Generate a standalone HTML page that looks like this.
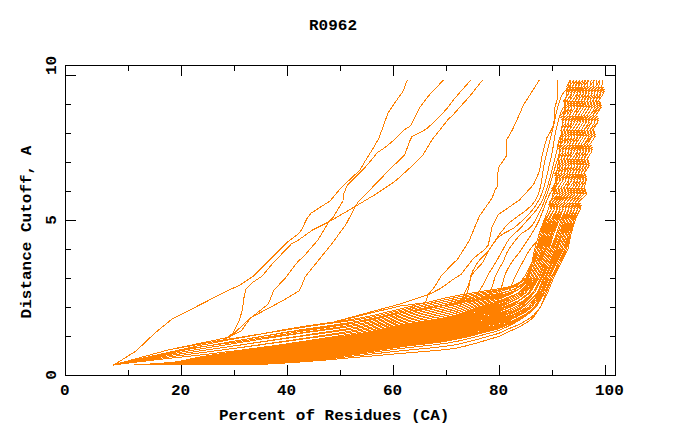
<!DOCTYPE html>
<html><head><meta charset="utf-8"><style>
html,body{margin:0;padding:0;background:#fff;width:680px;height:440px;overflow:hidden}
svg{display:block}
text{font-family:"Liberation Mono",monospace;font-weight:bold}
</style></head><body>
<svg width="680" height="440" viewBox="0 0 680 440">
<rect width="680" height="440" fill="#fff"/>
<g fill="none" stroke="#ff8000" stroke-width="1" shape-rendering="crispEdges">
<polyline points="143.0,365.0 248.1,364.6 252.1,364.4 256.0,364.3 259.9,364.1 263.8,363.9 267.5,363.7 271.2,363.5 274.9,363.3 278.5,363.1 282.1,362.8 285.6,362.5 289.0,362.3 292.4,362.0 295.7,361.7 299.0,361.5 302.2,361.2 305.4,361.0 308.5,360.7 311.6,360.4 314.7,360.1 317.7,359.8 320.7,359.5 323.6,359.2 326.5,359.0 329.4,358.7 332.2,358.4 335.0,358.1 337.7,357.8 340.5,357.5 343.1,357.2 345.8,356.9 348.4,356.6 351.0,356.3 353.6,356.1 356.1,355.8 358.7,355.5 361.2,355.3 363.6,355.0 366.1,354.7 368.5,354.5 370.9,354.2 373.3,353.9 375.7,353.7 378.0,353.4 380.4,353.1 382.7,352.9 385.0,352.6 387.3,352.3 389.6,352.1 391.8,351.8 394.1,351.6 396.3,351.3 398.5,351.1 400.7,350.8 402.9,350.6 405.1,350.4 407.3,350.2 409.4,349.9 411.6,349.7 413.7,349.5 415.9,349.3 418.0,349.1 420.1,348.9 422.3,348.7 424.4,348.5 426.5,348.3 428.6,348.1 430.8,347.9 432.9,347.7 435.0,347.4 437.1,347.2 439.2,347.0 441.3,346.7 443.4,346.5 445.5,346.2 447.6,345.9 449.7,345.6 451.8,345.3 453.9,345.0 456.0,344.6 458.1,344.2 460.2,343.8 462.2,343.3 464.3,342.8 466.4,342.3 468.4,341.7 470.5,341.2 472.5,340.7 474.6,340.2 476.6,339.6 478.7,339.0 480.7,338.5 482.8,337.9 484.8,337.3 486.9,336.7 488.9,336.1 491.0,335.5 493.1,334.9 495.2,334.4 497.2,333.8 499.3,333.1 501.3,332.2 503.2,331.3 505.1,330.4 507.1,329.5 509.1,328.6 511.1,327.8 513.1,327.0 515.1,326.2 517.1,325.3 519.1,324.4 521.0,323.4 522.9,322.4 524.8,321.3 526.7,320.2 528.5,319.1 530.3,317.9 532.0,316.5 533.7,315.1 535.1,313.5 540.5,307.0 547.7,292.5 553.5,278.0 560.8,263.5 568.0,249.0 570.9,234.5 575.2,220.0 580.6,209.0 579.4,208.1 581.0,207.2 578.9,206.4 580.5,205.5 578.4,204.6 580.0,203.8 577.9,202.9 578.6,202.0 586.4,194.5 585.2,193.6 586.8,192.8 584.8,191.9 586.3,191.0 584.2,190.1 585.8,189.2 583.8,188.4 584.4,187.5 586.4,180.0 585.2,179.1 586.8,178.2 584.8,177.4 586.3,176.5 584.2,175.6 585.8,174.8 583.8,173.9 584.4,173.0 589.3,165.5 588.1,164.6 589.7,163.8 587.6,162.9 589.2,162.0 587.1,161.1 588.7,160.2 586.6,159.4 587.3,158.5 592.2,151.0 591.0,150.1 592.6,149.2 590.5,148.4 592.1,147.5 590.0,146.6 591.6,145.8 589.5,144.9 590.2,144.0 595.1,136.5 594.0,135.6 595.5,134.8 593.5,133.9 595.0,133.0 593.0,132.1 594.5,131.2 592.5,130.4 593.1,129.5 598.0,122.0 596.9,121.1 598.4,120.2 596.4,119.4 597.9,118.5 595.9,117.6 597.4,116.8 595.4,115.9 596.0,115.0 600.9,107.5 599.8,106.6 601.3,105.8 599.2,104.9 600.8,104.0 598.8,103.1 600.3,102.2 598.2,101.4 598.9,100.5 603.8,93.0 602.6,92.1 604.2,91.2 602.1,90.4 603.7,89.5 601.6,88.6 603.2,87.8 601.1,86.9 601.8,86.0 602.8,80.0"/>
<polyline points="140.7,365.0 203.0,364.6 207.9,364.5 212.7,364.5 217.4,364.4 222.0,364.3 226.5,364.3 231.0,364.2 235.3,364.0 239.6,363.9 243.8,363.8 247.9,363.6 252.0,363.5 256.0,363.3 259.9,363.1 263.8,362.9 267.6,362.6 271.3,362.4 275.0,362.1 278.7,361.8 282.2,361.5 285.8,361.2 289.2,360.8 292.7,360.5 296.0,360.2 299.3,359.9 302.6,359.5 305.8,359.2 309.0,358.9 312.1,358.5 315.2,358.2 318.2,357.8 321.2,357.4 324.2,357.1 327.1,356.7 330.0,356.3 332.8,356.0 335.6,355.6 338.4,355.2 341.1,354.8 343.8,354.5 346.5,354.1 349.1,353.8 351.7,353.4 354.3,353.0 356.8,352.7 359.4,352.3 361.8,352.0 364.3,351.6 366.8,351.3 369.2,350.9 371.6,350.6 374.0,350.2 376.3,349.8 378.7,349.5 381.0,349.1 383.3,348.7 385.6,348.4 387.8,348.0 390.1,347.6 392.3,347.3 394.5,347.0 396.7,346.6 398.9,346.3 401.0,346.0 403.2,345.7 405.3,345.5 407.4,345.2 409.6,344.9 411.7,344.7 413.8,344.4 415.9,344.2 418.0,343.9 420.0,343.7 422.1,343.4 424.2,343.2 426.3,342.9 428.3,342.7 430.4,342.4 432.4,342.2 434.5,341.9 436.5,341.7 438.6,341.4 440.6,341.1 442.7,340.8 444.7,340.5 446.7,340.1 448.8,339.8 450.8,339.4 452.8,339.1 454.9,338.7 456.9,338.2 458.9,337.8 460.9,337.4 462.9,336.9 464.9,336.4 466.9,336.0 468.9,335.5 470.9,335.0 472.9,334.5 474.9,333.9 476.9,333.4 478.9,332.9 480.9,332.4 482.9,331.8 484.9,331.3 487.0,330.8 489.0,330.2 491.0,329.7 493.1,329.2 495.1,328.7 497.1,328.0 499.1,327.3 501.1,326.6 503.0,325.8 505.0,325.0 506.9,324.2 508.9,323.3 510.8,322.5 512.7,321.7 514.7,320.9 516.6,320.0 518.5,319.1 520.4,318.1 522.3,317.1 524.2,316.1 526.0,315.0 527.8,313.9 529.6,312.7 536.1,307.0 544.8,292.5 552.0,278.0 560.8,263.5 566.5,249.0 570.9,234.5 573.8,220.0 580.6,209.0 579.4,208.1 581.0,207.2 578.9,206.4 580.5,205.5 578.4,204.6 580.0,203.8 577.9,202.9 578.6,202.0 586.4,194.5 585.2,193.6 586.8,192.8 584.8,191.9 586.3,191.0 584.2,190.1 585.8,189.2 583.8,188.4 584.4,187.5 586.4,180.0 585.2,179.1 586.8,178.2 584.8,177.4 586.3,176.5 584.2,175.6 585.8,174.8 583.8,173.9 584.4,173.0 589.3,165.5 588.1,164.6 589.7,163.8 587.6,162.9 589.2,162.0 587.1,161.1 588.7,160.2 586.6,159.4 587.3,158.5 592.2,151.0 591.0,150.1 592.6,149.2 590.5,148.4 592.1,147.5 590.0,146.6 591.6,145.8 589.5,144.9 590.2,144.0 595.1,136.5 594.0,135.6 595.5,134.8 593.5,133.9 595.0,133.0 593.0,132.1 594.5,131.2 592.5,130.4 593.1,129.5 598.0,122.0 596.9,121.1 598.4,120.2 596.4,119.4 597.9,118.5 595.9,117.6 597.4,116.8 595.4,115.9 596.0,115.0 600.9,107.5 598.9,100.5 603.8,93.0 602.6,92.1 604.2,91.2 602.1,90.4 603.7,89.5 601.6,88.6 603.2,87.8 601.1,86.9 601.8,86.0 602.8,80.0"/>
<polyline points="141.0,365.0 239.2,364.5 243.4,364.4 247.5,364.3 251.5,364.1 255.5,363.9 259.4,363.7 263.3,363.5 267.1,363.3 270.9,363.0 274.6,362.8 278.2,362.5 281.8,362.2 285.4,361.9 288.8,361.6 292.3,361.2 295.6,360.9 298.9,360.6 302.2,360.3 305.4,359.9 308.6,359.6 311.7,359.3 314.8,358.9 317.9,358.5 320.9,358.2 323.9,357.8 326.8,357.4 329.6,357.1 332.5,356.7 335.3,356.3 338.1,356.0 340.8,355.6 343.5,355.2 346.2,354.9 348.8,354.5 351.5,354.2 354.1,353.8 356.6,353.5 359.1,353.1 361.6,352.8 364.1,352.4 366.5,352.1 369.0,351.7 371.4,351.4 373.8,351.0 376.1,350.6 378.5,350.3 380.8,349.9 383.1,349.5 385.4,349.2 387.7,348.8 389.9,348.5 392.1,348.1 394.4,347.8 396.6,347.5 398.7,347.2 400.9,346.9 403.1,346.6 405.2,346.3 407.4,346.0 409.5,345.8 411.6,345.5 413.7,345.3 415.8,345.0 417.9,344.8 420.0,344.5 422.1,344.3 424.2,344.1 426.3,343.8 428.3,343.6 430.4,343.3 432.5,343.1 434.5,342.8 436.6,342.5 438.6,342.3 440.7,342.0 442.7,341.7 444.8,341.4 446.8,341.0 448.9,340.7 450.9,340.3 452.9,339.9 455.0,339.5 457.0,339.1 459.0,338.7 461.1,338.3 463.1,337.8 465.1,337.3 467.1,336.9 469.1,336.4 471.1,335.9 473.1,335.4 475.2,334.9 477.2,334.3 479.2,333.8 481.2,333.3 483.2,332.8 485.2,332.2 487.3,331.7 489.3,331.2 491.4,330.7 493.4,330.1 495.5,329.6 497.5,329.0 499.5,328.2 501.4,327.5 503.4,326.7 505.3,325.8 507.3,325.0 509.2,324.1 511.1,323.2 513.1,322.4 515.0,321.5 516.9,320.6 518.8,319.6 520.7,318.6 522.5,317.6 524.4,316.5 526.2,315.4 528.0,314.2 529.7,313.0 536.1,307.0 544.8,292.5 552.0,278.0 559.3,263.5 566.5,249.0 569.5,234.5 573.8,220.0 577.7,209.0 576.6,208.1 578.1,207.2 576.1,206.4 577.6,205.5 575.6,204.6 577.1,203.8 575.1,202.9 575.7,202.0 583.5,194.5 582.4,193.6 583.9,192.8 581.9,191.9 583.4,191.0 581.4,190.1 582.9,189.2 580.9,188.4 581.5,187.5 586.4,180.0 585.2,179.1 586.8,178.2 584.8,177.4 586.3,176.5 584.2,175.6 585.8,174.8 583.8,173.9 584.4,173.0 586.4,165.5 585.2,164.6 586.8,163.8 584.8,162.9 586.3,162.0 584.2,161.1 585.8,160.2 583.8,159.4 584.4,158.5 589.3,151.0 588.1,150.1 589.7,149.2 587.6,148.4 589.2,147.5 587.1,146.6 588.7,145.8 586.6,144.9 587.3,144.0 592.2,136.5 591.0,135.6 592.6,134.8 590.5,133.9 592.1,133.0 590.0,132.1 591.6,131.2 589.5,130.4 590.2,129.5 598.0,122.0 596.9,121.1 598.4,120.2 596.4,119.4 597.9,118.5 595.9,117.6 597.4,116.8 595.4,115.9 596.0,115.0 600.9,107.5 599.8,106.6 601.3,105.8 599.2,104.9 600.8,104.0 598.8,103.1 600.3,102.2 598.2,101.4 598.9,100.5 600.9,93.0 599.8,92.1 601.3,91.2 599.2,90.4 600.8,89.5 598.8,88.6 600.3,87.8 598.2,86.9 598.9,86.0 599.9,80.0"/>
<polyline points="140.5,365.0 187.6,364.5 192.9,364.4 198.2,364.3 203.3,364.2 208.1,364.1 213.0,364.0 217.8,363.9 222.4,363.8 226.9,363.7 231.4,363.6 235.7,363.5 240.0,363.4 244.2,363.2 248.4,363.0 252.4,362.8 256.4,362.6 260.3,362.4 264.2,362.2 268.0,362.0 271.8,361.7 275.4,361.4 279.1,361.1 282.7,360.8 286.2,360.5 289.7,360.1 293.1,359.8 296.4,359.5 299.7,359.1 303.0,358.8 306.2,358.5 309.4,358.1 312.5,357.8 315.6,357.4 318.6,357.1 321.6,356.7 324.5,356.3 327.4,355.9 330.3,355.6 333.1,355.2 335.9,354.8 338.7,354.5 341.4,354.1 344.1,353.7 346.8,353.4 349.4,353.0 352.0,352.6 354.6,352.3 357.1,351.9 359.6,351.6 362.1,351.2 364.5,350.9 367.0,350.5 369.4,350.1 371.8,349.8 374.2,349.4 376.5,349.0 378.8,348.6 381.2,348.3 383.4,347.9 385.7,347.5 388.0,347.2 390.2,346.8 392.4,346.5 394.6,346.1 396.8,345.8 399.0,345.5 401.1,345.2 403.3,344.9 405.4,344.6 407.5,344.3 409.6,344.1 411.7,343.8 413.8,343.6 415.9,343.3 418.0,343.1 420.1,342.8 422.1,342.6 424.2,342.3 426.3,342.1 428.3,341.8 430.4,341.6 432.4,341.3 434.4,341.0 436.5,340.8 438.5,340.5 440.6,340.2 442.6,339.9 444.6,339.6 446.6,339.3 448.7,338.9 450.7,338.6 452.7,338.2 454.7,337.8 456.7,337.4 458.7,336.9 460.7,336.5 462.7,336.0 464.7,335.5 466.7,335.1 468.7,334.6 470.7,334.1 472.7,333.5 474.7,333.0 476.7,332.5 478.7,332.0 480.7,331.4 482.7,330.9 484.7,330.3 486.7,329.8 488.7,329.3 490.7,328.8 492.7,328.3 494.8,327.7 496.8,327.1 498.7,326.4 500.7,325.7 502.7,324.9 504.6,324.1 506.5,323.3 508.5,322.5 510.4,321.6 512.3,320.8 514.3,320.0 516.2,319.1 518.1,318.2 520.0,317.2 521.8,316.2 523.7,315.2 525.5,314.1 527.3,313.0 534.6,307.0 544.8,292.5 550.6,278.0 559.3,263.5 565.1,249.0 569.5,234.5 572.3,220.0 577.7,209.0 576.6,208.1 578.1,207.2 576.1,206.4 577.6,205.5 575.6,204.6 577.1,203.8 575.1,202.9 575.7,202.0 583.5,194.5 582.4,193.6 583.9,192.8 581.9,191.9 583.4,191.0 581.4,190.1 582.9,189.2 580.9,188.4 581.5,187.5 586.4,180.0 585.2,179.1 586.8,178.2 584.8,177.4 586.3,176.5 584.2,175.6 585.8,174.8 583.8,173.9 584.4,173.0 586.4,165.5 585.2,164.6 586.8,163.8 584.8,162.9 586.3,162.0 584.2,161.1 585.8,160.2 583.8,159.4 584.4,158.5 589.3,151.0 587.3,144.0 592.2,136.5 591.0,135.6 592.6,134.8 590.5,133.9 592.1,133.0 590.0,132.1 591.6,131.2 589.5,130.4 590.2,129.5 595.1,122.0 593.1,115.0 600.9,107.5 599.8,106.6 601.3,105.8 599.2,104.9 600.8,104.0 598.8,103.1 600.3,102.2 598.2,101.4 598.9,100.5 600.9,93.0 599.8,92.1 601.3,91.2 599.2,90.4 600.8,89.5 598.8,88.6 600.3,87.8 598.2,86.9 598.9,86.0 599.9,80.0"/>
<polyline points="143.0,365.0 256.4,364.5 260.2,364.4 264.1,364.2 267.8,364.0 271.5,363.9 275.1,363.6 278.7,363.4 282.2,363.2 285.7,363.0 289.1,362.7 292.5,362.5 295.8,362.3 299.0,362.1 302.2,361.8 305.4,361.6 308.5,361.4 311.5,361.2 314.6,360.9 317.6,360.7 320.5,360.4 323.5,360.2 326.3,360.0 329.2,359.7 332.0,359.5 334.7,359.2 337.5,359.0 340.2,358.7 342.9,358.5 345.5,358.3 348.2,358.0 350.7,357.8 353.3,357.6 355.9,357.4 358.4,357.1 360.9,356.9 363.3,356.7 365.8,356.5 368.2,356.3 370.6,356.1 373.0,355.9 375.4,355.7 377.8,355.5 380.1,355.3 382.4,355.1 384.7,354.9 387.0,354.7 389.3,354.4 391.6,354.2 393.9,354.0 396.1,353.8 398.3,353.6 400.6,353.5 402.8,353.3 405.0,353.1 407.2,352.9 409.4,352.7 411.6,352.5 413.7,352.4 415.9,352.2 418.1,352.0 420.2,351.8 422.4,351.6 424.5,351.5 426.7,351.3 428.9,351.1 431.0,350.9 433.1,350.7 435.3,350.5 437.4,350.3 439.6,350.1 441.7,349.9 443.9,349.7 446.0,349.5 448.1,349.2 450.3,349.0 452.4,348.7 454.6,348.3 456.7,348.0 458.8,347.6 460.9,347.1 463.0,346.7 465.1,346.1 467.2,345.6 469.3,345.0 471.4,344.4 473.4,343.9 475.5,343.3 477.6,342.8 479.7,342.2 481.8,341.5 483.8,340.9 485.9,340.3 488.0,339.6 490.0,339.0 492.1,338.4 494.2,337.8 496.3,337.2 498.4,336.6 500.5,335.8 502.4,334.9 504.4,333.8 506.3,332.8 508.2,331.8 510.2,331.0 512.3,330.1 514.3,329.3 516.3,328.4 518.3,327.4 520.2,326.4 522.1,325.3 524.0,324.1 525.8,323.0 527.7,321.8 529.5,320.5 531.2,319.2 532.8,317.7 534.4,316.0 535.8,314.2 537.0,312.3 540.5,307.0 546.2,292.5 552.0,278.0 557.8,263.5 565.1,249.0 568.0,234.5 572.3,220.0 577.7,209.0 576.6,208.1 578.1,207.2 576.1,206.4 577.6,205.5 575.6,204.6 577.1,203.8 575.1,202.9 575.7,202.0 583.5,194.5 582.4,193.6 583.9,192.8 581.9,191.9 583.4,191.0 581.4,190.1 582.9,189.2 580.9,188.4 581.5,187.5 583.5,180.0 582.4,179.1 583.9,178.2 581.9,177.4 583.4,176.5 581.4,175.6 582.9,174.8 580.9,173.9 581.5,173.0 586.4,165.5 585.2,164.6 586.8,163.8 584.8,162.9 586.3,162.0 584.2,161.1 585.8,160.2 583.8,159.4 584.4,158.5 589.3,151.0 588.1,150.1 589.7,149.2 587.6,148.4 589.2,147.5 587.1,146.6 588.7,145.8 586.6,144.9 587.3,144.0 592.2,136.5 591.0,135.6 592.6,134.8 590.5,133.9 592.1,133.0 590.0,132.1 591.6,131.2 589.5,130.4 590.2,129.5 595.1,122.0 594.0,121.1 595.5,120.2 593.5,119.4 595.0,118.5 593.0,117.6 594.5,116.8 592.5,115.9 593.1,115.0 598.0,107.5 596.9,106.6 598.4,105.8 596.4,104.9 597.9,104.0 595.9,103.1 597.4,102.2 595.4,101.4 596.0,100.5 600.9,93.0 599.8,92.1 601.3,91.2 599.2,90.4 600.8,89.5 598.8,88.6 600.3,87.8 598.2,86.9 598.9,86.0 599.9,80.0"/>
<polyline points="139.9,365.0 176.3,364.5 182.1,364.3 187.8,364.1 193.3,363.8 198.6,363.7 203.8,363.5 208.7,363.3 213.7,363.2 218.5,363.0 223.1,362.9 227.7,362.7 232.2,362.6 236.5,362.4 240.9,362.2 245.1,362.0 249.2,361.8 253.3,361.6 257.3,361.4 261.2,361.1 265.1,360.9 268.9,360.6 272.6,360.3 276.3,360.0 280.0,359.7 283.5,359.4 287.0,359.1 290.5,358.7 293.9,358.4 297.2,358.0 300.5,357.7 303.8,357.3 307.0,357.0 310.1,356.7 313.2,356.3 316.3,355.9 319.3,355.6 322.3,355.2 325.2,354.8 328.1,354.4 330.9,354.1 333.8,353.7 336.5,353.3 339.3,352.9 342.0,352.6 344.7,352.2 347.3,351.8 349.9,351.5 352.5,351.1 355.1,350.7 357.6,350.4 360.1,350.0 362.5,349.7 365.0,349.3 367.4,348.9 369.8,348.6 372.2,348.2 374.5,347.8 376.9,347.4 379.2,347.0 381.5,346.6 383.8,346.3 386.0,345.9 388.3,345.5 390.5,345.1 392.7,344.8 394.9,344.4 397.0,344.1 399.2,343.8 401.3,343.5 403.5,343.2 405.6,342.9 407.7,342.6 409.8,342.4 411.9,342.1 413.9,341.9 416.0,341.6 418.1,341.3 420.1,341.1 422.2,340.8 424.2,340.6 426.2,340.3 428.3,340.1 430.3,339.8 432.3,339.6 434.4,339.3 436.4,339.0 438.4,338.7 440.4,338.5 442.4,338.2 444.5,337.8 446.5,337.5 448.5,337.2 450.5,336.8 452.5,336.4 454.5,336.0 456.5,335.6 458.4,335.2 460.4,334.7 462.4,334.2 464.4,333.7 466.3,333.3 468.3,332.7 470.3,332.2 472.2,331.7 474.2,331.2 476.2,330.6 478.1,330.1 480.1,329.6 482.1,329.0 484.1,328.5 486.0,327.9 488.0,327.4 490.0,326.9 492.1,326.4 494.1,325.9 496.1,325.3 498.0,324.6 500.0,323.9 501.9,323.1 503.9,322.4 505.8,321.6 507.7,320.8 509.6,320.0 511.6,319.2 513.5,318.3 515.4,317.5 517.3,316.6 519.1,315.6 521.0,314.6 522.8,313.6 524.6,312.6 526.4,311.5 531.8,307.0 543.3,292.5 549.1,278.0 556.4,263.5 563.6,249.0 568.0,234.5 570.9,220.0 577.7,209.0 576.6,208.1 578.1,207.2 576.1,206.4 577.6,205.5 575.6,204.6 577.1,203.8 575.1,202.9 575.7,202.0 580.6,194.5 579.4,193.6 581.0,192.8 578.9,191.9 580.5,191.0 578.4,190.1 580.0,189.2 577.9,188.4 578.6,187.5 583.5,180.0 582.4,179.1 583.9,178.2 581.9,177.4 583.4,176.5 581.4,175.6 582.9,174.8 580.9,173.9 581.5,173.0 586.4,165.5 585.2,164.6 586.8,163.8 584.8,162.9 586.3,162.0 584.2,161.1 585.8,160.2 583.8,159.4 584.4,158.5 586.4,151.0 585.2,150.1 586.8,149.2 584.8,148.4 586.3,147.5 584.2,146.6 585.8,145.8 583.8,144.9 584.4,144.0 592.2,136.5 591.0,135.6 592.6,134.8 590.5,133.9 592.1,133.0 590.0,132.1 591.6,131.2 589.5,130.4 590.2,129.5 595.1,122.0 594.0,121.1 595.5,120.2 593.5,119.4 595.0,118.5 593.0,117.6 594.5,116.8 592.5,115.9 593.1,115.0 598.0,107.5 596.9,106.6 598.4,105.8 596.4,104.9 597.9,104.0 595.9,103.1 597.4,102.2 595.4,101.4 596.0,100.5 598.0,93.0 596.9,92.1 598.4,91.2 596.4,90.4 597.9,89.5 595.9,88.6 597.4,87.8 595.4,86.9 596.0,86.0 599.9,80.0"/>
<polyline points="139.4,365.0 164.4,364.6 170.4,364.4 176.3,364.3 182.1,364.0 188.1,363.6 193.6,363.3 199.0,363.0 204.3,362.8 209.3,362.5 214.3,362.3 219.1,362.1 223.8,361.9 228.5,361.7 233.0,361.5 237.4,361.3 241.7,361.0 245.9,360.8 250.1,360.6 254.2,360.3 258.2,360.1 262.1,359.8 266.0,359.5 269.8,359.3 273.5,359.0 277.2,358.6 280.8,358.3 284.4,358.0 287.9,357.6 291.3,357.3 294.7,356.9 298.1,356.6 301.3,356.2 304.6,355.9 307.7,355.5 310.9,355.2 314.0,354.8 317.0,354.4 320.0,354.1 323.0,353.7 325.9,353.3 328.7,352.9 331.6,352.6 334.4,352.2 337.1,351.8 339.9,351.4 342.6,351.1 345.2,350.7 347.9,350.3 350.5,349.9 353.0,349.6 355.6,349.2 358.1,348.8 360.6,348.5 363.0,348.1 365.4,347.7 367.9,347.4 370.2,347.0 372.6,346.6 374.9,346.2 377.3,345.8 379.6,345.4 381.9,345.0 384.1,344.6 386.4,344.2 388.6,343.8 390.8,343.5 393.0,343.1 395.1,342.8 397.3,342.4 399.4,342.1 401.5,341.8 403.6,341.5 405.7,341.2 407.8,340.9 409.9,340.7 412.0,340.4 414.0,340.1 416.1,339.9 418.1,339.6 420.2,339.4 422.2,339.1 424.2,338.9 426.2,338.6 428.3,338.4 430.3,338.1 432.3,337.8 434.3,337.6 436.3,337.3 438.3,337.0 440.3,336.7 442.3,336.4 444.3,336.1 446.3,335.7 448.3,335.4 450.2,335.0 452.2,334.7 454.2,334.2 456.2,333.8 458.1,333.4 460.1,332.9 462.1,332.4 464.0,332.0 466.0,331.5 467.9,330.9 469.9,330.4 471.8,329.9 473.7,329.3 475.7,328.8 477.6,328.2 479.6,327.7 481.5,327.1 483.5,326.6 485.4,326.1 487.4,325.5 489.4,325.0 491.4,324.5 493.4,324.0 495.4,323.4 497.3,322.7 499.2,322.1 501.2,321.4 503.1,320.6 505.0,319.9 507.0,319.1 508.9,318.4 510.8,317.6 512.7,316.8 514.7,316.0 516.5,315.1 518.4,314.2 520.3,313.3 522.1,312.3 523.9,311.3 525.7,310.3 530.3,307.0 541.9,292.5 549.1,278.0 556.4,263.5 562.2,249.0 566.5,234.5 570.9,220.0 574.8,209.0 573.6,208.1 575.2,207.2 573.1,206.4 574.7,205.5 572.6,204.6 574.2,203.8 572.1,202.9 572.8,202.0 580.6,194.5 578.6,187.5 583.5,180.0 582.4,179.1 583.9,178.2 581.9,177.4 583.4,176.5 581.4,175.6 582.9,174.8 580.9,173.9 581.5,173.0 583.5,165.5 582.4,164.6 583.9,163.8 581.9,162.9 583.4,162.0 581.4,161.1 582.9,160.2 580.9,159.4 581.5,158.5 586.4,151.0 585.2,150.1 586.8,149.2 584.8,148.4 586.3,147.5 584.2,146.6 585.8,145.8 583.8,144.9 584.4,144.0 589.3,136.5 588.1,135.6 589.7,134.8 587.6,133.9 589.2,133.0 587.1,132.1 588.7,131.2 586.6,130.4 587.3,129.5 592.2,122.0 591.0,121.1 592.6,120.2 590.5,119.4 592.1,118.5 590.0,117.6 591.6,116.8 589.5,115.9 590.2,115.0 598.0,107.5 596.9,106.6 598.4,105.8 596.4,104.9 597.9,104.0 595.9,103.1 597.4,102.2 595.4,101.4 596.0,100.5 598.0,93.0 596.9,92.1 598.4,91.2 596.4,90.4 597.9,89.5 595.9,88.6 597.4,87.8 595.4,86.9 596.0,86.0 597.0,80.0"/>
<polyline points="139.7,365.0 170.5,364.5 176.3,364.4 182.1,364.2 187.9,363.8 193.4,363.5 198.8,363.3 204.0,363.1 209.0,362.9 214.0,362.8 218.8,362.6 223.5,362.4 228.1,362.2 232.6,362.0 237.0,361.8 241.3,361.6 245.5,361.4 249.7,361.2 253.7,361.0 257.7,360.7 261.7,360.5 265.5,360.2 269.3,359.9 273.1,359.6 276.8,359.3 280.4,359.0 283.9,358.7 287.5,358.3 290.9,358.0 294.3,357.7 297.6,357.3 300.9,357.0 304.2,356.6 307.4,356.3 310.5,355.9 313.6,355.5 316.6,355.2 319.6,354.8 322.6,354.4 325.5,354.1 328.4,353.7 331.3,353.3 334.1,352.9 336.8,352.6 339.6,352.2 342.3,351.8 344.9,351.4 347.6,351.1 350.2,350.7 352.8,350.3 355.3,350.0 357.8,349.6 360.3,349.3 362.8,348.9 365.2,348.5 367.6,348.1 370.0,347.8 372.4,347.4 374.7,347.0 377.1,346.6 379.4,346.2 381.7,345.8 383.9,345.4 386.2,345.0 388.4,344.7 390.6,344.3 392.8,344.0 395.0,343.6 397.2,343.3 399.3,343.0 401.4,342.6 403.5,342.3 405.7,342.1 407.7,341.8 409.8,341.5 411.9,341.3 414.0,341.0 416.0,340.7 418.1,340.5 420.1,340.2 422.2,340.0 424.2,339.7 426.2,339.5 428.3,339.2 430.3,339.0 432.3,338.7 434.3,338.4 436.3,338.2 438.4,337.9 440.4,337.6 442.4,337.3 444.4,337.0 446.4,336.6 448.4,336.3 450.4,335.9 452.3,335.5 454.3,335.1 456.3,334.7 458.3,334.3 460.3,333.8 462.2,333.3 464.2,332.9 466.2,332.4 468.1,331.8 470.1,331.3 472.0,330.8 474.0,330.3 475.9,329.7 477.9,329.2 479.8,328.6 481.8,328.1 483.8,327.5 485.7,327.0 487.7,326.5 489.7,326.0 491.7,325.4 493.7,324.9 495.7,324.3 497.7,323.6 499.6,322.9 501.5,322.2 503.5,321.5 505.4,320.7 507.3,319.9 509.2,319.1 511.1,318.3 513.0,317.5 514.9,316.6 516.8,315.7 518.7,314.7 520.5,313.7 522.3,312.7 524.1,311.6 525.9,310.5 530.3,307.0 541.9,292.5 547.7,278.0 555.0,263.5 562.2,249.0 566.5,234.5 569.5,220.0 574.8,209.0 572.8,202.0 580.6,194.5 579.4,193.6 581.0,192.8 578.9,191.9 580.5,191.0 578.4,190.1 580.0,189.2 577.9,188.4 578.6,187.5 583.5,180.0 582.4,179.1 583.9,178.2 581.9,177.4 583.4,176.5 581.4,175.6 582.9,174.8 580.9,173.9 581.5,173.0 583.5,165.5 582.4,164.6 583.9,163.8 581.9,162.9 583.4,162.0 581.4,161.1 582.9,160.2 580.9,159.4 581.5,158.5 586.4,151.0 585.2,150.1 586.8,149.2 584.8,148.4 586.3,147.5 584.2,146.6 585.8,145.8 583.8,144.9 584.4,144.0 589.3,136.5 588.1,135.6 589.7,134.8 587.6,133.9 589.2,133.0 587.1,132.1 588.7,131.2 586.6,130.4 587.3,129.5 592.2,122.0 591.0,121.1 592.6,120.2 590.5,119.4 592.1,118.5 590.0,117.6 591.6,116.8 589.5,115.9 590.2,115.0 595.1,107.5 594.0,106.6 595.5,105.8 593.5,104.9 595.0,104.0 593.0,103.1 594.5,102.2 592.5,101.4 593.1,100.5 598.0,93.0 596.9,92.1 598.4,91.2 596.4,90.4 597.9,89.5 595.9,88.6 597.4,87.8 595.4,86.9 596.0,86.0 597.0,80.0"/>
<polyline points="139.1,365.0 164.3,364.5 170.4,364.4 176.3,364.2 182.2,363.9 188.2,363.4 193.8,363.0 199.2,362.7 204.5,362.4 209.6,362.1 214.6,361.9 219.5,361.7 224.2,361.4 228.8,361.2 233.4,361.0 237.8,360.7 242.1,360.5 246.4,360.2 250.5,360.0 254.6,359.7 258.6,359.4 262.6,359.2 266.4,358.9 270.2,358.6 274.0,358.3 277.6,358.0 281.2,357.6 284.8,357.3 288.3,356.9 291.7,356.6 295.1,356.2 298.5,355.9 301.7,355.5 304.9,355.2 308.1,354.8 311.3,354.4 314.3,354.1 317.4,353.7 320.3,353.3 323.3,352.9 326.2,352.6 329.1,352.2 331.9,351.8 334.7,351.4 337.5,351.1 340.2,350.7 342.9,350.3 345.5,349.9 348.2,349.6 350.7,349.2 353.3,348.8 355.8,348.4 358.3,348.1 360.8,347.7 363.2,347.3 365.7,347.0 368.1,346.6 370.4,346.2 372.8,345.8 375.1,345.4 377.5,345.0 379.7,344.6 382.0,344.2 384.3,343.8 386.5,343.4 388.7,343.0 390.9,342.6 393.1,342.3 395.3,341.9 397.4,341.6 399.5,341.3 401.6,341.0 403.7,340.7 405.8,340.4 407.9,340.1 410.0,339.8 412.0,339.5 414.1,339.3 416.1,339.0 418.2,338.8 420.2,338.5 422.2,338.3 424.2,338.0 426.2,337.7 428.2,337.5 430.3,337.2 432.3,337.0 434.3,336.7 436.3,336.4 438.2,336.1 440.2,335.8 442.2,335.5 444.2,335.2 446.2,334.9 448.2,334.5 450.1,334.2 452.1,333.8 454.1,333.4 456.0,332.9 458.0,332.5 459.9,332.0 461.9,331.6 463.8,331.1 465.8,330.6 467.7,330.0 469.6,329.5 471.6,329.0 473.5,328.4 475.4,327.9 477.4,327.3 479.3,326.8 481.2,326.2 483.2,325.6 485.1,325.1 487.1,324.6 489.1,324.1 491.0,323.6 493.0,323.0 495.0,322.5 496.9,321.8 498.9,321.2 500.8,320.5 502.7,319.8 504.7,319.0 506.6,318.3 508.5,317.5 510.4,316.7 512.3,315.9 514.2,315.1 516.1,314.2 517.9,313.3 519.8,312.3 521.6,311.4 523.4,310.4 525.2,309.3 528.8,307.0 540.5,292.5 547.7,278.0 555.0,263.5 560.8,249.0 565.1,234.5 569.5,220.0 574.8,209.0 572.8,202.0 580.6,194.5 579.4,193.6 581.0,192.8 578.9,191.9 580.5,191.0 578.4,190.1 580.0,189.2 577.9,188.4 578.6,187.5 580.6,180.0 579.4,179.1 581.0,178.2 578.9,177.4 580.5,176.5 578.4,175.6 580.0,174.8 577.9,173.9 578.6,173.0 583.5,165.5 582.4,164.6 583.9,163.8 581.9,162.9 583.4,162.0 581.4,161.1 582.9,160.2 580.9,159.4 581.5,158.5 586.4,151.0 585.2,150.1 586.8,149.2 584.8,148.4 586.3,147.5 584.2,146.6 585.8,145.8 583.8,144.9 584.4,144.0 589.3,136.5 588.1,135.6 589.7,134.8 587.6,133.9 589.2,133.0 587.1,132.1 588.7,131.2 586.6,130.4 587.3,129.5 592.2,122.0 591.0,121.1 592.6,120.2 590.5,119.4 592.1,118.5 590.0,117.6 591.6,116.8 589.5,115.9 590.2,115.0 595.1,107.5 594.0,106.6 595.5,105.8 593.5,104.9 595.0,104.0 593.0,103.1 594.5,102.2 592.5,101.4 593.1,100.5 598.0,93.0 596.9,92.1 598.4,91.2 596.4,90.4 597.9,89.5 595.9,88.6 597.4,87.8 595.4,86.9 596.0,86.0 597.0,80.0"/>
<polyline points="143.0,365.0 243.6,364.5 247.7,364.4 251.8,364.2 255.7,364.1 259.6,363.9 263.5,363.7 267.3,363.5 271.0,363.2 274.7,363.0 278.4,362.7 281.9,362.4 285.5,362.2 288.9,361.9 292.3,361.6 295.7,361.3 299.0,361.0 302.2,360.7 305.4,360.4 308.6,360.1 311.7,359.7 314.8,359.4 317.8,359.1 320.8,358.7 323.8,358.4 326.6,358.1 329.5,357.7 332.4,357.4 335.2,357.1 337.9,356.7 340.7,356.4 343.4,356.1 346.1,355.7 348.7,355.4 351.3,355.1 353.9,354.8 356.4,354.4 358.9,354.1 361.4,353.8 363.9,353.5 366.4,353.2 368.8,352.9 371.2,352.6 373.6,352.2 376.0,351.9 378.3,351.6 380.6,351.2 382.9,350.9 385.2,350.6 387.5,350.3 389.8,350.0 392.0,349.7 394.2,349.4 396.4,349.1 398.6,348.8 400.8,348.5 403.0,348.3 405.2,348.0 407.3,347.8 409.5,347.5 411.6,347.3 413.7,347.1 415.8,346.8 418.0,346.6 420.1,346.4 422.2,346.1 424.3,345.9 426.4,345.7 428.5,345.5 430.5,345.2 432.6,345.0 434.7,344.7 436.8,344.5 438.9,344.2 440.9,343.9 443.0,343.7 445.1,343.4 447.2,343.1 449.2,342.8 451.3,342.4 453.4,342.0 455.4,341.7 457.5,341.2 459.5,340.8 461.5,340.4 463.6,339.9 465.6,339.4 467.6,338.9 469.7,338.4 471.7,337.9 473.7,337.4 475.8,336.8 477.8,336.3 479.8,335.7 481.9,335.2 483.9,334.6 485.9,334.1 488.0,333.5 490.0,333.0 492.1,332.4 494.1,331.9 496.2,331.3 498.2,330.7 500.2,329.9 502.2,329.0 504.1,328.1 506.0,327.2 507.9,326.3 509.8,325.4 511.7,324.4 513.7,323.4 515.5,322.4 517.4,321.4 519.2,320.3 521.0,319.1 522.8,317.9 524.5,316.7 526.3,315.4 527.9,314.0 529.6,312.6 534.6,307.0 543.3,292.5 547.7,278.0 553.5,263.5 560.8,249.0 565.1,234.5 568.0,220.0 574.8,209.0 573.6,208.1 575.2,207.2 573.1,206.4 574.7,205.5 572.6,204.6 574.2,203.8 572.1,202.9 572.8,202.0 577.7,194.5 576.6,193.6 578.1,192.8 576.1,191.9 577.6,191.0 575.6,190.1 577.1,189.2 575.1,188.4 575.7,187.5 580.6,180.0 579.4,179.1 581.0,178.2 578.9,177.4 580.5,176.5 578.4,175.6 580.0,174.8 577.9,173.9 578.6,173.0 583.5,165.5 582.4,164.6 583.9,163.8 581.9,162.9 583.4,162.0 581.4,161.1 582.9,160.2 580.9,159.4 581.5,158.5 583.5,151.0 582.4,150.1 583.9,149.2 581.9,148.4 583.4,147.5 581.4,146.6 582.9,145.8 580.9,144.9 581.5,144.0 586.4,136.5 585.2,135.6 586.8,134.8 584.8,133.9 586.3,133.0 584.2,132.1 585.8,131.2 583.8,130.4 584.4,129.5 592.2,122.0 591.0,121.1 592.6,120.2 590.5,119.4 592.1,118.5 590.0,117.6 591.6,116.8 589.5,115.9 590.2,115.0 595.1,107.5 594.0,106.6 595.5,105.8 593.5,104.9 595.0,104.0 593.0,103.1 594.5,102.2 592.5,101.4 593.1,100.5 595.1,93.0 593.1,86.0 594.1,80.0"/>
<polyline points="138.8,365.0 158.0,364.6 164.2,364.4 170.3,364.3 176.2,364.0 182.2,363.7 188.3,363.1 194.0,362.7 199.5,362.3 204.8,362.0 209.9,361.8 214.9,361.5 219.8,361.2 224.5,360.9 229.2,360.7 233.8,360.4 238.2,360.1 242.6,359.9 246.8,359.6 251.0,359.3 255.1,359.1 259.1,358.8 263.0,358.5 266.9,358.2 270.7,357.9 274.4,357.6 278.1,357.3 281.7,356.9 285.2,356.6 288.7,356.2 292.2,355.9 295.6,355.5 298.9,355.1 302.1,354.8 305.3,354.4 308.5,354.1 311.6,353.7 314.7,353.3 317.7,353.0 320.7,352.6 323.7,352.2 326.6,351.8 329.4,351.4 332.2,351.1 335.0,350.7 337.8,350.3 340.5,349.9 343.2,349.5 345.8,349.2 348.4,348.8 351.0,348.4 353.5,348.1 356.1,347.7 358.6,347.3 361.0,346.9 363.5,346.6 365.9,346.2 368.3,345.8 370.7,345.4 373.0,345.0 375.3,344.6 377.7,344.2 379.9,343.8 382.2,343.4 384.4,343.0 386.7,342.6 388.9,342.2 391.1,341.8 393.2,341.4 395.4,341.1 397.5,340.7 399.6,340.4 401.7,340.1 403.8,339.8 405.9,339.5 408.0,339.2 410.0,339.0 412.1,338.7 414.1,338.4 416.2,338.2 418.2,337.9 420.2,337.6 422.2,337.4 424.2,337.1 426.2,336.9 428.2,336.6 430.2,336.4 432.2,336.1 434.2,335.8 436.2,335.5 438.2,335.2 440.2,334.9 442.1,334.6 444.1,334.3 446.1,334.0 448.1,333.6 450.0,333.3 452.0,332.9 453.9,332.5 455.9,332.1 457.8,331.6 459.8,331.1 461.7,330.7 463.7,330.2 465.6,329.7 467.5,329.1 469.4,328.6 471.3,328.1 473.3,327.5 475.2,326.9 477.1,326.4 479.0,325.8 480.9,325.3 482.9,324.7 484.8,324.2 486.8,323.6 488.7,323.1 490.7,322.6 492.7,322.1 494.6,321.5 496.6,320.9 498.5,320.2 500.4,319.6 502.4,318.9 504.3,318.1 506.2,317.4 508.1,316.6 510.0,315.8 511.9,315.0 513.7,314.2 515.6,313.3 517.4,312.4 519.3,311.4 521.1,310.4 522.9,309.4 524.6,308.3 526.0,307.0 540.5,292.5 546.2,278.0 552.0,263.5 559.3,249.0 563.6,234.5 568.0,220.0 571.9,209.0 570.8,208.1 572.3,207.2 570.2,206.4 571.8,205.5 569.8,204.6 571.3,203.8 569.2,202.9 569.9,202.0 577.7,194.5 576.6,193.6 578.1,192.8 576.1,191.9 577.6,191.0 575.6,190.1 577.1,189.2 575.1,188.4 575.7,187.5 580.6,180.0 579.4,179.1 581.0,178.2 578.9,177.4 580.5,176.5 578.4,175.6 580.0,174.8 577.9,173.9 578.6,173.0 580.6,165.5 579.4,164.6 581.0,163.8 578.9,162.9 580.5,162.0 578.4,161.1 580.0,160.2 577.9,159.4 578.6,158.5 583.5,151.0 581.5,144.0 586.4,136.5 585.2,135.6 586.8,134.8 584.8,133.9 586.3,133.0 584.2,132.1 585.8,131.2 583.8,130.4 584.4,129.5 589.3,122.0 588.1,121.1 589.7,120.2 587.6,119.4 589.2,118.5 587.1,117.6 588.7,116.8 586.6,115.9 587.3,115.0 592.2,107.5 591.0,106.6 592.6,105.8 590.5,104.9 592.1,104.0 590.0,103.1 591.6,102.2 589.5,101.4 590.2,100.5 595.1,93.0 594.0,92.1 595.5,91.2 593.5,90.4 595.0,89.5 593.0,88.6 594.5,87.8 592.5,86.9 593.1,86.0 594.1,80.0"/>
<polyline points="138.0,365.0 157.6,364.4 163.9,364.2 170.1,364.0 176.1,363.7 182.3,363.2 188.6,362.4 194.5,361.8 200.1,361.4 205.6,361.0 210.8,360.6 215.9,360.2 220.8,359.8 225.6,359.5 230.4,359.1 235.0,358.8 239.4,358.5 243.8,358.2 248.1,357.8 252.3,357.5 256.4,357.2 260.4,356.9 264.3,356.6 268.2,356.2 272.0,355.9 275.7,355.6 279.4,355.2 283.0,354.8 286.5,354.5 290.0,354.1 293.4,353.7 296.8,353.3 300.1,353.0 303.3,352.6 306.5,352.2 309.7,351.9 312.8,351.5 315.8,351.1 318.8,350.7 321.8,350.3 324.7,350.0 327.6,349.6 330.4,349.2 333.2,348.8 336.0,348.4 338.7,348.0 341.4,347.7 344.0,347.3 346.7,346.9 349.3,346.5 351.8,346.1 354.3,345.8 356.8,345.4 359.3,345.0 361.8,344.6 364.2,344.2 366.6,343.8 368.9,343.4 371.3,343.0 373.6,342.6 375.9,342.2 378.2,341.7 380.5,341.3 382.7,340.9 384.9,340.5 387.2,340.1 389.3,339.7 391.5,339.3 393.6,338.9 395.8,338.6 397.9,338.2 400.0,337.9 402.0,337.6 404.1,337.3 406.2,337.0 408.2,336.7 410.2,336.4 412.3,336.1 414.3,335.8 416.3,335.6 418.3,335.3 420.3,335.1 422.3,334.8 424.3,334.5 426.2,334.3 428.2,334.0 430.2,333.7 432.1,333.5 434.1,333.2 436.1,332.9 438.0,332.6 440.0,332.3 441.9,332.0 443.9,331.7 445.8,331.4 447.8,331.0 449.7,330.6 451.6,330.2 453.6,329.8 455.5,329.4 457.4,329.0 459.3,328.5 461.2,328.0 463.1,327.5 465.0,327.0 466.9,326.4 468.8,325.9 470.7,325.3 472.6,324.7 474.4,324.2 476.3,323.6 478.2,323.0 480.1,322.5 482.0,321.9 483.9,321.3 485.8,320.8 487.7,320.3 489.7,319.8 491.6,319.3 493.6,318.8 495.5,318.1 497.4,317.5 499.3,316.9 501.3,316.3 503.2,315.6 505.1,314.9 507.0,314.2 508.9,313.5 510.8,312.8 512.7,312.0 514.5,311.2 516.4,310.3 518.2,309.4 520.0,308.5 521.8,307.6 523.6,306.6 525.4,305.5 539.0,292.5 544.8,278.0 552.0,263.5 559.3,249.0 563.6,234.5 566.5,220.0 571.9,209.0 570.8,208.1 572.3,207.2 570.2,206.4 571.8,205.5 569.8,204.6 571.3,203.8 569.2,202.9 569.9,202.0 577.7,194.5 576.6,193.6 578.1,192.8 576.1,191.9 577.6,191.0 575.6,190.1 577.1,189.2 575.1,188.4 575.7,187.5 580.6,180.0 579.4,179.1 581.0,178.2 578.9,177.4 580.5,176.5 578.4,175.6 580.0,174.8 577.9,173.9 578.6,173.0 580.6,165.5 578.6,158.5 583.5,151.0 582.4,150.1 583.9,149.2 581.9,148.4 583.4,147.5 581.4,146.6 582.9,145.8 580.9,144.9 581.5,144.0 586.4,136.5 585.2,135.6 586.8,134.8 584.8,133.9 586.3,133.0 584.2,132.1 585.8,131.2 583.8,130.4 584.4,129.5 589.3,122.0 588.1,121.1 589.7,120.2 587.6,119.4 589.2,118.5 587.1,117.6 588.7,116.8 586.6,115.9 587.3,115.0 592.2,107.5 591.0,106.6 592.6,105.8 590.5,104.9 592.1,104.0 590.0,103.1 591.6,102.2 589.5,101.4 590.2,100.5 595.1,93.0 594.0,92.1 595.5,91.2 593.5,90.4 595.0,89.5 593.0,88.6 594.5,87.8 592.5,86.9 593.1,86.0 594.1,80.0"/>
<polyline points="137.8,365.0 150.9,364.6 157.5,364.4 163.8,364.1 170.0,363.9 176.1,363.6 182.3,363.0 188.7,362.2 194.7,361.5 200.3,361.0 205.8,360.6 211.0,360.2 216.2,359.8 221.2,359.4 226.0,359.0 230.7,358.6 235.4,358.3 239.8,357.9 244.3,357.6 248.5,357.2 252.7,356.9 256.8,356.6 260.8,356.2 264.8,355.9 268.6,355.6 272.4,355.2 276.1,354.9 279.8,354.5 283.4,354.2 286.9,353.8 290.4,353.4 293.8,353.0 297.2,352.6 300.5,352.2 303.7,351.9 306.9,351.5 310.1,351.1 313.1,350.7 316.2,350.4 319.2,350.0 322.1,349.6 325.1,349.2 327.9,348.8 330.7,348.4 333.5,348.0 336.3,347.7 339.0,347.3 341.7,346.9 344.3,346.5 346.9,346.1 349.5,345.8 352.1,345.4 354.6,345.0 357.1,344.6 359.5,344.2 362.0,343.8 364.4,343.4 366.8,343.0 369.2,342.6 371.5,342.2 373.8,341.8 376.1,341.4 378.4,340.9 380.7,340.5 382.9,340.1 385.1,339.7 387.3,339.3 389.5,338.9 391.6,338.5 393.8,338.1 395.9,337.7 398.0,337.4 400.1,337.0 402.1,336.7 404.2,336.4 406.2,336.1 408.3,335.8 410.3,335.5 412.3,335.3 414.3,335.0 416.3,334.7 418.3,334.5 420.3,334.2 422.3,333.9 424.3,333.7 426.2,333.4 428.2,333.1 430.2,332.9 432.1,332.6 434.1,332.3 436.0,332.0 438.0,331.7 439.9,331.4 441.9,331.1 443.8,330.8 445.7,330.5 447.7,330.1 449.6,329.8 451.5,329.4 453.4,329.0 455.3,328.5 457.2,328.1 459.1,327.6 461.0,327.1 462.9,326.6 464.8,326.1 466.7,325.5 468.6,325.0 470.5,324.4 472.3,323.8 474.2,323.2 476.1,322.7 477.9,322.1 479.8,321.5 481.7,321.0 483.6,320.4 485.5,319.9 487.4,319.4 489.4,318.9 491.3,318.4 493.2,317.8 495.1,317.2 497.1,316.6 499.0,316.0 500.9,315.4 502.8,314.8 504.7,314.1 506.6,313.4 508.5,312.7 510.4,312.0 512.3,311.2 514.1,310.4 516.0,309.5 517.8,308.6 519.6,307.7 521.4,306.8 523.2,305.8 525.0,304.8 537.5,292.5 544.8,278.0 550.6,263.5 557.8,249.0 562.2,234.5 566.5,220.0 571.9,209.0 570.8,208.1 572.3,207.2 570.2,206.4 571.8,205.5 569.8,204.6 571.3,203.8 569.2,202.9 569.9,202.0 577.7,194.5 575.7,187.5 577.7,180.0 576.6,179.1 578.1,178.2 576.1,177.4 577.6,176.5 575.6,175.6 577.1,174.8 575.1,173.9 575.7,173.0 580.6,165.5 579.4,164.6 581.0,163.8 578.9,162.9 580.5,162.0 578.4,161.1 580.0,160.2 577.9,159.4 578.6,158.5 583.5,151.0 582.4,150.1 583.9,149.2 581.9,148.4 583.4,147.5 581.4,146.6 582.9,145.8 580.9,144.9 581.5,144.0 586.4,136.5 585.2,135.6 586.8,134.8 584.8,133.9 586.3,133.0 584.2,132.1 585.8,131.2 583.8,130.4 584.4,129.5 589.3,122.0 588.1,121.1 589.7,120.2 587.6,119.4 589.2,118.5 587.1,117.6 588.7,116.8 586.6,115.9 587.3,115.0 592.2,107.5 590.2,100.5 592.2,93.0 591.0,92.1 592.6,91.2 590.5,90.4 592.1,89.5 590.0,88.6 591.6,87.8 589.5,86.9 590.2,86.0 594.1,80.0"/>
<polyline points="140.2,365.0 182.0,364.5 187.7,364.3 193.1,364.1 198.4,364.0 203.5,363.9 208.4,363.7 213.3,363.6 218.1,363.5 222.7,363.4 227.3,363.2 231.8,363.1 236.1,362.9 240.5,362.8 244.6,362.6 248.8,362.4 252.9,362.2 256.8,362.0 260.8,361.8 264.6,361.5 268.4,361.3 272.2,361.0 275.9,360.7 279.5,360.4 283.1,360.1 286.6,359.8 290.1,359.4 293.5,359.1 296.8,358.8 300.1,358.4 303.4,358.1 306.6,357.7 309.7,357.4 312.8,357.0 315.9,356.7 318.9,356.3 321.9,355.9 324.9,355.6 327.7,355.2 330.6,354.8 333.4,354.4 336.2,354.1 339.0,353.7 341.7,353.3 344.4,353.0 347.1,352.6 349.6,352.2 352.2,351.9 354.8,351.5 357.3,351.2 359.8,350.8 362.3,350.4 364.8,350.1 367.2,349.7 369.6,349.4 372.0,349.0 374.4,348.6 376.7,348.2 379.0,347.8 381.3,347.5 383.6,347.1 385.9,346.7 388.1,346.3 390.3,346.0 392.5,345.6 394.7,345.3 396.9,345.0 399.1,344.6 401.2,344.3 403.4,344.0 405.5,343.8 407.6,343.5 409.7,343.2 411.8,343.0 413.9,342.7 416.0,342.5 418.0,342.2 420.1,342.0 422.1,341.7 424.2,341.5 426.3,341.2 428.3,341.0 430.3,340.7 432.4,340.4 434.4,340.2 436.4,339.9 438.5,339.6 440.5,339.3 442.5,339.0 444.5,338.7 446.6,338.4 448.6,338.0 450.6,337.7 452.6,337.3 454.6,336.9 456.6,336.5 458.6,336.0 460.6,335.6 462.6,335.1 464.5,334.6 466.5,334.2 468.5,333.7 470.5,333.1 472.5,332.6 474.4,332.1 476.4,331.6 478.4,331.0 480.4,330.5 482.4,329.9 484.4,329.4 486.4,328.9 488.4,328.4 490.4,327.8 492.4,327.3 494.4,326.8 496.4,326.2 498.4,325.5 500.3,324.7 502.2,323.9 504.2,323.1 506.0,322.2 507.9,321.3 509.8,320.3 511.6,319.4 513.5,318.4 515.3,317.4 517.1,316.3 518.8,315.1 520.6,314.0 522.3,312.8 528.8,307.0 539.0,292.5 544.8,278.0 550.6,263.5 556.4,249.0 562.2,234.5 565.1,220.0 571.9,209.0 570.8,208.1 572.3,207.2 570.2,206.4 571.8,205.5 569.8,204.6 571.3,203.8 569.2,202.9 569.9,202.0 574.8,194.5 573.6,193.6 575.2,192.8 573.1,191.9 574.7,191.0 572.6,190.1 574.2,189.2 572.1,188.4 572.8,187.5 577.7,180.0 576.6,179.1 578.1,178.2 576.1,177.4 577.6,176.5 575.6,175.6 577.1,174.8 575.1,173.9 575.7,173.0 580.6,165.5 578.6,158.5 580.6,151.0 579.4,150.1 581.0,149.2 578.9,148.4 580.5,147.5 578.4,146.6 580.0,145.8 577.9,144.9 578.6,144.0 583.5,136.5 582.4,135.6 583.9,134.8 581.9,133.9 583.4,133.0 581.4,132.1 582.9,131.2 580.9,130.4 581.5,129.5 586.4,122.0 585.2,121.1 586.8,120.2 584.8,119.4 586.3,118.5 584.2,117.6 585.8,116.8 583.8,115.9 584.4,115.0 589.3,107.5 588.1,106.6 589.7,105.8 587.6,104.9 589.2,104.0 587.1,103.1 588.7,102.2 586.6,101.4 587.3,100.5 592.2,93.0 591.0,92.1 592.6,91.2 590.5,90.4 592.1,89.5 590.0,88.6 591.6,87.8 589.5,86.9 590.2,86.0 591.2,80.0"/>
<polyline points="138.6,365.0 157.9,364.5 164.1,364.4 170.2,364.2 176.2,363.9 182.2,363.5 188.4,362.9 194.1,362.4 199.7,362.0 205.0,361.7 210.2,361.4 215.2,361.0 220.2,360.7 224.9,360.5 229.6,360.2 234.2,359.9 238.6,359.6 243.0,359.3 247.2,359.0 251.4,358.7 255.5,358.4 259.5,358.2 263.4,357.9 267.3,357.6 271.1,357.2 274.8,356.9 278.5,356.6 282.1,356.2 285.7,355.9 289.2,355.5 292.6,355.2 296.0,354.8 299.3,354.4 302.5,354.1 305.7,353.7 308.9,353.3 312.0,353.0 315.1,352.6 318.1,352.2 321.1,351.8 324.0,351.4 326.9,351.1 329.7,350.7 332.6,350.3 335.3,349.9 338.1,349.5 340.8,349.2 343.5,348.8 346.1,348.4 348.7,348.0 351.3,347.7 353.8,347.3 356.3,346.9 358.8,346.5 361.3,346.2 363.7,345.8 366.1,345.4 368.5,345.0 370.9,344.6 373.2,344.2 375.5,343.8 377.8,343.4 380.1,343.0 382.4,342.5 384.6,342.1 386.8,341.7 389.0,341.3 391.2,341.0 393.4,340.6 395.5,340.2 397.6,339.9 399.7,339.6 401.8,339.3 403.9,339.0 406.0,338.7 408.0,338.4 410.1,338.1 412.1,337.8 414.2,337.6 416.2,337.3 418.2,337.0 420.2,336.8 422.2,336.5 424.2,336.3 426.2,336.0 428.2,335.7 430.2,335.5 432.2,335.2 434.2,334.9 436.2,334.7 438.1,334.4 440.1,334.1 442.1,333.8 444.0,333.4 446.0,333.1 448.0,332.8 449.9,332.4 451.9,332.0 453.8,331.6 455.8,331.2 457.7,330.7 459.6,330.3 461.6,329.8 463.5,329.3 465.4,328.8 467.3,328.2 469.2,327.7 471.1,327.1 473.0,326.6 474.9,326.0 476.8,325.5 478.8,324.9 480.7,324.3 482.6,323.8 484.5,323.2 486.5,322.7 488.4,322.2 490.4,321.7 492.3,321.2 494.3,320.6 496.2,320.0 498.1,319.3 500.1,318.7 502.0,317.9 503.9,317.2 505.7,316.4 507.6,315.6 509.5,314.8 511.3,313.9 513.2,313.1 515.0,312.1 516.8,311.1 518.6,310.1 520.3,309.1 522.1,308.0 537.5,292.5 543.3,278.0 549.1,263.5 556.4,249.0 560.8,234.5 565.1,220.0 569.0,209.0 567.9,208.1 569.4,207.2 567.4,206.4 568.9,205.5 566.9,204.6 568.4,203.8 566.4,202.9 567.0,202.0 574.8,194.5 573.6,193.6 575.2,192.8 573.1,191.9 574.7,191.0 572.6,190.1 574.2,189.2 572.1,188.4 572.8,187.5 577.7,180.0 576.6,179.1 578.1,178.2 576.1,177.4 577.6,176.5 575.6,175.6 577.1,174.8 575.1,173.9 575.7,173.0 577.7,165.5 576.6,164.6 578.1,163.8 576.1,162.9 577.6,162.0 575.6,161.1 577.1,160.2 575.1,159.4 575.7,158.5 580.6,151.0 578.6,144.0 583.5,136.5 582.4,135.6 583.9,134.8 581.9,133.9 583.4,133.0 581.4,132.1 582.9,131.2 580.9,130.4 581.5,129.5 586.4,122.0 585.2,121.1 586.8,120.2 584.8,119.4 586.3,118.5 584.2,117.6 585.8,116.8 583.8,115.9 584.4,115.0 589.3,107.5 587.3,100.5 592.2,93.0 591.0,92.1 592.6,91.2 590.5,90.4 592.1,89.5 590.0,88.6 591.6,87.8 589.5,86.9 590.2,86.0 591.2,80.0"/>
<polyline points="137.0,365.0 150.4,364.5 157.1,364.2 163.5,363.9 169.8,363.6 176.0,363.2 182.4,362.5 189.0,361.5 195.2,360.7 201.0,360.1 206.6,359.5 211.9,359.0 217.1,358.5 222.2,358.0 227.1,357.5 231.9,357.1 236.5,356.7 241.1,356.2 245.5,355.8 249.8,355.4 254.0,355.1 258.2,354.7 262.2,354.3 266.1,353.9 270.0,353.6 273.7,353.2 277.5,352.8 281.1,352.5 284.7,352.1 288.2,351.7 291.7,351.3 295.1,350.9 298.4,350.5 301.7,350.1 304.9,349.7 308.1,349.3 311.2,348.9 314.3,348.5 317.3,348.1 320.3,347.7 323.2,347.3 326.1,347.0 328.9,346.6 331.7,346.2 334.5,345.8 337.2,345.4 339.9,345.0 342.6,344.6 345.2,344.2 347.8,343.9 350.4,343.5 352.9,343.1 355.4,342.7 357.9,342.3 360.3,341.9 362.7,341.5 365.1,341.1 367.5,340.7 369.8,340.3 372.1,339.8 374.4,339.4 376.7,339.0 379.0,338.5 381.2,338.1 383.4,337.6 385.6,337.2 387.8,336.8 389.9,336.4 392.1,336.0 394.2,335.6 396.3,335.2 398.3,334.8 400.4,334.5 402.4,334.2 404.5,333.9 406.5,333.6 408.5,333.3 410.5,333.0 412.5,332.7 414.5,332.4 416.4,332.1 418.4,331.9 420.4,331.6 422.3,331.3 424.3,331.1 426.2,330.8 428.2,330.5 430.1,330.3 432.0,330.0 434.0,329.7 435.9,329.4 437.8,329.1 439.7,328.8 441.6,328.5 443.5,328.2 445.4,327.8 447.4,327.5 449.3,327.1 451.1,326.7 453.0,326.3 454.9,325.9 456.8,325.4 458.7,324.9 460.5,324.4 462.4,323.9 464.2,323.4 466.1,322.8 467.9,322.2 469.8,321.7 471.6,321.1 473.5,320.5 475.3,319.9 477.1,319.3 479.0,318.7 480.8,318.1 482.7,317.6 484.5,317.1 486.4,316.5 488.3,316.1 490.2,315.6 492.2,315.1 494.0,314.5 496.0,313.9 497.9,313.4 499.8,312.8 501.7,312.2 503.6,311.6 505.4,310.9 507.3,310.2 509.2,309.5 511.1,308.8 512.9,308.0 514.7,307.2 516.6,306.3 518.4,305.5 520.2,304.6 522.0,303.6 523.7,302.6 534.6,292.5 541.9,278.0 549.1,263.5 555.0,249.0 560.8,234.5 563.6,220.0 569.0,209.0 567.9,208.1 569.4,207.2 567.4,206.4 568.9,205.5 566.9,204.6 568.4,203.8 566.4,202.9 567.0,202.0 574.8,194.5 573.6,193.6 575.2,192.8 573.1,191.9 574.7,191.0 572.6,190.1 574.2,189.2 572.1,188.4 572.8,187.5 577.7,180.0 576.6,179.1 578.1,178.2 576.1,177.4 577.6,176.5 575.6,175.6 577.1,174.8 575.1,173.9 575.7,173.0 577.7,165.5 576.6,164.6 578.1,163.8 576.1,162.9 577.6,162.0 575.6,161.1 577.1,160.2 575.1,159.4 575.7,158.5 580.6,151.0 579.4,150.1 581.0,149.2 578.9,148.4 580.5,147.5 578.4,146.6 580.0,145.8 577.9,144.9 578.6,144.0 583.5,136.5 581.5,129.5 586.4,122.0 585.2,121.1 586.8,120.2 584.8,119.4 586.3,118.5 584.2,117.6 585.8,116.8 583.8,115.9 584.4,115.0 589.3,107.5 588.1,106.6 589.7,105.8 587.6,104.9 589.2,104.0 587.1,103.1 588.7,102.2 586.6,101.4 587.3,100.5 592.2,93.0 591.0,92.1 592.6,91.2 590.5,90.4 592.1,89.5 590.0,88.6 591.6,87.8 589.5,86.9 590.2,86.0 591.2,80.0"/>
<polyline points="137.5,365.0 150.7,364.5 157.3,364.3 163.7,364.1 170.0,363.8 176.1,363.4 182.4,362.9 188.8,362.0 194.9,361.2 200.6,360.7 206.1,360.2 211.3,359.8 216.5,359.3 221.5,358.9 226.4,358.5 231.1,358.1 235.7,357.7 240.2,357.4 244.7,357.0 249.0,356.6 253.2,356.3 257.3,355.9 261.3,355.6 265.2,355.3 269.1,354.9 272.9,354.6 276.6,354.2 280.2,353.8 283.8,353.5 287.4,353.1 290.8,352.7 294.3,352.3 297.6,351.9 300.9,351.5 304.1,351.1 307.3,350.8 310.4,350.4 313.5,350.0 316.6,349.6 319.6,349.2 322.5,348.8 325.4,348.5 328.3,348.1 331.1,347.7 333.9,347.3 336.6,346.9 339.3,346.5 342.0,346.1 344.6,345.8 347.2,345.4 349.8,345.0 352.3,344.6 354.8,344.2 357.3,343.8 359.8,343.5 362.2,343.1 364.6,342.7 367.0,342.3 369.4,341.8 371.7,341.4 374.0,341.0 376.3,340.6 378.6,340.1 380.8,339.7 383.1,339.3 385.3,338.8 387.5,338.4 389.6,338.0 391.8,337.6 393.9,337.3 396.0,336.9 398.1,336.5 400.2,336.2 402.2,335.9 404.3,335.6 406.3,335.3 408.4,335.0 410.4,334.7 412.4,334.4 414.4,334.1 416.4,333.9 418.4,333.6 420.3,333.3 422.3,333.1 424.3,332.8 426.2,332.5 428.2,332.3 430.1,332.0 432.1,331.7 434.0,331.4 436.0,331.2 437.9,330.9 439.8,330.6 441.8,330.3 443.7,329.9 445.6,329.6 447.6,329.2 449.5,328.9 451.4,328.5 453.3,328.1 455.2,327.6 457.1,327.2 459.0,326.7 460.9,326.2 462.8,325.7 464.6,325.2 466.5,324.6 468.4,324.1 470.2,323.5 472.1,322.9 473.9,322.3 475.8,321.7 477.7,321.2 479.5,320.6 481.4,320.0 483.3,319.5 485.2,318.9 487.1,318.4 489.0,317.9 490.9,317.4 492.9,316.9 494.8,316.3 496.7,315.7 498.6,315.1 500.5,314.5 502.4,313.8 504.3,313.1 506.1,312.4 508.0,311.6 509.9,310.9 511.7,310.1 513.5,309.2 515.3,308.3 517.1,307.4 518.9,306.4 520.7,305.4 522.4,304.4 534.6,292.5 541.9,278.0 547.7,263.5 553.5,249.0 559.3,234.5 563.6,220.0 569.0,209.0 567.9,208.1 569.4,207.2 567.4,206.4 568.9,205.5 566.9,204.6 568.4,203.8 566.4,202.9 567.0,202.0 574.8,194.5 573.6,193.6 575.2,192.8 573.1,191.9 574.7,191.0 572.6,190.1 574.2,189.2 572.1,188.4 572.8,187.5 574.8,180.0 573.6,179.1 575.2,178.2 573.1,177.4 574.7,176.5 572.6,175.6 574.2,174.8 572.1,173.9 572.8,173.0 577.7,165.5 576.6,164.6 578.1,163.8 576.1,162.9 577.6,162.0 575.6,161.1 577.1,160.2 575.1,159.4 575.7,158.5 580.6,151.0 579.4,150.1 581.0,149.2 578.9,148.4 580.5,147.5 578.4,146.6 580.0,145.8 577.9,144.9 578.6,144.0 583.5,136.5 582.4,135.6 583.9,134.8 581.9,133.9 583.4,133.0 581.4,132.1 582.9,131.2 580.9,130.4 581.5,129.5 586.4,122.0 585.2,121.1 586.8,120.2 584.8,119.4 586.3,118.5 584.2,117.6 585.8,116.8 583.8,115.9 584.4,115.0 589.3,107.5 588.1,106.6 589.7,105.8 587.6,104.9 589.2,104.0 587.1,103.1 588.7,102.2 586.6,101.4 587.3,100.5 589.3,93.0 588.1,92.1 589.7,91.2 587.6,90.4 589.2,89.5 587.1,88.6 588.7,87.8 586.6,86.9 587.3,86.0 588.3,80.0"/>
<polyline points="136.4,365.0 150.1,364.4 156.8,364.1 163.3,363.8 169.7,363.4 176.0,363.0 182.5,362.2 189.3,361.1 195.6,360.1 201.4,359.4 207.1,358.8 212.5,358.2 217.8,357.6 222.9,357.1 227.8,356.6 232.7,356.1 237.3,355.6 241.9,355.1 246.4,354.7 250.7,354.2 254.9,353.8 259.0,353.4 263.1,353.0 267.0,352.6 270.9,352.3 274.6,351.9 278.3,351.5 282.0,351.1 285.6,350.7 289.1,350.3 292.5,349.9 295.9,349.5 299.2,349.0 302.5,348.6 305.7,348.2 308.9,347.8 312.0,347.4 315.0,347.0 318.0,346.6 321.0,346.2 323.9,345.9 326.8,345.5 329.6,345.1 332.4,344.7 335.2,344.3 337.9,343.9 340.5,343.5 343.2,343.1 345.8,342.7 348.4,342.3 350.9,342.0 353.4,341.6 355.9,341.2 358.4,340.8 360.8,340.4 363.2,340.0 365.6,339.6 367.9,339.1 370.3,338.7 372.6,338.3 374.9,337.8 377.1,337.4 379.4,336.9 381.6,336.4 383.8,336.0 385.9,335.5 388.1,335.1 390.2,334.7 392.4,334.3 394.4,333.9 396.5,333.5 398.6,333.2 400.6,332.8 402.6,332.5 404.7,332.2 406.7,331.9 408.7,331.6 410.6,331.3 412.6,331.0 414.6,330.7 416.5,330.4 418.5,330.1 420.4,329.9 422.4,329.6 424.3,329.3 426.2,329.1 428.1,328.8 430.1,328.5 432.0,328.2 433.9,327.9 435.8,327.7 437.7,327.4 439.6,327.1 441.5,326.7 443.4,326.4 445.3,326.1 447.1,325.7 449.0,325.3 450.9,325.0 452.8,324.5 454.6,324.1 456.5,323.6 458.4,323.1 460.2,322.6 462.0,322.1 463.9,321.6 465.7,321.0 467.5,320.4 469.3,319.8 471.1,319.2 473.0,318.6 474.8,318.0 476.6,317.4 478.4,316.8 480.2,316.3 482.1,315.7 483.9,315.2 485.8,314.7 487.7,314.2 489.5,313.7 491.4,313.2 493.3,312.7 495.2,312.1 497.1,311.6 499.0,311.1 500.9,310.5 502.8,309.9 504.7,309.2 506.6,308.6 508.4,307.9 510.3,307.2 512.1,306.4 513.9,305.6 515.7,304.8 517.5,303.9 519.3,303.1 521.1,302.2 522.9,301.2 533.2,292.5 541.9,278.0 547.7,263.5 553.5,249.0 557.8,234.5 562.2,220.0 569.0,209.0 567.9,208.1 569.4,207.2 567.4,206.4 568.9,205.5 566.9,204.6 568.4,203.8 566.4,202.9 567.0,202.0 571.9,194.5 570.8,193.6 572.3,192.8 570.2,191.9 571.8,191.0 569.8,190.1 571.3,189.2 569.2,188.4 569.9,187.5 574.8,180.0 573.6,179.1 575.2,178.2 573.1,177.4 574.7,176.5 572.6,175.6 574.2,174.8 572.1,173.9 572.8,173.0 577.7,165.5 575.7,158.5 577.7,151.0 576.6,150.1 578.1,149.2 576.1,148.4 577.6,147.5 575.6,146.6 577.1,145.8 575.1,144.9 575.7,144.0 580.6,136.5 579.4,135.6 581.0,134.8 578.9,133.9 580.5,133.0 578.4,132.1 580.0,131.2 577.9,130.4 578.6,129.5 583.5,122.0 582.4,121.1 583.9,120.2 581.9,119.4 583.4,118.5 581.4,117.6 582.9,116.8 580.9,115.9 581.5,115.0 586.4,107.5 585.2,106.6 586.8,105.8 584.8,104.9 586.3,104.0 584.2,103.1 585.8,102.2 583.8,101.4 584.4,100.5 589.3,93.0 588.1,92.1 589.7,91.2 587.6,90.4 589.2,89.5 587.1,88.6 588.7,87.8 586.6,86.9 587.3,86.0 588.3,80.0"/>
<polyline points="138.3,365.0 157.7,364.5 164.0,364.3 170.2,364.1 176.2,363.8 182.3,363.4 188.5,362.7 194.3,362.1 199.9,361.7 205.3,361.3 210.5,361.0 215.5,360.6 220.5,360.3 225.3,360.0 230.0,359.7 234.6,359.3 239.0,359.0 243.4,358.7 247.7,358.4 251.8,358.1 255.9,357.8 260.0,357.5 263.9,357.2 267.8,356.9 271.5,356.6 275.3,356.2 278.9,355.9 282.5,355.5 286.1,355.2 289.6,354.8 293.0,354.4 296.4,354.1 299.7,353.7 302.9,353.3 306.1,353.0 309.3,352.6 312.4,352.2 315.4,351.8 318.5,351.5 321.4,351.1 324.4,350.7 327.2,350.3 330.1,349.9 332.9,349.6 335.7,349.2 338.4,348.8 341.1,348.4 343.7,348.0 346.4,347.7 349.0,347.3 351.5,346.9 354.1,346.5 356.6,346.1 359.0,345.8 361.5,345.4 363.9,345.0 366.3,344.6 368.7,344.2 371.1,343.8 373.4,343.4 375.7,343.0 378.0,342.6 380.3,342.1 382.6,341.7 384.8,341.3 387.0,340.9 389.2,340.5 391.3,340.1 393.5,339.8 395.6,339.4 397.7,339.1 399.8,338.7 401.9,338.4 404.0,338.1 406.1,337.8 408.1,337.5 410.2,337.2 412.2,337.0 414.2,336.7 416.2,336.4 418.3,336.2 420.3,335.9 422.3,335.7 424.2,335.4 426.2,335.1 428.2,334.9 430.2,334.6 432.2,334.3 434.1,334.1 436.1,333.8 438.1,333.5 440.0,333.2 442.0,332.9 444.0,332.6 445.9,332.2 447.9,331.9 449.8,331.5 451.7,331.1 453.7,330.7 455.6,330.3 457.5,329.8 459.5,329.4 461.4,328.9 463.3,328.4 465.2,327.9 467.1,327.3 469.0,326.8 470.9,326.2 472.8,325.7 474.7,325.1 476.6,324.5 478.5,324.0 480.4,323.4 482.3,322.8 484.2,322.3 486.1,321.8 488.1,321.2 490.0,320.7 492.0,320.2 493.9,319.7 495.8,319.1 497.8,318.4 499.7,317.7 501.6,317.0 503.4,316.2 505.3,315.4 507.1,314.6 509.0,313.7 510.8,312.9 512.6,311.9 514.4,310.9 516.1,309.9 517.9,308.9 519.6,307.8 521.3,306.7 534.6,292.5 541.9,278.0 546.2,263.5 552.0,249.0 557.8,234.5 562.2,220.0 566.1,209.0 564.9,208.1 566.5,207.2 564.4,206.4 566.0,205.5 563.9,204.6 565.5,203.8 563.4,202.9 564.1,202.0 571.9,194.5 570.8,193.6 572.3,192.8 570.2,191.9 571.8,191.0 569.8,190.1 571.3,189.2 569.2,188.4 569.9,187.5 574.8,180.0 573.6,179.1 575.2,178.2 573.1,177.4 574.7,176.5 572.6,175.6 574.2,174.8 572.1,173.9 572.8,173.0 574.8,165.5 572.8,158.5 577.7,151.0 576.6,150.1 578.1,149.2 576.1,148.4 577.6,147.5 575.6,146.6 577.1,145.8 575.1,144.9 575.7,144.0 580.6,136.5 579.4,135.6 581.0,134.8 578.9,133.9 580.5,133.0 578.4,132.1 580.0,131.2 577.9,130.4 578.6,129.5 583.5,122.0 582.4,121.1 583.9,120.2 581.9,119.4 583.4,118.5 581.4,117.6 582.9,116.8 580.9,115.9 581.5,115.0 586.4,107.5 585.2,106.6 586.8,105.8 584.8,104.9 586.3,104.0 584.2,103.1 585.8,102.2 583.8,101.4 584.4,100.5 589.3,93.0 588.1,92.1 589.7,91.2 587.6,90.4 589.2,89.5 587.1,88.6 588.7,87.8 586.6,86.9 587.3,86.0 588.3,80.0"/>
<polyline points="137.2,365.0 150.6,364.5 157.2,364.3 163.6,364.0 169.9,363.7 176.1,363.3 182.4,362.7 188.9,361.8 195.0,361.0 200.8,360.4 206.3,359.9 211.6,359.4 216.8,358.9 221.9,358.5 226.7,358.0 231.5,357.6 236.1,357.2 240.7,356.8 245.1,356.4 249.4,356.0 253.6,355.7 257.7,355.3 261.7,355.0 265.7,354.6 269.5,354.2 273.3,353.9 277.0,353.5 280.7,353.1 284.3,352.8 287.8,352.4 291.3,352.0 294.7,351.6 298.0,351.2 301.3,350.8 304.5,350.4 307.7,350.0 310.8,349.6 313.9,349.3 316.9,348.9 319.9,348.5 322.8,348.1 325.8,347.7 328.6,347.3 331.4,346.9 334.2,346.5 336.9,346.2 339.6,345.8 342.3,345.4 344.9,345.0 347.5,344.6 350.1,344.2 352.6,343.9 355.1,343.5 357.6,343.1 360.0,342.7 362.5,342.3 364.9,341.9 367.2,341.5 369.6,341.1 371.9,340.6 374.2,340.2 376.5,339.8 378.8,339.3 381.0,338.9 383.3,338.4 385.4,338.0 387.6,337.6 389.8,337.2 391.9,336.8 394.0,336.4 396.1,336.0 398.2,335.7 400.3,335.4 402.3,335.0 404.4,334.7 406.4,334.4 408.4,334.1 410.4,333.8 412.4,333.5 414.4,333.3 416.4,333.0 418.4,332.7 420.4,332.5 422.3,332.2 424.3,331.9 426.2,331.7 428.2,331.4 430.1,331.1 432.1,330.9 434.0,330.6 435.9,330.3 437.9,330.0 439.8,329.7 441.7,329.4 443.6,329.1 445.5,328.7 447.5,328.4 449.4,328.0 451.3,327.6 453.2,327.2 455.1,326.7 456.9,326.3 458.8,325.8 460.7,325.3 462.6,324.8 464.4,324.3 466.3,323.7 468.2,323.1 470.0,322.6 471.9,322.0 473.7,321.4 475.5,320.8 477.4,320.2 479.2,319.6 481.1,319.1 483.0,318.5 484.9,318.0 486.8,317.5 488.7,317.0 490.6,316.5 492.5,316.0 494.4,315.4 496.3,314.8 498.2,314.2 500.1,313.6 502.0,312.9 503.8,312.2 505.7,311.4 507.5,310.7 509.4,309.9 511.2,309.0 513.0,308.1 514.7,307.2 516.5,306.2 518.3,305.3 520.0,304.3 521.7,303.2 533.2,292.5 540.5,278.0 546.2,263.5 552.0,249.0 556.4,234.5 560.8,220.0 566.1,209.0 564.1,202.0 571.9,194.5 570.8,193.6 572.3,192.8 570.2,191.9 571.8,191.0 569.8,190.1 571.3,189.2 569.2,188.4 569.9,187.5 574.8,180.0 573.6,179.1 575.2,178.2 573.1,177.4 574.7,176.5 572.6,175.6 574.2,174.8 572.1,173.9 572.8,173.0 574.8,165.5 572.8,158.5 577.7,151.0 576.6,150.1 578.1,149.2 576.1,148.4 577.6,147.5 575.6,146.6 577.1,145.8 575.1,144.9 575.7,144.0 580.6,136.5 579.4,135.6 581.0,134.8 578.9,133.9 580.5,133.0 578.4,132.1 580.0,131.2 577.9,130.4 578.6,129.5 583.5,122.0 582.4,121.1 583.9,120.2 581.9,119.4 583.4,118.5 581.4,117.6 582.9,116.8 580.9,115.9 581.5,115.0 586.4,107.5 585.2,106.6 586.8,105.8 584.8,104.9 586.3,104.0 584.2,103.1 585.8,102.2 583.8,101.4 584.4,100.5 586.4,93.0 585.2,92.1 586.8,91.2 584.8,90.4 586.3,89.5 584.2,88.6 585.8,87.8 583.8,86.9 584.4,86.0 588.3,80.0"/>
<polyline points="135.6,365.0 149.6,364.3 156.4,363.9 163.0,363.6 169.5,363.2 175.9,362.6 182.6,361.7 189.6,360.4 196.1,359.2 202.1,358.4 207.8,357.7 213.4,357.0 218.7,356.3 223.9,355.7 228.9,355.1 233.8,354.5 238.5,354.0 243.1,353.5 247.6,352.9 252.0,352.5 256.2,352.0 260.4,351.5 264.4,351.1 268.3,350.7 272.2,350.3 276.0,349.8 279.7,349.4 283.3,349.0 286.8,348.6 290.4,348.2 293.8,347.7 297.2,347.3 300.5,346.9 303.7,346.5 306.9,346.1 310.1,345.6 313.2,345.2 316.2,344.8 319.2,344.4 322.1,344.0 325.0,343.6 327.8,343.2 330.6,342.8 333.4,342.4 336.1,342.0 338.8,341.6 341.5,341.2 344.1,340.9 346.7,340.5 349.2,340.1 351.8,339.7 354.2,339.3 356.7,338.9 359.1,338.5 361.5,338.1 363.9,337.7 366.3,337.2 368.6,336.8 370.9,336.3 373.2,335.9 375.5,335.4 377.7,334.9 379.9,334.5 382.1,334.0 384.3,333.5 386.4,333.1 388.6,332.6 390.7,332.2 392.8,331.8 394.8,331.4 396.9,331.0 398.9,330.6 400.9,330.3 403.0,329.9 404.9,329.6 406.9,329.3 408.9,329.0 410.8,328.7 412.8,328.4 414.7,328.1 416.7,327.8 418.6,327.6 420.5,327.3 422.4,327.0 424.3,326.7 426.2,326.5 428.1,326.2 430.0,325.9 431.9,325.6 433.8,325.3 435.6,325.0 437.5,324.7 439.4,324.4 441.3,324.1 443.1,323.8 445.0,323.4 446.8,323.1 448.7,322.7 450.5,322.3 452.4,321.9 454.2,321.4 456.1,321.0 457.9,320.5 459.7,320.0 461.5,319.4 463.3,318.9 465.1,318.3 466.9,317.7 468.7,317.1 470.4,316.5 472.2,315.9 474.0,315.2 475.8,314.6 477.5,314.0 479.3,313.4 481.1,312.9 483.0,312.3 484.8,311.8 486.6,311.4 488.5,310.9 490.4,310.4 492.2,309.9 494.1,309.4 496.0,308.9 497.9,308.4 499.8,307.9 501.7,307.4 503.5,306.8 505.4,306.1 507.2,305.5 509.1,304.8 510.9,304.0 512.7,303.2 514.5,302.5 516.3,301.7 518.1,300.8 519.9,299.9 521.6,299.0 523.3,298.0 530.3,292.5 539.0,278.0 544.8,263.5 550.6,249.0 556.4,234.5 560.8,220.0 566.1,209.0 564.9,208.1 566.5,207.2 564.4,206.4 566.0,205.5 563.9,204.6 565.5,203.8 563.4,202.9 564.1,202.0 569.0,194.5 567.9,193.6 569.4,192.8 567.4,191.9 568.9,191.0 566.9,190.1 568.4,189.2 566.4,188.4 567.0,187.5 571.9,180.0 570.8,179.1 572.3,178.2 570.2,177.4 571.8,176.5 569.8,175.6 571.3,174.8 569.2,173.9 569.9,173.0 574.8,165.5 573.6,164.6 575.2,163.8 573.1,162.9 574.7,162.0 572.6,161.1 574.2,160.2 572.1,159.4 572.8,158.5 577.7,151.0 576.6,150.1 578.1,149.2 576.1,148.4 577.6,147.5 575.6,146.6 577.1,145.8 575.1,144.9 575.7,144.0 577.7,136.5 576.6,135.6 578.1,134.8 576.1,133.9 577.6,133.0 575.6,132.1 577.1,131.2 575.1,130.4 575.7,129.5 580.6,122.0 578.6,115.0 583.5,107.5 582.4,106.6 583.9,105.8 581.9,104.9 583.4,104.0 581.4,103.1 582.9,102.2 580.9,101.4 581.5,100.5 586.4,93.0 585.2,92.1 586.8,91.2 584.8,90.4 586.3,89.5 584.2,88.6 585.8,87.8 583.8,86.9 584.4,86.0 585.4,80.0"/>
<polyline points="135.9,365.0 149.8,364.3 156.5,364.0 163.1,363.6 169.6,363.2 175.9,362.7 182.5,361.9 189.5,360.6 195.9,359.5 201.9,358.7 207.6,358.0 213.1,357.4 218.4,356.8 223.6,356.2 228.5,355.6 233.4,355.1 238.1,354.5 242.7,354.0 247.2,353.5 251.5,353.1 255.8,352.6 259.9,352.2 263.9,351.7 267.9,351.3 271.7,350.9 275.5,350.5 279.2,350.1 282.9,349.7 286.4,349.3 289.9,348.9 293.4,348.5 296.8,348.0 300.1,347.6 303.3,347.2 306.5,346.8 309.7,346.4 312.8,346.0 315.8,345.6 318.8,345.2 321.7,344.8 324.6,344.4 327.5,344.0 330.3,343.6 333.1,343.2 335.8,342.8 338.5,342.4 341.2,342.0 343.8,341.6 346.4,341.2 348.9,340.8 351.5,340.4 353.9,340.0 356.4,339.6 358.9,339.2 361.3,338.8 363.7,338.4 366.0,338.0 368.4,337.6 370.7,337.1 373.0,336.7 375.3,336.2 377.5,335.7 379.7,335.3 381.9,334.8 384.1,334.4 386.3,333.9 388.4,333.5 390.5,333.0 392.6,332.6 394.7,332.2 396.8,331.8 398.8,331.5 400.8,331.1 402.8,330.8 404.9,330.5 406.8,330.2 408.8,329.9 410.8,329.6 412.7,329.3 414.7,329.0 416.6,328.7 418.6,328.4 420.5,328.2 422.4,327.9 424.3,327.6 426.2,327.3 428.1,327.0 430.0,326.8 431.9,326.5 433.8,326.2 435.7,325.9 437.6,325.6 439.5,325.3 441.3,325.0 443.2,324.7 445.1,324.3 446.9,324.0 448.8,323.6 450.7,323.2 452.5,322.8 454.4,322.3 456.2,321.9 458.0,321.4 459.9,320.9 461.7,320.3 463.5,319.8 465.3,319.2 467.1,318.6 468.9,318.0 470.7,317.4 472.5,316.8 474.2,316.2 476.0,315.6 477.8,315.0 479.6,314.4 481.4,313.8 483.3,313.3 485.1,312.8 487.0,312.3 488.9,311.8 490.7,311.3 492.6,310.8 494.5,310.3 496.4,309.8 498.2,309.2 500.1,308.7 502.0,308.0 503.8,307.4 505.6,306.7 507.5,305.9 509.3,305.2 511.0,304.3 512.8,303.5 514.6,302.6 516.3,301.7 518.1,300.8 519.8,299.8 521.5,298.8 528.8,292.5 539.0,278.0 543.3,263.5 549.1,249.0 553.5,234.5 559.3,220.0 563.2,209.0 562.1,208.1 563.6,207.2 561.6,206.4 563.1,205.5 561.1,204.6 562.6,203.8 560.6,202.9 561.2,202.0 569.0,194.5 567.9,193.6 569.4,192.8 567.4,191.9 568.9,191.0 566.9,190.1 568.4,189.2 566.4,188.4 567.0,187.5 571.9,180.0 570.8,179.1 572.3,178.2 570.2,177.4 571.8,176.5 569.8,175.6 571.3,174.8 569.2,173.9 569.9,173.0 571.9,165.5 569.9,158.5 574.8,151.0 573.6,150.1 575.2,149.2 573.1,148.4 574.7,147.5 572.6,146.6 574.2,145.8 572.1,144.9 572.8,144.0 577.7,136.5 576.6,135.6 578.1,134.8 576.1,133.9 577.6,133.0 575.6,132.1 577.1,131.2 575.1,130.4 575.7,129.5 580.6,122.0 579.4,121.1 581.0,120.2 578.9,119.4 580.5,118.5 578.4,117.6 580.0,116.8 577.9,115.9 578.6,115.0 583.5,107.5 582.4,106.6 583.9,105.8 581.9,104.9 583.4,104.0 581.4,103.1 582.9,102.2 580.9,101.4 581.5,100.5 583.5,93.0 582.4,92.1 583.9,91.2 581.9,90.4 583.4,89.5 581.4,88.6 582.9,87.8 580.9,86.9 581.5,86.0 585.4,80.0"/>
<polyline points="136.2,365.0 149.9,364.4 156.7,364.1 163.2,363.7 169.6,363.3 176.0,362.9 182.5,362.1 189.4,360.8 195.7,359.8 201.7,359.1 207.3,358.4 212.8,357.8 218.1,357.2 223.2,356.6 228.2,356.1 233.0,355.6 237.7,355.1 242.3,354.6 246.8,354.1 251.1,353.7 255.3,353.2 259.5,352.8 263.5,352.4 267.4,352.0 271.3,351.6 275.1,351.2 278.8,350.8 282.4,350.4 286.0,350.0 289.5,349.6 292.9,349.2 296.3,348.7 299.6,348.3 302.9,347.9 306.1,347.5 309.3,347.1 312.4,346.7 315.4,346.3 318.4,345.9 321.4,345.5 324.3,345.1 327.1,344.7 330.0,344.3 332.7,343.9 335.5,343.5 338.2,343.1 340.8,342.8 343.5,342.4 346.1,342.0 348.6,341.6 351.2,341.2 353.7,340.8 356.2,340.4 358.6,340.0 361.0,339.6 363.4,339.2 365.8,338.8 368.1,338.3 370.5,337.9 372.8,337.5 375.1,337.0 377.3,336.5 379.5,336.1 381.8,335.6 384.0,335.2 386.1,334.7 388.3,334.3 390.4,333.9 392.5,333.5 394.6,333.1 396.6,332.7 398.7,332.3 400.7,332.0 402.7,331.6 404.8,331.3 406.8,331.0 408.7,330.7 410.7,330.4 412.7,330.1 414.6,329.8 416.6,329.6 418.5,329.3 420.4,329.0 422.4,328.7 424.3,328.5 426.2,328.2 428.1,327.9 430.0,327.6 431.9,327.4 433.8,327.1 435.7,326.8 437.6,326.5 439.5,326.2 441.4,325.9 443.3,325.5 445.2,325.2 447.0,324.8 448.9,324.5 450.8,324.1 452.6,323.7 454.5,323.2 456.4,322.8 458.2,322.3 460.0,321.8 461.9,321.2 463.7,320.7 465.5,320.1 467.3,319.5 469.1,318.9 470.9,318.3 472.7,317.7 474.5,317.1 476.3,316.5 478.1,315.9 479.9,315.3 481.8,314.8 483.6,314.2 485.4,313.7 487.3,313.2 489.2,312.8 491.1,312.3 493.0,311.7 494.8,311.2 496.7,310.7 498.6,310.1 500.5,309.5 502.3,308.8 504.1,308.1 506.0,307.3 507.8,306.6 509.5,305.7 511.3,304.9 513.1,304.0 514.8,303.1 516.5,302.1 518.2,301.1 519.9,300.1 528.8,292.5 537.5,278.0 541.9,263.5 547.7,249.0 553.5,234.5 557.8,220.0 563.2,209.0 562.1,208.1 563.6,207.2 561.6,206.4 563.1,205.5 561.1,204.6 562.6,203.8 560.6,202.9 561.2,202.0 569.0,194.5 567.9,193.6 569.4,192.8 567.4,191.9 568.9,191.0 566.9,190.1 568.4,189.2 566.4,188.4 567.0,187.5 569.0,180.0 567.0,173.0 571.9,165.5 570.8,164.6 572.3,163.8 570.2,162.9 571.8,162.0 569.8,161.1 571.3,160.2 569.2,159.4 569.9,158.5 574.8,151.0 573.6,150.1 575.2,149.2 573.1,148.4 574.7,147.5 572.6,146.6 574.2,145.8 572.1,144.9 572.8,144.0 574.8,136.5 573.6,135.6 575.2,134.8 573.1,133.9 574.7,133.0 572.6,132.1 574.2,131.2 572.1,130.4 572.8,129.5 577.7,122.0 576.6,121.1 578.1,120.2 576.1,119.4 577.6,118.5 575.6,117.6 577.1,116.8 575.1,115.9 575.7,115.0 580.6,107.5 579.4,106.6 581.0,105.8 578.9,104.9 580.5,104.0 578.4,103.1 580.0,102.2 577.9,101.4 578.6,100.5 583.5,93.0 582.4,92.1 583.9,91.2 581.9,90.4 583.4,89.5 581.4,88.6 582.9,87.8 580.9,86.9 581.5,86.0 582.5,80.0"/>
<polyline points="135.1,365.0 142.3,364.6 149.3,364.2 156.1,363.8 162.8,363.4 169.4,363.0 175.9,362.4 182.6,361.4 189.8,359.9 196.4,358.7 202.5,357.8 208.4,356.9 213.9,356.2 219.3,355.5 224.6,354.8 229.6,354.2 234.6,353.5 239.3,352.9 243.9,352.4 248.5,351.8 252.8,351.3 257.1,350.8 261.2,350.3 265.3,349.8 269.2,349.4 273.1,348.9 276.8,348.5 280.5,348.1 284.2,347.6 287.7,347.2 291.2,346.8 294.6,346.3 298.0,345.9 301.3,345.5 304.5,345.0 307.7,344.6 310.8,344.2 313.9,343.8 316.9,343.3 319.9,342.9 322.8,342.5 325.7,342.1 328.5,341.7 331.3,341.3 334.1,340.9 336.8,340.5 339.4,340.1 342.1,339.7 344.7,339.3 347.2,338.9 349.8,338.5 352.3,338.2 354.8,337.8 357.2,337.4 359.6,336.9 362.0,336.5 364.4,336.1 366.7,335.7 369.0,335.2 371.3,334.8 373.6,334.3 375.9,333.8 378.1,333.3 380.3,332.9 382.5,332.4 384.7,331.9 386.8,331.4 388.9,331.0 391.0,330.5 393.1,330.1 395.1,329.7 397.1,329.3 399.2,328.9 401.2,328.6 403.2,328.3 405.1,327.9 407.1,327.6 409.0,327.3 411.0,327.0 412.9,326.7 414.8,326.4 416.7,326.1 418.7,325.8 420.5,325.6 422.4,325.3 424.3,325.0 426.2,324.7 428.1,324.4 430.0,324.2 431.8,323.9 433.7,323.6 435.5,323.3 437.4,323.0 439.3,322.7 441.1,322.3 443.0,322.0 444.8,321.7 446.6,321.3 448.5,320.9 450.3,320.6 452.1,320.1 453.9,319.7 455.8,319.2 457.6,318.7 459.4,318.2 461.1,317.6 462.9,317.1 464.7,316.5 466.5,315.9 468.2,315.3 470.0,314.6 471.7,314.0 473.5,313.4 475.2,312.8 477.0,312.1 478.7,311.6 480.5,311.0 482.3,310.5 484.1,310.0 486.0,309.5 487.8,309.0 489.7,308.6 491.5,308.1 493.4,307.6 495.3,307.1 497.1,306.6 499.0,306.1 500.9,305.6 502.7,304.9 504.5,304.3 506.3,303.6 508.1,302.9 509.9,302.1 511.7,301.3 513.4,300.5 515.2,299.7 516.9,298.8 518.7,297.9 520.4,296.9 522.0,295.9 526.0,292.5 537.5,278.0 541.9,263.5 547.7,249.0 552.0,234.5 557.8,220.0 563.2,209.0 562.1,208.1 563.6,207.2 561.6,206.4 563.1,205.5 561.1,204.6 562.6,203.8 560.6,202.9 561.2,202.0 566.1,194.5 564.9,193.6 566.5,192.8 564.4,191.9 566.0,191.0 563.9,190.1 565.5,189.2 563.4,188.4 564.1,187.5 569.0,180.0 567.0,173.0 571.9,165.5 570.8,164.6 572.3,163.8 570.2,162.9 571.8,162.0 569.8,161.1 571.3,160.2 569.2,159.4 569.9,158.5 571.9,151.0 570.8,150.1 572.3,149.2 570.2,148.4 571.8,147.5 569.8,146.6 571.3,145.8 569.2,144.9 569.9,144.0 574.8,136.5 573.6,135.6 575.2,134.8 573.1,133.9 574.7,133.0 572.6,132.1 574.2,131.2 572.1,130.4 572.8,129.5 577.7,122.0 576.6,121.1 578.1,120.2 576.1,119.4 577.6,118.5 575.6,117.6 577.1,116.8 575.1,115.9 575.7,115.0 580.6,107.5 579.4,106.6 581.0,105.8 578.9,104.9 580.5,104.0 578.4,103.1 580.0,102.2 577.9,101.4 578.6,100.5 583.5,93.0 582.4,92.1 583.9,91.2 581.9,90.4 583.4,89.5 581.4,88.6 582.9,87.8 580.9,86.9 581.5,86.0 582.5,80.0"/>
<polyline points="134.5,365.0 141.9,364.6 149.0,364.2 155.9,363.7 162.6,363.3 169.2,362.8 175.8,362.1 182.7,361.1 190.0,359.4 196.8,358.1 203.0,357.1 208.9,356.2 214.5,355.4 220.0,354.6 225.2,353.9 230.4,353.2 235.3,352.5 240.1,351.9 244.8,351.2 249.3,350.6 253.7,350.1 258.0,349.5 262.1,349.0 266.2,348.5 270.1,348.1 274.0,347.6 277.7,347.2 281.4,346.7 285.0,346.3 288.6,345.8 292.1,345.4 295.5,344.9 298.8,344.5 302.1,344.0 305.4,343.6 308.5,343.1 311.6,342.7 314.7,342.3 317.7,341.9 320.7,341.4 323.6,341.0 326.4,340.6 329.2,340.2 332.0,339.8 334.7,339.4 337.4,339.0 340.1,338.6 342.7,338.2 345.3,337.8 347.8,337.4 350.3,337.0 352.9,336.6 355.3,336.2 357.7,335.8 360.1,335.4 362.5,335.0 364.9,334.6 367.2,334.1 369.5,333.7 371.8,333.2 374.0,332.7 376.3,332.2 378.5,331.7 380.7,331.2 382.8,330.7 385.0,330.3 387.1,329.8 389.2,329.3 391.3,328.9 393.4,328.4 395.4,328.0 397.4,327.6 399.4,327.3 401.4,326.9 403.4,326.6 405.3,326.2 407.3,325.9 409.2,325.6 411.1,325.3 413.0,325.0 414.9,324.7 416.8,324.4 418.7,324.1 420.6,323.8 422.5,323.6 424.3,323.3 426.2,323.0 428.1,322.7 429.9,322.4 431.8,322.1 433.6,321.8 435.5,321.5 437.3,321.2 439.1,320.9 441.0,320.6 442.8,320.3 444.6,319.9 446.4,319.6 448.3,319.2 450.1,318.8 451.9,318.4 453.7,317.9 455.5,317.4 457.2,316.9 459.0,316.4 460.8,315.8 462.5,315.3 464.3,314.7 466.0,314.1 467.8,313.4 469.5,312.8 471.2,312.2 472.9,311.5 474.7,310.9 476.4,310.3 478.2,309.7 479.9,309.1 481.7,308.6 483.5,308.1 485.3,307.6 487.1,307.1 489.0,306.7 490.8,306.3 492.7,305.8 494.5,305.4 496.4,304.9 498.3,304.4 500.1,303.9 502.0,303.3 503.8,302.7 505.6,302.1 507.4,301.4 509.2,300.7 510.9,299.9 512.7,299.1 514.5,298.3 516.2,297.5 518.0,296.7 519.7,295.8 521.4,294.8 523.0,293.7 524.5,292.5 536.1,278.0 540.5,263.5 546.2,249.0 552.0,234.5 556.4,220.0 563.2,209.0 562.1,208.1 563.6,207.2 561.6,206.4 563.1,205.5 561.1,204.6 562.6,203.8 560.6,202.9 561.2,202.0 566.1,194.5 564.9,193.6 566.5,192.8 564.4,191.9 566.0,191.0 563.9,190.1 565.5,189.2 563.4,188.4 564.1,187.5 569.0,180.0 567.9,179.1 569.4,178.2 567.4,177.4 568.9,176.5 566.9,175.6 568.4,174.8 566.4,173.9 567.0,173.0 571.9,165.5 570.8,164.6 572.3,163.8 570.2,162.9 571.8,162.0 569.8,161.1 571.3,160.2 569.2,159.4 569.9,158.5 571.9,151.0 570.8,150.1 572.3,149.2 570.2,148.4 571.8,147.5 569.8,146.6 571.3,145.8 569.2,144.9 569.9,144.0 574.8,136.5 573.6,135.6 575.2,134.8 573.1,133.9 574.7,133.0 572.6,132.1 574.2,131.2 572.1,130.4 572.8,129.5 577.7,122.0 576.6,121.1 578.1,120.2 576.1,119.4 577.6,118.5 575.6,117.6 577.1,116.8 575.1,115.9 575.7,115.0 580.6,107.5 579.4,106.6 581.0,105.8 578.9,104.9 580.5,104.0 578.4,103.1 580.0,102.2 577.9,101.4 578.6,100.5 580.6,93.0 579.4,92.1 581.0,91.2 578.9,90.4 580.5,89.5 578.4,88.6 580.0,87.8 577.9,86.9 578.6,86.0 582.5,80.0"/>
<polyline points="135.3,365.0 149.5,364.3 156.3,363.9 162.9,363.5 169.4,363.1 175.9,362.5 182.6,361.6 189.7,360.1 196.3,358.9 202.3,358.1 208.1,357.3 213.6,356.6 219.0,355.9 224.2,355.3 229.3,354.6 234.2,354.0 238.9,353.5 243.5,352.9 248.1,352.4 252.4,351.9 256.7,351.4 260.8,350.9 264.8,350.5 268.8,350.0 272.6,349.6 276.4,349.2 280.1,348.8 283.7,348.3 287.3,347.9 290.8,347.5 294.2,347.0 297.6,346.6 300.9,346.2 304.1,345.7 307.3,345.3 310.4,344.9 313.5,344.5 316.5,344.1 319.5,343.7 322.5,343.3 325.3,342.9 328.2,342.5 331.0,342.1 333.7,341.7 336.5,341.3 339.1,340.9 341.8,340.5 344.4,340.1 347.0,339.7 349.5,339.3 352.0,338.9 354.5,338.5 356.9,338.1 359.4,337.7 361.8,337.3 364.1,336.9 366.5,336.4 368.8,336.0 371.1,335.5 373.4,335.1 375.7,334.6 377.9,334.1 380.1,333.7 382.3,333.2 384.5,332.7 386.6,332.3 388.7,331.8 390.8,331.4 392.9,331.0 395.0,330.5 397.0,330.2 399.1,329.8 401.1,329.4 403.1,329.1 405.0,328.8 407.0,328.5 409.0,328.1 410.9,327.8 412.9,327.6 414.8,327.3 416.7,327.0 418.6,326.7 420.5,326.4 422.4,326.1 424.3,325.9 426.2,325.6 428.1,325.3 430.0,325.0 431.9,324.7 433.7,324.5 435.6,324.2 437.5,323.9 439.3,323.6 441.2,323.2 443.0,322.9 444.9,322.6 446.7,322.2 448.6,321.8 450.4,321.4 452.3,321.0 454.1,320.6 455.9,320.1 457.7,319.6 459.5,319.1 461.3,318.5 463.1,318.0 464.9,317.4 466.7,316.8 468.4,316.2 470.2,315.6 472.0,314.9 473.7,314.3 475.5,313.7 477.3,313.1 479.0,312.5 480.8,311.9 482.6,311.4 484.5,310.9 486.3,310.4 488.2,310.0 490.0,309.5 491.9,309.0 493.8,308.5 495.6,308.0 497.5,307.5 499.3,306.9 501.2,306.3 503.0,305.6 504.8,304.9 506.6,304.1 508.4,303.3 510.1,302.5 511.8,301.6 513.6,300.8 515.3,299.9 517.0,298.9 518.7,298.0 520.4,296.9 526.0,292.5 536.1,278.0 540.5,263.5 546.2,249.0 550.6,234.5 556.4,220.0 560.3,209.0 559.1,208.1 560.7,207.2 558.6,206.4 560.2,205.5 558.1,204.6 559.7,203.8 557.6,202.9 558.3,202.0 566.1,194.5 564.9,193.6 566.5,192.8 564.4,191.9 566.0,191.0 563.9,190.1 565.5,189.2 563.4,188.4 564.1,187.5 569.0,180.0 567.9,179.1 569.4,178.2 567.4,177.4 568.9,176.5 566.9,175.6 568.4,174.8 566.4,173.9 567.0,173.0 569.0,165.5 567.9,164.6 569.4,163.8 567.4,162.9 568.9,162.0 566.9,161.1 568.4,160.2 566.4,159.4 567.0,158.5 571.9,151.0 570.8,150.1 572.3,149.2 570.2,148.4 571.8,147.5 569.8,146.6 571.3,145.8 569.2,144.9 569.9,144.0 574.8,136.5 573.6,135.6 575.2,134.8 573.1,133.9 574.7,133.0 572.6,132.1 574.2,131.2 572.1,130.4 572.8,129.5 577.7,122.0 576.6,121.1 578.1,120.2 576.1,119.4 577.6,118.5 575.6,117.6 577.1,116.8 575.1,115.9 575.7,115.0 577.7,107.5 576.6,106.6 578.1,105.8 576.1,104.9 577.6,104.0 575.6,103.1 577.1,102.2 575.1,101.4 575.7,100.5 580.6,93.0 579.4,92.1 581.0,91.2 578.9,90.4 580.5,89.5 578.4,88.6 580.0,87.8 577.9,86.9 578.6,86.0 582.5,80.0"/>
<polyline points="136.7,365.0 150.3,364.4 156.9,364.2 163.4,363.9 169.8,363.5 176.0,363.1 182.5,362.4 189.2,361.3 195.4,360.4 201.2,359.7 206.8,359.1 212.2,358.6 217.4,358.1 222.5,357.5 227.5,357.1 232.3,356.6 236.9,356.1 241.5,355.7 245.9,355.3 250.3,354.8 254.5,354.4 258.6,354.0 262.6,353.7 266.5,353.3 270.4,352.9 274.2,352.5 277.9,352.2 281.5,351.8 285.1,351.4 288.6,351.0 292.1,350.6 295.5,350.2 298.8,349.8 302.1,349.4 305.3,349.0 308.5,348.6 311.6,348.2 314.7,347.8 317.7,347.4 320.6,347.0 323.6,346.6 326.4,346.2 329.3,345.8 332.1,345.4 334.8,345.0 337.6,344.6 340.2,344.3 342.9,343.9 345.5,343.5 348.1,343.1 350.6,342.7 353.1,342.3 355.6,341.9 358.1,341.5 360.5,341.1 362.9,340.7 365.3,340.3 367.7,339.9 370.0,339.5 372.3,339.0 374.6,338.6 376.9,338.2 379.2,337.7 381.4,337.3 383.6,336.8 385.8,336.4 387.9,335.9 390.1,335.5 392.2,335.1 394.3,334.7 396.4,334.4 398.5,334.0 400.5,333.7 402.5,333.3 404.6,333.0 406.6,332.7 408.6,332.4 410.6,332.1 412.6,331.8 414.5,331.6 416.5,331.3 418.5,331.0 420.4,330.7 422.3,330.5 424.3,330.2 426.2,329.9 428.1,329.7 430.1,329.4 432.0,329.1 433.9,328.8 435.8,328.5 437.7,328.2 439.7,327.9 441.6,327.6 443.5,327.3 445.4,327.0 447.2,326.6 449.1,326.2 451.0,325.8 452.9,325.4 454.8,325.0 456.7,324.5 458.5,324.0 460.4,323.5 462.2,323.0 464.1,322.5 465.9,321.9 467.7,321.3 469.6,320.7 471.4,320.2 473.2,319.6 475.0,318.9 476.8,318.4 478.7,317.8 480.5,317.2 482.4,316.6 484.2,316.1 486.1,315.6 488.0,315.1 489.9,314.6 491.8,314.1 493.7,313.6 495.6,313.0 497.4,312.4 499.3,311.7 501.1,311.0 502.9,310.2 504.7,309.4 506.5,308.5 508.3,307.6 510.0,306.7 511.7,305.7 513.4,304.7 515.1,303.6 516.7,302.5 518.4,301.4 528.8,292.5 536.1,278.0 540.5,263.5 544.8,249.0 550.6,234.5 555.0,220.0 560.3,209.0 559.1,208.1 560.7,207.2 558.6,206.4 560.2,205.5 558.1,204.6 559.7,203.8 557.6,202.9 558.3,202.0 566.1,194.5 564.9,193.6 566.5,192.8 564.4,191.9 566.0,191.0 563.9,190.1 565.5,189.2 563.4,188.4 564.1,187.5 569.0,180.0 567.9,179.1 569.4,178.2 567.4,177.4 568.9,176.5 566.9,175.6 568.4,174.8 566.4,173.9 567.0,173.0 569.0,165.5 567.9,164.6 569.4,163.8 567.4,162.9 568.9,162.0 566.9,161.1 568.4,160.2 566.4,159.4 567.0,158.5 571.9,151.0 570.8,150.1 572.3,149.2 570.2,148.4 571.8,147.5 569.8,146.6 571.3,145.8 569.2,144.9 569.9,144.0 571.9,136.5 570.8,135.6 572.3,134.8 570.2,133.9 571.8,133.0 569.8,132.1 571.3,131.2 569.2,130.4 569.9,129.5 574.8,122.0 573.6,121.1 575.2,120.2 573.1,119.4 574.7,118.5 572.6,117.6 574.2,116.8 572.1,115.9 572.8,115.0 577.7,107.5 576.6,106.6 578.1,105.8 576.1,104.9 577.6,104.0 575.6,103.1 577.1,102.2 575.1,101.4 575.7,100.5 580.6,93.0 579.4,92.1 581.0,91.2 578.9,90.4 580.5,89.5 578.4,88.6 580.0,87.8 577.9,86.9 578.6,86.0 579.6,80.0"/>
<polyline points="134.8,365.0 142.1,364.6 149.1,364.2 156.0,363.8 162.7,363.4 169.3,362.9 175.8,362.3 182.7,361.2 189.9,359.7 196.6,358.4 202.8,357.4 208.6,356.6 214.2,355.8 219.7,355.1 224.9,354.3 230.0,353.7 234.9,353.0 239.7,352.4 244.4,351.8 248.9,351.2 253.3,350.7 257.5,350.2 261.7,349.7 265.7,349.2 269.7,348.7 273.5,348.3 277.3,347.8 281.0,347.4 284.6,347.0 288.1,346.5 291.6,346.1 295.0,345.6 298.4,345.2 301.7,344.7 304.9,344.3 308.1,343.9 311.2,343.4 314.3,343.0 317.3,342.6 320.3,342.2 323.2,341.8 326.0,341.4 328.9,341.0 331.7,340.6 334.4,340.2 337.1,339.8 339.8,339.4 342.4,339.0 345.0,338.6 347.5,338.2 350.1,337.8 352.6,337.4 355.0,337.0 357.5,336.6 359.9,336.2 362.3,335.8 364.6,335.3 367.0,334.9 369.3,334.4 371.6,334.0 373.8,333.5 376.1,333.0 378.3,332.5 380.5,332.0 382.7,331.6 384.8,331.1 386.9,330.6 389.1,330.1 391.1,329.7 393.2,329.3 395.3,328.9 397.3,328.5 399.3,328.1 401.3,327.7 403.3,327.4 405.2,327.1 407.2,326.8 409.1,326.4 411.0,326.1 413.0,325.8 414.9,325.6 416.8,325.3 418.7,325.0 420.6,324.7 422.5,324.4 424.3,324.1 426.2,323.9 428.1,323.6 429.9,323.3 431.8,323.0 433.7,322.7 435.5,322.4 437.3,322.1 439.2,321.8 441.0,321.5 442.9,321.1 444.7,320.8 446.5,320.4 448.4,320.1 450.2,319.7 452.0,319.2 453.8,318.8 455.6,318.3 457.4,317.8 459.2,317.3 461.0,316.7 462.7,316.2 464.5,315.6 466.2,315.0 468.0,314.4 469.7,313.7 471.5,313.1 473.2,312.4 474.9,311.8 476.7,311.2 478.4,310.6 480.2,310.1 482.0,309.5 483.8,309.0 485.6,308.5 487.5,308.1 489.3,307.6 491.2,307.2 493.0,306.7 494.9,306.2 496.7,305.7 498.6,305.2 500.4,304.6 502.2,303.9 504.0,303.2 505.8,302.5 507.6,301.8 509.3,300.9 511.0,300.1 512.8,299.2 514.5,298.4 516.2,297.4 517.9,296.5 519.5,295.5 523.0,292.5 534.6,278.0 539.0,263.5 544.8,249.0 549.1,234.5 555.0,220.0 560.3,209.0 559.1,208.1 560.7,207.2 558.6,206.4 560.2,205.5 558.1,204.6 559.7,203.8 557.6,202.9 558.3,202.0 563.2,194.5 562.1,193.6 563.6,192.8 561.6,191.9 563.1,191.0 561.1,190.1 562.6,189.2 560.6,188.4 561.2,187.5 566.1,180.0 564.9,179.1 566.5,178.2 564.4,177.4 566.0,176.5 563.9,175.6 565.5,174.8 563.4,173.9 564.1,173.0 569.0,165.5 567.9,164.6 569.4,163.8 567.4,162.9 568.9,162.0 566.9,161.1 568.4,160.2 566.4,159.4 567.0,158.5 569.0,151.0 567.9,150.1 569.4,149.2 567.4,148.4 568.9,147.5 566.9,146.6 568.4,145.8 566.4,144.9 567.0,144.0 571.9,136.5 570.8,135.6 572.3,134.8 570.2,133.9 571.8,133.0 569.8,132.1 571.3,131.2 569.2,130.4 569.9,129.5 574.8,122.0 573.6,121.1 575.2,120.2 573.1,119.4 574.7,118.5 572.6,117.6 574.2,116.8 572.1,115.9 572.8,115.0 577.7,107.5 576.6,106.6 578.1,105.8 576.1,104.9 577.6,104.0 575.6,103.1 577.1,102.2 575.1,101.4 575.7,100.5 580.6,93.0 579.4,92.1 581.0,91.2 578.9,90.4 580.5,89.5 578.4,88.6 580.0,87.8 577.9,86.9 578.6,86.0 579.6,80.0"/>
<polyline points="134.3,365.0 141.7,364.5 148.8,364.1 155.7,363.7 162.5,363.2 169.2,362.7 175.8,362.0 182.7,360.9 190.1,359.2 197.0,357.8 203.2,356.8 209.1,355.9 214.8,355.0 220.3,354.2 225.6,353.4 230.7,352.7 235.7,352.0 240.5,351.3 245.2,350.7 249.7,350.1 254.1,349.5 258.4,348.9 262.6,348.4 266.6,347.9 270.5,347.4 274.4,346.9 278.2,346.5 281.9,346.0 285.5,345.6 289.0,345.1 292.5,344.7 295.9,344.2 299.3,343.8 302.5,343.3 305.8,342.9 308.9,342.4 312.0,342.0 315.1,341.5 318.1,341.1 321.0,340.7 323.9,340.3 326.8,339.9 329.6,339.5 332.3,339.1 335.1,338.7 337.8,338.3 340.4,337.9 343.0,337.5 345.6,337.1 348.1,336.7 350.6,336.3 353.1,335.9 355.6,335.5 358.0,335.1 360.4,334.6 362.7,334.2 365.1,333.8 367.4,333.3 369.7,332.9 372.0,332.4 374.2,331.9 376.5,331.4 378.7,330.9 380.9,330.4 383.0,329.9 385.2,329.4 387.3,329.0 389.4,328.5 391.4,328.1 393.5,327.6 395.5,327.2 397.5,326.8 399.5,326.4 401.5,326.1 403.5,325.7 405.4,325.4 407.3,325.1 409.3,324.7 411.2,324.4 413.1,324.1 415.0,323.8 416.9,323.5 418.8,323.3 420.6,323.0 422.5,322.7 424.3,322.4 426.2,322.1 428.0,321.8 429.9,321.5 431.7,321.3 433.6,321.0 435.4,320.7 437.2,320.4 439.1,320.0 440.9,319.7 442.7,319.4 444.5,319.1 446.3,318.7 448.1,318.3 449.9,317.9 451.7,317.5 453.5,317.0 455.3,316.6 457.1,316.0 458.8,315.5 460.6,315.0 462.3,314.4 464.1,313.8 465.8,313.2 467.5,312.5 469.3,311.9 471.0,311.2 472.7,310.6 474.4,309.9 476.1,309.3 477.9,308.7 479.6,308.2 481.4,307.6 483.1,307.1 485.0,306.7 486.8,306.2 488.6,305.8 490.4,305.3 492.3,304.9 494.1,304.5 496.0,304.0 497.9,303.5 499.7,302.9 501.5,302.3 503.3,301.7 505.1,301.0 506.8,300.3 508.6,299.5 510.3,298.7 512.0,297.9 513.8,297.0 515.5,296.2 517.2,295.3 518.9,294.3 520.5,293.3 534.6,278.0 539.0,263.5 543.3,249.0 549.1,234.5 553.5,220.0 560.3,209.0 559.1,208.1 560.7,207.2 558.6,206.4 560.2,205.5 558.1,204.6 559.7,203.8 557.6,202.9 558.3,202.0 563.2,194.5 561.2,187.5 566.1,180.0 564.9,179.1 566.5,178.2 564.4,177.4 566.0,176.5 563.9,175.6 565.5,174.8 563.4,173.9 564.1,173.0 569.0,165.5 567.9,164.6 569.4,163.8 567.4,162.9 568.9,162.0 566.9,161.1 568.4,160.2 566.4,159.4 567.0,158.5 569.0,151.0 567.9,150.1 569.4,149.2 567.4,148.4 568.9,147.5 566.9,146.6 568.4,145.8 566.4,144.9 567.0,144.0 571.9,136.5 570.8,135.6 572.3,134.8 570.2,133.9 571.8,133.0 569.8,132.1 571.3,131.2 569.2,130.4 569.9,129.5 574.8,122.0 573.6,121.1 575.2,120.2 573.1,119.4 574.7,118.5 572.6,117.6 574.2,116.8 572.1,115.9 572.8,115.0 577.7,107.5 576.6,106.6 578.1,105.8 576.1,104.9 577.6,104.0 575.6,103.1 577.1,102.2 575.1,101.4 575.7,100.5 577.7,93.0 576.6,92.1 578.1,91.2 576.1,90.4 577.6,89.5 575.6,88.6 577.1,87.8 575.1,86.9 575.7,86.0 579.6,80.0"/>
<polyline points="113.0,365.0 122.3,363.9 131.1,362.8 139.5,361.7 147.6,360.8 155.3,359.9 162.6,359.1 169.6,358.3 176.4,357.6 183.0,356.9 189.3,356.2 195.5,355.5 201.4,354.8 207.2,354.2 212.8,353.5 218.2,352.9 223.5,352.2 228.6,351.6 233.6,351.0 238.5,350.4 243.2,349.8 247.8,349.2 252.3,348.6 256.7,348.0 261.0,347.5 265.2,346.9 269.3,346.3 273.2,345.8 277.1,345.3 280.9,344.7 284.6,344.2 288.3,343.6 291.9,343.1 295.4,342.6 298.8,342.1 302.2,341.6 305.5,341.1 308.7,340.6 311.8,340.1 315.0,339.6 318.0,339.1 321.0,338.7 324.0,338.2 326.8,337.8 329.7,337.3 332.5,336.9 335.2,336.4 338.0,336.0 340.6,335.6 343.3,335.1 345.9,334.7 348.4,334.3 351.0,333.8 353.5,333.4 355.9,333.0 358.4,332.5 360.8,332.1 363.1,331.6 365.5,331.2 367.8,330.7 370.1,330.2 372.4,329.7 374.7,329.2 376.9,328.7 379.1,328.2 381.3,327.7 383.5,327.2 385.6,326.7 387.7,326.2 389.8,325.7 391.9,325.2 393.9,324.8 395.9,324.4 397.9,324.0 399.9,323.5 401.9,323.2 403.8,322.8 405.8,322.5 407.7,322.1 409.6,321.8 411.5,321.5 413.4,321.2 415.3,320.9 417.2,320.6 419.1,320.2 420.9,319.9 422.8,319.7 424.6,319.4 426.5,319.1 428.3,318.7 430.1,318.4 431.9,318.1 433.8,317.8 435.6,317.5 437.4,317.2 439.2,316.9 441.0,316.5 442.8,316.2 444.6,315.9 446.4,315.5 448.2,315.1 450.0,314.7 451.8,314.3 453.6,313.8 455.3,313.4 457.1,312.8 458.9,312.3 460.6,311.8 462.3,311.2 464.1,310.6 465.8,310.0 467.5,309.4 469.2,308.8 470.9,308.2 472.6,307.5 474.4,306.9 476.1,306.3 477.8,305.8 479.6,305.2 481.3,304.8 483.1,304.3 484.9,303.8 486.8,303.4 488.6,303.0 490.5,302.6 492.3,302.1 494.2,301.7 496.1,301.3 498.0,300.8 499.9,300.3 501.8,299.7 503.7,299.1 505.5,298.4 507.4,297.7 509.2,297.0 511.1,296.2 512.9,295.4 514.7,294.6 516.5,293.7 518.3,292.7 520.0,291.7 521.7,290.6 533.2,278.0 537.5,263.5 543.3,249.0 547.7,234.5 553.5,220.0 557.4,209.0 556.2,208.1 557.8,207.2 555.8,206.4 557.3,205.5 555.2,204.6 556.8,203.8 554.8,202.9 555.4,202.0 563.2,194.5 562.1,193.6 563.6,192.8 561.6,191.9 563.1,191.0 561.1,190.1 562.6,189.2 560.6,188.4 561.2,187.5 566.1,180.0 564.1,173.0 566.1,165.5 564.1,158.5 569.0,151.0 567.9,150.1 569.4,149.2 567.4,148.4 568.9,147.5 566.9,146.6 568.4,145.8 566.4,144.9 567.0,144.0 571.9,136.5 570.8,135.6 572.3,134.8 570.2,133.9 571.8,133.0 569.8,132.1 571.3,131.2 569.2,130.4 569.9,129.5 571.9,122.0 570.8,121.1 572.3,120.2 570.2,119.4 571.8,118.5 569.8,117.6 571.3,116.8 569.2,115.9 569.9,115.0 574.8,107.5 573.6,106.6 575.2,105.8 573.1,104.9 574.7,104.0 572.6,103.1 574.2,102.2 572.1,101.4 572.8,100.5 577.7,93.0 576.6,92.1 578.1,91.2 576.1,90.4 577.6,89.5 575.6,88.6 577.1,87.8 575.1,86.9 575.7,86.0 579.6,80.0"/>
<polyline points="134.0,365.0 141.5,364.5 148.6,364.1 155.6,363.6 162.4,363.1 169.1,362.6 175.8,361.9 182.8,360.7 190.3,359.0 197.2,357.5 203.4,356.4 209.4,355.5 215.1,354.6 220.6,353.8 225.9,353.0 231.1,352.2 236.1,351.5 240.9,350.8 245.6,350.1 250.2,349.5 254.6,348.9 258.8,348.3 263.0,347.8 267.1,347.3 271.0,346.8 274.9,346.3 278.6,345.8 282.3,345.4 285.9,344.9 289.4,344.4 292.9,344.0 296.3,343.5 299.7,343.0 302.9,342.6 306.2,342.1 309.3,341.7 312.4,341.2 315.5,340.8 318.4,340.4 321.4,340.0 324.3,339.5 327.1,339.1 329.9,338.7 332.7,338.3 335.4,337.9 338.1,337.5 340.7,337.1 343.3,336.7 345.9,336.3 348.4,335.9 350.9,335.5 353.4,335.1 355.8,334.7 358.2,334.3 360.6,333.9 363.0,333.4 365.3,333.0 367.6,332.6 369.9,332.1 372.2,331.6 374.5,331.1 376.7,330.6 378.9,330.1 381.1,329.6 383.2,329.1 385.4,328.6 387.4,328.1 389.5,327.7 391.6,327.2 393.6,326.8 395.7,326.4 397.7,326.0 399.7,325.6 401.6,325.2 403.6,324.9 405.5,324.5 407.4,324.2 409.3,323.9 411.3,323.6 413.1,323.3 415.0,323.0 416.9,322.7 418.8,322.4 420.6,322.1 422.5,321.8 424.4,321.5 426.2,321.3 428.0,321.0 429.9,320.7 431.7,320.4 433.5,320.1 435.4,319.8 437.2,319.5 439.0,319.2 440.8,318.8 442.6,318.5 444.4,318.2 446.2,317.8 448.0,317.4 449.8,317.0 451.6,316.6 453.4,316.1 455.2,315.7 456.9,315.1 458.7,314.6 460.4,314.1 462.2,313.5 463.9,312.9 465.6,312.2 467.3,311.6 469.0,311.0 470.7,310.3 472.4,309.7 474.1,309.0 475.8,308.4 477.6,307.8 479.3,307.2 481.1,306.7 482.8,306.2 484.6,305.7 486.4,305.3 488.2,304.8 490.1,304.4 491.9,304.0 493.8,303.6 495.6,303.1 497.5,302.6 499.3,302.0 501.1,301.4 502.9,300.8 504.6,300.1 506.4,299.4 508.1,298.6 509.8,297.8 511.5,296.9 513.2,296.1 514.9,295.2 516.6,294.3 518.3,293.4 519.9,292.4 533.2,278.0 537.5,263.5 541.9,249.0 547.7,234.5 552.0,220.0 557.4,209.0 556.2,208.1 557.8,207.2 555.8,206.4 557.3,205.5 555.2,204.6 556.8,203.8 554.8,202.9 555.4,202.0 563.2,194.5 562.1,193.6 563.6,192.8 561.6,191.9 563.1,191.0 561.1,190.1 562.6,189.2 560.6,188.4 561.2,187.5 566.1,180.0 564.9,179.1 566.5,178.2 564.4,177.4 566.0,176.5 563.9,175.6 565.5,174.8 563.4,173.9 564.1,173.0 566.1,165.5 564.9,164.6 566.5,163.8 564.4,162.9 566.0,162.0 563.9,161.1 565.5,160.2 563.4,159.4 564.1,158.5 569.0,151.0 567.9,150.1 569.4,149.2 567.4,148.4 568.9,147.5 566.9,146.6 568.4,145.8 566.4,144.9 567.0,144.0 569.0,136.5 567.9,135.6 569.4,134.8 567.4,133.9 568.9,133.0 566.9,132.1 568.4,131.2 566.4,130.4 567.0,129.5 571.9,122.0 570.8,121.1 572.3,120.2 570.2,119.4 571.8,118.5 569.8,117.6 571.3,116.8 569.2,115.9 569.9,115.0 574.8,107.5 572.8,100.5 577.7,93.0 576.6,92.1 578.1,91.2 576.1,90.4 577.6,89.5 575.6,88.6 577.1,87.8 575.1,86.9 575.7,86.0 576.7,80.0"/>
<polyline points="113.0,365.0 122.3,363.9 131.1,362.8 139.5,361.7 147.6,360.8 155.3,359.9 162.6,359.1 169.6,358.3 176.4,357.6 183.0,356.9 189.3,356.2 195.5,355.5 201.4,354.8 207.2,354.2 212.8,353.5 218.2,352.9 223.5,352.2 228.6,351.6 233.6,351.0 238.5,350.4 243.2,349.8 247.8,349.3 252.2,348.7 256.6,348.2 260.8,347.6 265.0,347.1 269.0,346.6 273.0,346.1 276.8,345.6 280.6,345.1 284.3,344.6 287.9,344.2 291.4,343.7 294.9,343.2 298.3,342.7 301.7,342.3 304.9,341.8 308.2,341.3 311.3,340.9 314.4,340.5 317.4,340.0 320.4,339.6 323.4,339.2 326.2,338.8 329.1,338.3 331.9,337.9 334.6,337.5 337.4,337.1 340.0,336.7 342.7,336.3 345.3,335.9 347.8,335.5 350.4,335.1 352.9,334.7 355.3,334.3 357.8,333.9 360.2,333.5 362.6,333.0 364.9,332.6 367.3,332.1 369.6,331.7 371.9,331.2 374.2,330.7 376.4,330.2 378.6,329.7 380.8,329.2 383.0,328.7 385.2,328.2 387.3,327.7 389.4,327.2 391.5,326.7 393.5,326.3 395.6,325.9 397.6,325.5 399.6,325.1 401.6,324.7 403.5,324.4 405.5,324.0 407.4,323.7 409.4,323.4 411.3,323.1 413.2,322.8 415.1,322.5 417.0,322.2 418.9,321.9 420.8,321.6 422.6,321.3 424.5,321.0 426.4,320.7 428.2,320.4 430.1,320.1 431.9,319.9 433.7,319.6 435.6,319.2 437.4,318.9 439.3,318.6 441.1,318.3 442.9,318.0 444.7,317.6 446.5,317.2 448.4,316.8 450.2,316.5 452.0,316.0 453.7,315.5 455.5,315.1 457.3,314.5 459.1,314.0 460.8,313.4 462.6,312.8 464.3,312.2 466.0,311.6 467.8,310.9 469.5,310.3 471.2,309.6 472.9,309.0 474.6,308.3 476.4,307.7 478.1,307.1 479.9,306.5 481.6,306.0 483.4,305.5 485.2,305.1 487.1,304.6 488.9,304.2 490.8,303.7 492.7,303.3 494.5,302.8 496.4,302.3 498.3,301.8 500.2,301.2 502.0,300.5 503.9,299.8 505.7,299.1 507.5,298.3 509.3,297.4 511.1,296.6 512.9,295.7 514.7,294.8 516.4,293.8 518.2,292.8 519.9,291.7 533.2,278.0 537.5,263.5 541.9,249.0 546.2,234.5 552.0,220.0 557.4,209.0 556.2,208.1 557.8,207.2 555.8,206.4 557.3,205.5 555.2,204.6 556.8,203.8 554.8,202.9 555.4,202.0 560.3,194.5 559.1,193.6 560.7,192.8 558.6,191.9 560.2,191.0 558.1,190.1 559.7,189.2 557.6,188.4 558.3,187.5 563.2,180.0 562.1,179.1 563.6,178.2 561.6,177.4 563.1,176.5 561.1,175.6 562.6,174.8 560.6,173.9 561.2,173.0 566.1,165.5 564.9,164.6 566.5,163.8 564.4,162.9 566.0,162.0 563.9,161.1 565.5,160.2 563.4,159.4 564.1,158.5 569.0,151.0 567.9,150.1 569.4,149.2 567.4,148.4 568.9,147.5 566.9,146.6 568.4,145.8 566.4,144.9 567.0,144.0 569.0,136.5 567.9,135.6 569.4,134.8 567.4,133.9 568.9,133.0 566.9,132.1 568.4,131.2 566.4,130.4 567.0,129.5 571.9,122.0 570.8,121.1 572.3,120.2 570.2,119.4 571.8,118.5 569.8,117.6 571.3,116.8 569.2,115.9 569.9,115.0 574.8,107.5 573.6,106.6 575.2,105.8 573.1,104.9 574.7,104.0 572.6,103.1 574.2,102.2 572.1,101.4 572.8,100.5 577.7,93.0 576.6,92.1 578.1,91.2 576.1,90.4 577.6,89.5 575.6,88.6 577.1,87.8 575.1,86.9 575.7,86.0 576.7,80.0"/>
<polyline points="113.0,365.0 123.1,363.3 132.7,361.6 141.9,360.1 150.6,358.7 158.9,357.3 166.7,356.0 174.3,354.8 181.5,353.7 188.4,352.6 194.9,351.7 201.2,350.7 207.3,349.8 213.2,349.0 218.8,348.2 224.3,347.4 229.6,346.6 234.8,345.8 239.8,345.1 244.6,344.4 249.3,343.6 253.9,342.9 258.4,342.3 262.7,341.6 266.9,341.0 271.0,340.3 275.0,339.7 278.9,339.1 282.7,338.6 286.4,338.0 290.0,337.4 293.6,336.9 297.0,336.4 300.4,335.9 303.7,335.4 307.0,334.9 310.1,334.4 313.2,333.9 316.3,333.5 319.3,333.0 322.2,332.6 325.1,332.2 327.9,331.7 330.7,331.3 333.5,330.9 336.1,330.5 338.8,330.1 341.4,329.7 344.0,329.3 346.5,328.9 349.1,328.4 351.5,328.0 354.0,327.6 356.4,327.2 358.7,326.8 361.1,326.3 363.4,325.9 365.7,325.4 368.0,325.0 370.3,324.5 372.5,324.0 374.7,323.5 376.9,323.1 379.0,322.5 381.2,322.0 383.3,321.5 385.4,321.0 387.4,320.5 389.5,320.1 391.5,319.6 393.5,319.1 395.4,318.7 397.4,318.2 399.3,317.8 401.3,317.4 403.2,317.0 405.1,316.6 406.9,316.2 408.8,315.9 410.6,315.5 412.5,315.1 414.3,314.8 416.1,314.4 417.9,314.1 419.7,313.7 421.5,313.4 423.3,313.0 425.1,312.7 426.8,312.3 428.6,312.0 430.4,311.7 432.1,311.3 433.9,311.0 435.6,310.6 437.3,310.3 439.1,309.9 440.8,309.6 442.5,309.2 444.3,308.9 446.0,308.5 447.7,308.1 449.4,307.8 451.1,307.3 452.9,307.0 454.6,306.5 456.3,306.1 458.0,305.7 459.7,305.2 461.4,304.8 463.1,304.3 464.8,303.8 466.4,303.3 468.1,302.8 469.8,302.3 471.5,301.9 473.2,301.4 475.0,300.9 476.7,300.5 478.4,300.0 480.2,299.6 481.9,299.2 483.7,298.8 485.5,298.5 487.3,298.1 489.2,297.7 491.0,297.4 492.9,297.0 494.8,296.6 496.6,296.3 498.5,295.8 500.4,295.4 502.3,294.9 504.2,294.4 506.1,293.9 508.0,293.3 509.9,292.7 511.7,292.1 513.6,291.4 515.4,290.6 517.2,289.8 518.9,288.9 520.6,287.9 522.2,286.8 531.8,278.0 536.1,263.5 540.5,249.0 546.2,234.5 550.6,220.0 557.4,209.0 556.2,208.1 557.8,207.2 555.8,206.4 557.3,205.5 555.2,204.6 556.8,203.8 554.8,202.9 555.4,202.0 560.3,194.5 559.1,193.6 560.7,192.8 558.6,191.9 560.2,191.0 558.1,190.1 559.7,189.2 557.6,188.4 558.3,187.5 563.2,180.0 561.2,173.0 566.1,165.5 564.9,164.6 566.5,163.8 564.4,162.9 566.0,162.0 563.9,161.1 565.5,160.2 563.4,159.4 564.1,158.5 566.1,151.0 564.9,150.1 566.5,149.2 564.4,148.4 566.0,147.5 563.9,146.6 565.5,145.8 563.4,144.9 564.1,144.0 569.0,136.5 567.9,135.6 569.4,134.8 567.4,133.9 568.9,133.0 566.9,132.1 568.4,131.2 566.4,130.4 567.0,129.5 571.9,122.0 570.8,121.1 572.3,120.2 570.2,119.4 571.8,118.5 569.8,117.6 571.3,116.8 569.2,115.9 569.9,115.0 571.9,107.5 570.8,106.6 572.3,105.8 570.2,104.9 571.8,104.0 569.8,103.1 571.3,102.2 569.2,101.4 569.9,100.5 574.8,93.0 573.6,92.1 575.2,91.2 573.1,90.4 574.7,89.5 572.6,88.6 574.2,87.8 572.1,86.9 572.8,86.0 576.7,80.0"/>
<polyline points="113.0,365.0 123.1,363.3 132.7,361.6 141.9,360.1 150.6,358.7 158.9,357.3 166.7,356.0 174.3,354.8 181.5,353.7 188.4,352.6 194.9,351.7 201.2,350.7 207.3,349.8 213.2,349.0 218.8,348.2 224.3,347.4 229.6,346.6 234.8,345.8 239.7,345.1 244.6,344.4 249.3,343.7 253.8,343.0 258.2,342.4 262.6,341.8 266.7,341.2 270.8,340.6 274.8,340.0 278.6,339.5 282.4,338.9 286.1,338.4 289.7,337.9 293.2,337.4 296.6,336.9 300.0,336.5 303.2,336.0 306.5,335.6 309.6,335.1 312.7,334.7 315.7,334.3 318.7,333.9 321.6,333.5 324.5,333.1 327.3,332.7 330.1,332.3 332.9,331.9 335.5,331.6 338.2,331.2 340.8,330.8 343.4,330.4 345.9,330.0 348.4,329.7 350.9,329.3 353.3,328.9 355.8,328.5 358.2,328.1 360.5,327.7 362.9,327.3 365.2,326.8 367.5,326.4 369.7,325.9 372.0,325.5 374.2,325.0 376.4,324.5 378.5,324.0 380.7,323.5 382.8,323.0 384.9,322.5 387.0,322.0 389.0,321.6 391.1,321.1 393.1,320.6 395.1,320.2 397.0,319.8 399.0,319.4 400.9,319.0 402.8,318.6 404.7,318.2 406.6,317.8 408.5,317.4 410.4,317.1 412.2,316.7 414.1,316.4 415.9,316.0 417.7,315.7 419.6,315.4 421.4,315.0 423.2,314.7 425.0,314.4 426.7,314.0 428.5,313.7 430.3,313.4 432.1,313.0 433.8,312.7 435.6,312.3 437.4,312.0 439.1,311.7 440.9,311.3 442.6,311.0 444.4,310.6 446.1,310.2 447.8,309.9 449.6,309.5 451.3,309.1 453.0,308.7 454.8,308.2 456.5,307.8 458.2,307.3 459.9,306.9 461.6,306.4 463.3,305.9 465.0,305.4 466.7,304.8 468.4,304.3 470.1,303.8 471.8,303.3 473.5,302.8 475.2,302.3 477.0,301.8 478.7,301.3 480.5,300.9 482.2,300.5 484.0,300.1 485.8,299.7 487.6,299.3 489.5,298.9 491.3,298.5 493.2,298.1 495.1,297.7 496.9,297.3 498.8,296.8 500.7,296.3 502.6,295.8 504.4,295.2 506.3,294.6 508.1,293.9 510.0,293.3 511.8,292.5 513.6,291.8 515.4,291.0 517.2,290.1 518.9,289.1 520.6,288.1 531.8,278.0 536.1,263.5 540.5,249.0 544.8,234.5 550.6,220.0 557.4,209.0 556.2,208.1 557.8,207.2 555.8,206.4 557.3,205.5 555.2,204.6 556.8,203.8 554.8,202.9 555.4,202.0 560.3,194.5 559.1,193.6 560.7,192.8 558.6,191.9 560.2,191.0 558.1,190.1 559.7,189.2 557.6,188.4 558.3,187.5 563.2,180.0 562.1,179.1 563.6,178.2 561.6,177.4 563.1,176.5 561.1,175.6 562.6,174.8 560.6,173.9 561.2,173.0 563.2,165.5 562.1,164.6 563.6,163.8 561.6,162.9 563.1,162.0 561.1,161.1 562.6,160.2 560.6,159.4 561.2,158.5 566.1,151.0 564.9,150.1 566.5,149.2 564.4,148.4 566.0,147.5 563.9,146.6 565.5,145.8 563.4,144.9 564.1,144.0 569.0,136.5 567.0,129.5 569.0,122.0 567.9,121.1 569.4,120.2 567.4,119.4 568.9,118.5 566.9,117.6 568.4,116.8 566.4,115.9 567.0,115.0 571.9,107.5 569.9,100.5 574.8,93.0 573.6,92.1 575.2,91.2 573.1,90.4 574.7,89.5 572.6,88.6 574.2,87.8 572.1,86.9 572.8,86.0 576.7,80.0"/>
<polyline points="113.0,365.0 123.6,363.0 133.6,361.1 143.1,359.3 152.1,357.6 160.6,356.0 168.8,354.5 176.6,353.1 184.0,351.7 191.1,350.5 197.7,349.4 204.1,348.3 210.2,347.3 216.2,346.4 221.9,345.5 227.4,344.6 232.7,343.7 237.8,342.9 242.8,342.1 247.7,341.3 252.4,340.6 256.9,339.8 261.4,339.1 265.7,338.4 269.9,337.7 273.9,337.0 277.9,336.4 281.8,335.8 285.5,335.2 289.2,334.6 292.7,334.1 296.2,333.5 299.6,333.0 302.9,332.5 306.2,332.0 309.4,331.5 312.5,331.1 315.5,330.6 318.5,330.2 321.4,329.8 324.3,329.3 327.1,328.9 329.9,328.5 332.6,328.1 335.3,327.7 338.0,327.3 340.6,326.9 343.2,326.5 345.7,326.1 348.2,325.7 350.6,325.3 353.0,324.9 355.4,324.5 357.8,324.1 360.2,323.7 362.5,323.2 364.8,322.8 367.0,322.3 369.3,321.9 371.5,321.4 373.7,320.9 375.8,320.5 378.0,320.0 380.1,319.5 382.2,319.0 384.3,318.5 386.3,318.0 388.3,317.5 390.3,317.0 392.3,316.5 394.3,316.1 396.2,315.6 398.1,315.2 400.0,314.8 401.9,314.4 403.8,313.9 405.7,313.5 407.5,313.1 409.3,312.7 411.2,312.4 412.9,312.0 414.7,311.6 416.5,311.2 418.3,310.8 420.1,310.5 421.8,310.1 423.6,309.7 425.3,309.4 427.0,309.0 428.8,308.6 430.5,308.3 432.2,307.9 433.9,307.5 435.6,307.2 437.3,306.8 439.0,306.5 440.7,306.1 442.4,305.7 444.1,305.4 445.8,305.0 447.5,304.6 449.1,304.3 450.8,303.9 452.5,303.5 454.2,303.1 455.9,302.7 457.5,302.3 459.2,301.9 460.9,301.5 462.6,301.1 464.2,300.7 465.9,300.3 467.6,299.9 469.3,299.4 471.0,299.0 472.7,298.6 474.4,298.2 476.1,297.8 477.8,297.4 479.6,297.1 481.3,296.7 483.1,296.4 484.9,296.0 486.7,295.7 488.5,295.3 490.3,295.0 492.2,294.7 494.1,294.3 495.9,294.0 497.8,293.6 499.7,293.2 501.6,292.8 503.5,292.4 505.4,291.9 507.3,291.4 509.2,290.9 511.1,290.3 512.9,289.7 514.8,289.0 516.5,288.2 518.3,287.3 519.9,286.4 521.6,285.4 530.3,278.0 534.6,263.5 539.0,249.0 544.8,234.5 549.1,220.0 554.5,209.0 553.4,208.1 554.9,207.2 552.9,206.4 554.4,205.5 552.4,204.6 553.9,203.8 551.9,202.9 552.5,202.0 560.3,194.5 559.1,193.6 560.7,192.8 558.6,191.9 560.2,191.0 558.1,190.1 559.7,189.2 557.6,188.4 558.3,187.5 563.2,180.0 562.1,179.1 563.6,178.2 561.6,177.4 563.1,176.5 561.1,175.6 562.6,174.8 560.6,173.9 561.2,173.0 563.2,165.5 561.2,158.5 566.1,151.0 564.9,150.1 566.5,149.2 564.4,148.4 566.0,147.5 563.9,146.6 565.5,145.8 563.4,144.9 564.1,144.0 566.1,136.5 564.9,135.6 566.5,134.8 564.4,133.9 566.0,133.0 563.9,132.1 565.5,131.2 563.4,130.4 564.1,129.5 569.0,122.0 567.9,121.1 569.4,120.2 567.4,119.4 568.9,118.5 566.9,117.6 568.4,116.8 566.4,115.9 567.0,115.0 571.9,107.5 570.8,106.6 572.3,105.8 570.2,104.9 571.8,104.0 569.8,103.1 571.3,102.2 569.2,101.4 569.9,100.5 574.8,93.0 573.6,92.1 575.2,91.2 573.1,90.4 574.7,89.5 572.6,88.6 574.2,87.8 572.1,86.9 572.8,86.0 573.8,80.0"/>
<polyline points="113.0,365.0 122.7,363.6 131.9,362.2 140.7,360.9 149.1,359.7 157.1,358.6 164.7,357.6 172.0,356.6 179.0,355.6 185.7,354.8 192.1,353.9 198.3,353.1 204.4,352.3 210.2,351.6 215.8,350.8 221.3,350.1 226.6,349.4 231.7,348.7 236.7,348.0 241.6,347.4 246.3,346.7 250.9,346.1 255.3,345.4 259.7,344.8 264.0,344.2 268.1,343.6 272.1,343.0 276.1,342.5 279.9,341.9 283.7,341.3 287.3,340.8 290.9,340.3 294.5,339.7 297.9,339.2 301.3,338.7 304.6,338.2 307.8,337.7 311.0,337.3 314.1,336.8 317.1,336.3 320.1,335.9 323.1,335.4 325.9,335.0 328.8,334.5 331.6,334.1 334.3,333.7 337.0,333.3 339.7,332.8 342.3,332.4 344.9,332.0 347.5,331.6 350.0,331.2 352.5,330.7 354.9,330.3 357.3,329.9 359.7,329.4 362.1,329.0 364.4,328.5 366.8,328.1 369.0,327.6 371.3,327.1 373.6,326.6 375.8,326.1 378.0,325.6 380.1,325.1 382.3,324.6 384.4,324.1 386.5,323.6 388.6,323.1 390.6,322.6 392.7,322.2 394.7,321.7 396.7,321.3 398.6,320.9 400.6,320.5 402.5,320.1 404.4,319.7 406.4,319.4 408.2,319.0 410.1,318.7 412.0,318.3 413.9,318.0 415.7,317.6 417.6,317.3 419.4,317.0 421.2,316.7 423.0,316.3 424.8,316.0 426.6,315.7 428.4,315.4 430.2,315.1 432.0,314.7 433.8,314.4 435.6,314.1 437.4,313.7 439.2,313.4 440.9,313.1 442.7,312.7 444.5,312.4 446.2,312.0 448.0,311.6 449.7,311.2 451.5,310.8 453.2,310.4 455.0,309.9 456.7,309.5 458.4,309.0 460.1,308.5 461.9,308.0 463.6,307.5 465.3,306.9 467.0,306.4 468.7,305.8 470.4,305.3 472.1,304.7 473.8,304.2 475.5,303.6 477.3,303.1 479.0,302.6 480.8,302.2 482.5,301.8 484.3,301.3 486.1,300.9 488.0,300.5 489.8,300.1 491.6,299.7 493.5,299.2 495.4,298.8 497.2,298.3 499.1,297.7 500.9,297.1 502.8,296.5 504.6,295.9 506.4,295.2 508.2,294.4 510.0,293.6 511.8,292.8 513.6,292.0 515.3,291.1 517.0,290.1 518.7,289.1 520.3,288.0 530.3,278.0 534.6,263.5 539.0,249.0 543.3,234.5 549.1,220.0 554.5,209.0 552.5,202.0 557.4,194.5 556.2,193.6 557.8,192.8 555.8,191.9 557.3,191.0 555.2,190.1 556.8,189.2 554.8,188.4 555.4,187.5 560.3,180.0 559.1,179.1 560.7,178.2 558.6,177.4 560.2,176.5 558.1,175.6 559.7,174.8 557.6,173.9 558.3,173.0 563.2,165.5 562.1,164.6 563.6,163.8 561.6,162.9 563.1,162.0 561.1,161.1 562.6,160.2 560.6,159.4 561.2,158.5 566.1,151.0 564.9,150.1 566.5,149.2 564.4,148.4 566.0,147.5 563.9,146.6 565.5,145.8 563.4,144.9 564.1,144.0 566.1,136.5 564.9,135.6 566.5,134.8 564.4,133.9 566.0,133.0 563.9,132.1 565.5,131.2 563.4,130.4 564.1,129.5 569.0,122.0 567.9,121.1 569.4,120.2 567.4,119.4 568.9,118.5 566.9,117.6 568.4,116.8 566.4,115.9 567.0,115.0 571.9,107.5 570.8,106.6 572.3,105.8 570.2,104.9 571.8,104.0 569.8,103.1 571.3,102.2 569.2,101.4 569.9,100.5 571.9,93.0 570.8,92.1 572.3,91.2 570.2,90.4 571.8,89.5 569.8,88.6 571.3,87.8 569.2,86.9 569.9,86.0 573.8,80.0"/>
<polyline points="113.0,365.0 122.7,363.6 131.9,362.2 140.7,360.9 149.1,359.7 157.1,358.6 164.7,357.6 172.0,356.6 179.0,355.6 185.7,354.8 192.1,353.9 198.3,353.1 204.4,352.3 210.2,351.6 215.8,350.8 221.3,350.1 226.6,349.4 231.7,348.7 236.7,348.1 241.5,347.4 246.2,346.8 250.8,346.2 255.2,345.6 259.6,345.0 263.8,344.4 267.9,343.8 271.9,343.3 275.8,342.8 279.6,342.3 283.3,341.8 287.0,341.3 290.5,340.8 294.0,340.3 297.4,339.8 300.8,339.4 304.1,338.9 307.3,338.5 310.4,338.0 313.5,337.6 316.6,337.2 319.5,336.8 322.5,336.4 325.4,335.9 328.2,335.5 331.0,335.1 333.7,334.7 336.4,334.4 339.1,334.0 341.7,333.6 344.3,333.2 346.9,332.8 349.4,332.4 351.9,332.0 354.3,331.6 356.7,331.2 359.1,330.8 361.5,330.4 363.9,329.9 366.2,329.5 368.5,329.0 370.8,328.6 373.0,328.1 375.3,327.6 377.5,327.1 379.7,326.6 381.8,326.1 384.0,325.6 386.1,325.1 388.2,324.6 390.2,324.1 392.3,323.7 394.3,323.3 396.3,322.8 398.3,322.4 400.3,322.0 402.2,321.6 404.1,321.3 406.1,320.9 408.0,320.6 409.9,320.2 411.8,319.9 413.6,319.6 415.5,319.3 417.4,318.9 419.2,318.6 421.1,318.3 422.9,318.0 424.7,317.7 426.6,317.4 428.4,317.1 430.2,316.7 432.0,316.4 433.8,316.1 435.6,315.8 437.4,315.5 439.2,315.1 441.0,314.8 442.8,314.5 444.5,314.1 446.3,313.7 448.1,313.4 449.9,313.0 451.6,312.5 453.4,312.1 455.1,311.7 456.9,311.2 458.6,310.7 460.4,310.1 462.1,309.6 463.8,309.0 465.5,308.5 467.2,307.9 469.0,307.3 470.7,306.7 472.4,306.1 474.1,305.6 475.8,305.0 477.5,304.5 479.3,303.9 481.1,303.5 482.8,303.0 484.6,302.6 486.4,302.2 488.3,301.7 490.1,301.3 492.0,300.8 493.8,300.4 495.7,299.9 497.5,299.3 499.4,298.7 501.2,298.1 503.0,297.4 504.8,296.6 506.6,295.9 508.4,295.1 510.1,294.2 511.9,293.3 513.7,292.4 515.4,291.4 517.1,290.4 518.7,289.3 530.3,278.0 534.6,263.5 537.5,249.0 543.3,234.5 547.7,220.0 554.5,209.0 553.4,208.1 554.9,207.2 552.9,206.4 554.4,205.5 552.4,204.6 553.9,203.8 551.9,202.9 552.5,202.0 557.4,194.5 556.2,193.6 557.8,192.8 555.8,191.9 557.3,191.0 555.2,190.1 556.8,189.2 554.8,188.4 555.4,187.5 560.3,180.0 559.1,179.1 560.7,178.2 558.6,177.4 560.2,176.5 558.1,175.6 559.7,174.8 557.6,173.9 558.3,173.0 563.2,165.5 562.1,164.6 563.6,163.8 561.6,162.9 563.1,162.0 561.1,161.1 562.6,160.2 560.6,159.4 561.2,158.5 563.2,151.0 562.1,150.1 563.6,149.2 561.6,148.4 563.1,147.5 561.1,146.6 562.6,145.8 560.6,144.9 561.2,144.0 566.1,136.5 564.9,135.6 566.5,134.8 564.4,133.9 566.0,133.0 563.9,132.1 565.5,131.2 563.4,130.4 564.1,129.5 569.0,122.0 567.9,121.1 569.4,120.2 567.4,119.4 568.9,118.5 566.9,117.6 568.4,116.8 566.4,115.9 567.0,115.0 569.0,107.5 567.9,106.6 569.4,105.8 567.4,104.9 568.9,104.0 566.9,103.1 568.4,102.2 566.4,101.4 567.0,100.5 571.9,93.0 570.8,92.1 572.3,91.2 570.2,90.4 571.8,89.5 569.8,88.6 571.3,87.8 569.2,86.9 569.9,86.0 573.8,80.0"/>
<polyline points="113.0,365.0 123.6,363.0 133.6,361.1 143.1,359.3 152.1,357.6 160.6,356.0 168.8,354.5 176.6,353.1 184.0,351.7 191.1,350.5 197.7,349.4 204.1,348.3 210.2,347.3 216.2,346.4 221.9,345.5 227.4,344.6 232.7,343.7 237.8,342.9 242.8,342.1 247.6,341.4 252.3,340.6 256.9,339.9 261.3,339.2 265.5,338.5 269.7,337.9 273.7,337.3 277.7,336.7 281.5,336.1 285.2,335.6 288.8,335.0 292.4,334.5 295.8,334.0 299.2,333.6 302.5,333.1 305.7,332.7 308.9,332.2 311.9,331.8 315.0,331.4 318.0,331.0 320.9,330.6 323.7,330.2 326.6,329.8 329.3,329.5 332.0,329.1 334.7,328.7 337.4,328.4 340.0,328.0 342.5,327.6 345.1,327.3 347.5,326.9 350.0,326.5 352.4,326.1 354.8,325.8 357.2,325.4 359.6,325.0 361.9,324.6 364.2,324.1 366.5,323.7 368.7,323.3 370.9,322.8 373.1,322.4 375.3,321.9 377.5,321.4 379.6,320.9 381.7,320.4 383.8,320.0 385.8,319.5 387.9,319.0 389.9,318.5 391.9,318.0 393.9,317.6 395.8,317.2 397.8,316.7 399.7,316.3 401.6,315.9 403.5,315.5 405.4,315.1 407.2,314.7 409.1,314.3 410.9,313.9 412.7,313.6 414.5,313.2 416.3,312.8 418.1,312.5 419.9,312.1 421.7,311.7 423.4,311.4 425.2,311.0 426.9,310.7 428.7,310.3 430.4,310.0 432.2,309.6 433.9,309.3 435.6,308.9 437.3,308.5 439.1,308.2 440.8,307.8 442.5,307.5 444.2,307.1 445.9,306.8 447.6,306.4 449.3,306.0 451.0,305.6 452.7,305.2 454.4,304.8 456.1,304.4 457.8,304.0 459.4,303.6 461.1,303.1 462.8,302.7 464.5,302.2 466.2,301.8 467.9,301.3 469.6,300.9 471.3,300.4 473.0,300.0 474.7,299.6 476.4,299.1 478.1,298.7 479.9,298.3 481.6,298.0 483.4,297.6 485.2,297.2 487.0,296.9 488.8,296.5 490.6,296.1 492.5,295.7 494.3,295.3 496.2,294.9 498.0,294.4 499.9,293.9 501.7,293.4 503.6,292.9 505.4,292.3 507.3,291.7 509.1,291.1 510.9,290.4 512.7,289.6 514.5,288.8 516.2,287.9 517.9,287.0 519.5,286.0 528.8,278.0 533.2,263.5 537.5,249.0 541.9,234.5 547.7,220.0 554.5,209.0 553.4,208.1 554.9,207.2 552.9,206.4 554.4,205.5 552.4,204.6 553.9,203.8 551.9,202.9 552.5,202.0 557.4,194.5 555.4,187.5 560.3,180.0 559.1,179.1 560.7,178.2 558.6,177.4 560.2,176.5 558.1,175.6 559.7,174.8 557.6,173.9 558.3,173.0 563.2,165.5 561.2,158.5 563.2,151.0 562.1,150.1 563.6,149.2 561.6,148.4 563.1,147.5 561.1,146.6 562.6,145.8 560.6,144.9 561.2,144.0 566.1,136.5 564.9,135.6 566.5,134.8 564.4,133.9 566.0,133.0 563.9,132.1 565.5,131.2 563.4,130.4 564.1,129.5 566.1,122.0 564.9,121.1 566.5,120.2 564.4,119.4 566.0,118.5 563.9,117.6 565.5,116.8 563.4,115.9 564.1,115.0 569.0,107.5 567.0,100.5 571.9,93.0 569.9,86.0 573.8,80.0"/>
<polyline points="113.0,365.0 124.5,362.4 135.2,360.0 145.4,357.7 155.1,355.5 164.2,353.4 172.9,351.5 181.2,349.6 189.1,347.8 196.4,346.2 203.3,344.8 209.9,343.6 216.1,342.4 222.1,341.2 227.9,340.1 233.4,339.1 238.8,338.1 244.0,337.1 249.0,336.2 253.8,335.3 258.4,334.5 262.9,333.7 267.3,332.9 271.5,332.1 275.6,331.4 279.6,330.7 283.4,330.1 287.2,329.4 290.8,328.9 294.3,328.3 297.8,327.8 301.1,327.3 304.3,326.8 307.5,326.4 310.6,325.9 313.7,325.5 316.6,325.1 319.5,324.8 322.4,324.4 325.2,324.0 327.9,323.7 330.6,323.3 333.3,323.0 335.9,322.7 338.5,322.3 341.0,322.0 343.5,321.6 346.0,321.3 348.4,321.0 350.8,320.6 353.2,320.3 355.5,319.9 357.8,319.5 360.1,319.1 362.4,318.8 364.6,318.4 366.8,317.9 369.0,317.5 371.2,317.1 373.3,316.6 375.5,316.2 377.6,315.7 379.7,315.3 381.7,314.8 383.7,314.3 385.8,313.8 387.7,313.3 389.7,312.9 391.7,312.4 393.6,311.9 395.5,311.5 397.4,311.1 399.3,310.6 401.1,310.2 402.9,309.8 404.8,309.3 406.6,308.9 408.4,308.5 410.1,308.1 411.9,307.6 413.7,307.2 415.4,306.8 417.1,306.4 418.9,306.0 420.6,305.6 422.3,305.2 424.0,304.8 425.7,304.4 427.3,304.0 429.0,303.6 430.7,303.2 432.3,302.8 434.0,302.4 435.6,302.0 437.3,301.6 438.9,301.2 440.5,300.9 442.2,300.5 443.8,300.1 445.4,299.8 447.1,299.4 448.7,299.1 450.3,298.7 452.0,298.4 453.6,298.0 455.2,297.7 456.9,297.3 458.5,297.0 460.2,296.7 461.8,296.3 463.5,296.0 465.1,295.7 466.8,295.4 468.5,295.1 470.1,294.8 471.8,294.4 473.5,294.1 475.2,293.8 477.0,293.5 478.7,293.2 480.4,292.9 482.2,292.6 484.0,292.3 485.7,292.0 487.5,291.7 489.3,291.4 491.1,291.1 493.0,290.8 494.8,290.5 496.7,290.2 498.6,289.9 500.5,289.5 502.4,289.2 504.3,288.8 506.2,288.4 508.1,288.0 510.0,287.5 511.8,286.9 513.6,286.2 515.4,285.5 517.1,284.7 518.8,283.8 520.4,282.9 527.4,278.0 533.2,263.5 536.1,249.0 541.9,234.5 546.2,220.0 551.6,209.0 550.4,208.1 552.0,207.2 549.9,206.4 551.5,205.5 549.4,204.6 551.0,203.8 548.9,202.9 549.6,202.0 557.4,194.5 556.2,193.6 557.8,192.8 555.8,191.9 557.3,191.0 555.2,190.1 556.8,189.2 554.8,188.4 555.4,187.5 560.3,180.0 558.3,173.0 560.3,165.5 559.1,164.6 560.7,163.8 558.6,162.9 560.2,162.0 558.1,161.1 559.7,160.2 557.6,159.4 558.3,158.5 563.2,151.0 562.1,150.1 563.6,149.2 561.6,148.4 563.1,147.5 561.1,146.6 562.6,145.8 560.6,144.9 561.2,144.0 563.2,136.5 562.1,135.6 563.6,134.8 561.6,133.9 563.1,133.0 561.1,132.1 562.6,131.2 560.6,130.4 561.2,129.5 566.1,122.0 564.9,121.1 566.5,120.2 564.4,119.4 566.0,118.5 563.9,117.6 565.5,116.8 563.4,115.9 564.1,115.0 569.0,107.5 567.9,106.6 569.4,105.8 567.4,104.9 568.9,104.0 566.9,103.1 568.4,102.2 566.4,101.4 567.0,100.5 571.9,93.0 570.8,92.1 572.3,91.2 570.2,90.4 571.8,89.5 569.8,88.6 571.3,87.8 569.2,86.9 569.9,86.0 570.9,80.0"/>
<polyline points="113.0,365.0 124.5,362.4 135.2,360.0 145.4,357.7 155.1,355.5 164.2,353.4 172.9,351.5 181.2,349.6 189.1,347.8 196.4,346.2 203.3,344.8 209.9,343.6 216.1,342.4 222.1,341.2 227.9,340.1 233.4,339.1 238.8,338.1 244.0,337.1 249.0,336.2 253.8,335.3 258.5,334.4 263.0,333.6 267.4,332.8 271.6,332.0 275.8,331.2 279.8,330.5 283.7,329.8 287.5,329.1 291.1,328.5 294.7,327.9 298.1,327.3 301.5,326.8 304.8,326.2 308.0,325.8 311.1,325.3 314.2,324.8 317.1,324.4 320.1,324.0 323.0,323.6 325.7,323.2 328.5,322.8 331.2,322.4 333.9,322.0 336.5,321.7 339.1,321.3 341.6,320.9 344.1,320.6 346.6,320.2 349.0,319.8 351.4,319.4 353.8,319.1 356.1,318.7 358.4,318.3 360.7,317.9 363.0,317.4 365.2,317.0 367.4,316.6 369.6,316.1 371.8,315.7 373.9,315.2 376.0,314.8 378.1,314.3 380.2,313.8 382.2,313.3 384.2,312.8 386.2,312.3 388.2,311.8 390.2,311.4 392.1,310.9 394.0,310.4 395.9,310.0 397.8,309.5 399.6,309.1 401.5,308.7 403.3,308.2 405.1,307.8 406.9,307.4 408.6,306.9 410.4,306.5 412.2,306.1 413.9,305.6 415.6,305.2 417.3,304.8 419.1,304.4 420.7,303.9 422.4,303.5 424.1,303.1 425.8,302.7 427.4,302.3 429.1,301.9 430.7,301.5 432.4,301.1 434.0,300.7 435.6,300.3 437.3,299.9 438.9,299.5 440.5,299.1 442.1,298.8 443.7,298.4 445.3,298.0 446.9,297.7 448.6,297.3 450.2,297.0 451.8,296.6 453.4,296.3 455.0,296.0 456.7,295.7 458.3,295.4 459.9,295.1 461.6,294.8 463.2,294.5 464.9,294.2 466.5,293.9 468.2,293.6 469.9,293.3 471.6,293.1 473.3,292.8 475.0,292.5 476.7,292.2 478.4,291.9 480.1,291.7 481.9,291.4 483.6,291.1 485.4,290.8 487.2,290.5 489.0,290.2 490.8,289.9 492.6,289.6 494.5,289.3 496.3,289.1 498.2,288.8 500.1,288.5 502.0,288.2 504.0,287.9 505.9,287.5 507.8,287.1 509.7,286.6 511.5,286.1 513.3,285.4 515.1,284.7 516.8,283.9 518.4,283.1 520.1,282.1 526.0,278.0 533.2,263.5 536.1,249.0 540.5,234.5 546.2,220.0 551.6,209.0 550.4,208.1 552.0,207.2 549.9,206.4 551.5,205.5 549.4,204.6 551.0,203.8 548.9,202.9 549.6,202.0 557.4,194.5 555.4,187.5 557.4,180.0 556.2,179.1 557.8,178.2 555.8,177.4 557.3,176.5 555.2,175.6 556.8,174.8 554.8,173.9 555.4,173.0 560.3,165.5 559.1,164.6 560.7,163.8 558.6,162.9 560.2,162.0 558.1,161.1 559.7,160.2 557.6,159.4 558.3,158.5 563.2,151.0 562.1,150.1 563.6,149.2 561.6,148.4 563.1,147.5 561.1,146.6 562.6,145.8 560.6,144.9 561.2,144.0 563.2,136.5 561.2,129.5 566.1,122.0 564.9,121.1 566.5,120.2 564.4,119.4 566.0,118.5 563.9,117.6 565.5,116.8 563.4,115.9 564.1,115.0 566.1,107.5 564.9,106.6 566.5,105.8 564.4,104.9 566.0,104.0 563.9,103.1 565.5,102.2 563.4,101.4 564.1,100.5 569.0,93.0 567.9,92.1 569.4,91.2 567.4,90.4 568.9,89.5 566.9,88.6 568.4,87.8 566.4,86.9 567.0,86.0 570.9,80.0"/>
<polyline points="113.0,365.0 124.0,362.7 134.4,360.5 144.2,358.5 153.6,356.5 162.4,354.7 170.8,353.0 178.9,351.3 186.6,349.7 193.8,348.4 200.5,347.1 207.0,346.0 213.2,344.9 219.1,343.8 224.9,342.8 230.4,341.8 235.7,340.9 240.9,340.0 245.9,339.2 250.7,338.4 255.4,337.6 259.9,336.8 264.3,336.0 268.5,335.3 272.6,334.7 276.7,334.0 280.5,333.4 284.3,332.8 288.0,332.2 291.6,331.7 295.1,331.2 298.5,330.7 301.8,330.2 305.0,329.7 308.2,329.3 311.3,328.9 314.3,328.5 317.2,328.1 320.2,327.7 323.0,327.3 325.8,327.0 328.6,326.6 331.3,326.2 334.0,325.9 336.6,325.5 339.2,325.2 341.7,324.8 344.3,324.5 346.7,324.1 349.2,323.8 351.6,323.4 354.0,323.0 356.3,322.6 358.7,322.3 361.0,321.9 363.3,321.5 365.5,321.0 367.7,320.6 370.0,320.2 372.1,319.7 374.3,319.3 376.4,318.8 378.6,318.3 380.7,317.9 382.7,317.4 384.8,316.9 386.8,316.4 388.8,315.9 390.8,315.5 392.8,315.0 394.7,314.5 396.6,314.1 398.5,313.7 400.4,313.2 402.3,312.8 404.1,312.4 406.0,312.0 407.8,311.6 409.6,311.2 411.4,310.8 413.2,310.4 415.0,310.0 416.7,309.6 418.5,309.2 420.2,308.8 422.0,308.4 423.7,308.1 425.4,307.7 427.1,307.3 428.8,306.9 430.5,306.6 432.2,306.2 433.9,305.8 435.6,305.5 437.3,305.1 439.0,304.7 440.7,304.4 442.3,304.0 444.0,303.6 445.7,303.3 447.3,302.9 449.0,302.5 450.7,302.2 452.3,301.8 454.0,301.4 455.6,301.0 457.3,300.7 459.0,300.3 460.6,299.9 462.3,299.5 464.0,299.1 465.7,298.8 467.3,298.4 469.0,298.0 470.7,297.6 472.4,297.2 474.1,296.8 475.8,296.5 477.5,296.1 479.3,295.8 481.0,295.4 482.8,295.1 484.6,294.8 486.4,294.4 488.2,294.1 490.0,293.7 491.8,293.3 493.6,292.9 495.4,292.5 497.3,292.1 499.1,291.7 501.0,291.2 502.8,290.7 504.7,290.2 506.5,289.6 508.3,289.0 510.2,288.4 511.9,287.7 513.7,286.9 515.4,286.1 517.1,285.1 518.7,284.2 526.0,278.0 531.8,263.5 536.1,249.0 540.5,234.5 544.8,220.0 551.6,209.0 550.4,208.1 552.0,207.2 549.9,206.4 551.5,205.5 549.4,204.6 551.0,203.8 548.9,202.9 549.6,202.0 554.5,194.5 553.4,193.6 554.9,192.8 552.9,191.9 554.4,191.0 552.4,190.1 553.9,189.2 551.9,188.4 552.5,187.5 557.4,180.0 556.2,179.1 557.8,178.2 555.8,177.4 557.3,176.5 555.2,175.6 556.8,174.8 554.8,173.9 555.4,173.0 560.3,165.5 559.1,164.6 560.7,163.8 558.6,162.9 560.2,162.0 558.1,161.1 559.7,160.2 557.6,159.4 558.3,158.5 560.3,151.0 559.1,150.1 560.7,149.2 558.6,148.4 560.2,147.5 558.1,146.6 559.7,145.8 557.6,144.9 558.3,144.0 563.2,136.5 561.2,129.5 566.1,122.0 564.9,121.1 566.5,120.2 564.4,119.4 566.0,118.5 563.9,117.6 565.5,116.8 563.4,115.9 564.1,115.0 566.1,107.5 564.9,106.6 566.5,105.8 564.4,104.9 566.0,104.0 563.9,103.1 565.5,102.2 563.4,101.4 564.1,100.5 569.0,93.0 567.9,92.1 569.4,91.2 567.4,90.4 568.9,89.5 566.9,88.6 568.4,87.8 566.4,86.9 567.0,86.0 570.9,80.0"/>
<polyline points="113.0,365.0 124.0,362.7 134.4,360.5 144.2,358.5 153.6,356.5 162.4,354.7 170.8,353.0 178.9,351.3 186.6,349.7 193.8,348.4 200.5,347.1 207.0,346.0 213.2,344.9 219.1,343.8 224.9,342.8 230.4,341.8 235.7,340.9 240.9,340.0 245.9,339.2 250.7,338.3 255.4,337.5 260.0,336.7 264.4,335.9 268.7,335.2 272.8,334.5 276.9,333.8 280.8,333.1 284.6,332.5 288.3,331.8 291.9,331.3 295.4,330.7 298.9,330.1 302.2,329.6 305.5,329.1 308.6,328.7 311.8,328.2 314.8,327.7 317.8,327.3 320.7,326.9 323.6,326.5 326.4,326.1 329.2,325.7 331.9,325.3 334.6,324.9 337.2,324.5 339.8,324.1 342.3,323.7 344.9,323.3 347.3,323.0 349.8,322.6 352.2,322.2 354.6,321.8 356.9,321.4 359.3,321.0 361.6,320.5 363.9,320.1 366.1,319.7 368.3,319.2 370.5,318.8 372.7,318.3 374.9,317.9 377.0,317.4 379.1,316.9 381.2,316.4 383.2,315.9 385.3,315.4 387.3,314.9 389.3,314.4 391.2,313.9 393.2,313.5 395.1,313.0 397.0,312.6 398.9,312.1 400.7,311.7 402.6,311.3 404.4,310.9 406.3,310.4 408.1,310.0 409.9,309.6 411.7,309.2 413.4,308.8 415.2,308.4 416.9,308.0 418.7,307.6 420.4,307.2 422.1,306.8 423.8,306.4 425.5,306.0 427.2,305.6 428.9,305.2 430.6,304.9 432.3,304.5 434.0,304.1 435.6,303.7 437.3,303.4 438.9,303.0 440.6,302.6 442.3,302.2 443.9,301.9 445.6,301.5 447.2,301.2 448.9,300.8 450.5,300.4 452.1,300.1 453.8,299.7 455.4,299.4 457.1,299.0 458.7,298.6 460.4,298.3 462.1,297.9 463.7,297.6 465.4,297.2 467.1,296.9 468.7,296.5 470.4,296.2 472.1,295.8 473.8,295.5 475.5,295.2 477.2,294.8 479.0,294.5 480.7,294.2 482.5,293.9 484.3,293.5 486.0,293.2 487.8,292.9 489.6,292.5 491.4,292.1 493.2,291.8 495.1,291.4 496.9,291.0 498.7,290.6 500.6,290.1 502.5,289.7 504.3,289.2 506.2,288.7 508.0,288.1 509.8,287.5 511.6,286.8 513.4,286.1 515.1,285.2 516.7,284.3 518.4,283.4 519.9,282.4 526.0,278.0 531.8,263.5 534.6,249.0 539.0,234.5 544.8,220.0 551.6,209.0 550.4,208.1 552.0,207.2 549.9,206.4 551.5,205.5 549.4,204.6 551.0,203.8 548.9,202.9 549.6,202.0 554.5,194.5 553.4,193.6 554.9,192.8 552.9,191.9 554.4,191.0 552.4,190.1 553.9,189.2 551.9,188.4 552.5,187.5 557.4,180.0 556.2,179.1 557.8,178.2 555.8,177.4 557.3,176.5 555.2,175.6 556.8,174.8 554.8,173.9 555.4,173.0 560.3,165.5 559.1,164.6 560.7,163.8 558.6,162.9 560.2,162.0 558.1,161.1 559.7,160.2 557.6,159.4 558.3,158.5 560.3,151.0 558.3,144.0 563.2,136.5 561.2,129.5 563.2,122.0 562.1,121.1 563.6,120.2 561.6,119.4 563.1,118.5 561.1,117.6 562.6,116.8 560.6,115.9 561.2,115.0 566.1,107.5 564.9,106.6 566.5,105.8 564.4,104.9 566.0,104.0 563.9,103.1 565.5,102.2 563.4,101.4 564.1,100.5 569.0,93.0 567.9,92.1 569.4,91.2 567.4,90.4 568.9,89.5 566.9,88.6 568.4,87.8 566.4,86.9 567.0,86.0 570.9,80.0"/>
<polyline points="113.0,365.0 120.2,363.4 130.4,361.0 142.4,358.2 154.8,355.4 166.1,352.9 175.0,351.0 181.1,349.8 185.6,349.0 188.9,348.5 192.0,348.1 195.5,347.6 200.0,347.0 205.7,346.2 211.9,345.3 218.5,344.4 225.3,343.5 232.2,342.5 239.0,341.5 246.0,340.4 253.3,339.3 260.7,338.1 267.8,337.0 274.4,335.9 280.0,335.0 284.4,334.3 287.9,333.6 290.7,333.1 293.4,332.6 296.3,332.1 300.0,331.5 304.4,330.8 309.3,330.1 314.4,329.3 319.6,328.6 324.9,327.8 330.0,327.0 334.9,326.2 339.6,325.5 344.4,324.8 349.3,324.0 354.4,323.1 360.0,322.0 365.9,320.7 372.0,319.3 378.4,317.8 385.2,316.2 392.3,314.6 400.0,313.0 408.8,311.4 418.9,309.9 429.3,308.2 439.4,306.6 448.2,304.9 455.0,303.0 459.5,301.0 462.2,298.8 463.7,296.5 464.5,294.2 465.1,292.0 466.0,290.0 467.1,288.1 468.0,286.3 468.6,284.5 469.1,282.9 469.6,281.3 470.0,280.0 470.3,279.0 470.3,278.3 470.3,277.7 470.3,277.1 470.5,276.2 471.0,275.0 471.8,273.3 472.7,271.2 473.9,268.9 475.1,266.6 476.5,264.2 478.0,262.0 479.5,260.1 481.1,258.4 482.8,256.8 484.7,254.9 486.7,252.7 489.0,250.0 491.5,246.6 494.1,242.6 496.9,238.3 499.9,233.8 503.3,229.3 507.0,225.0 511.4,221.0 516.5,217.2 521.9,213.4 527.2,209.4 531.9,205.0 535.7,200.0 538.4,194.1 540.3,187.4 541.7,180.3 542.7,173.1 543.8,166.3 545.0,160.0 546.4,154.3 547.8,148.9 549.1,143.8 550.4,138.9 551.5,134.3 552.6,130.0 553.5,126.0 554.3,122.4 555.0,119.1 555.6,115.9 556.3,112.9 557.0,110.0 557.8,107.1 558.6,104.3 559.4,101.6 560.3,99.1 561.1,96.9 562.0,95.0 563.0,93.4 564.0,92.1 565.1,91.1 566.1,90.2 566.9,89.5 567.5,89.0 568.9,83.0 569.5,80.0"/>
<polyline points="113.0,365.0 120.2,363.4 130.4,361.0 142.4,358.2 154.8,355.4 166.1,352.9 175.0,351.0 181.1,349.8 185.6,349.0 188.9,348.5 192.0,348.1 195.5,347.6 200.0,347.0 205.7,346.2 211.9,345.3 218.5,344.4 225.3,343.5 232.2,342.5 239.0,341.5 246.0,340.4 253.3,339.3 260.7,338.1 267.8,337.0 274.4,335.9 280.0,335.0 284.4,334.3 287.9,333.6 290.7,333.1 293.4,332.6 296.3,332.1 300.0,331.5 304.4,330.8 309.3,330.1 314.4,329.3 319.6,328.6 324.9,327.8 330.0,327.0 334.9,326.2 339.6,325.5 344.4,324.8 349.3,324.0 354.4,323.1 360.0,322.0 366.1,320.7 372.6,319.2 379.4,317.6 386.3,316.0 393.2,314.4 400.0,313.0 406.9,311.7 414.0,310.5 421.1,309.3 428.0,308.2 434.4,307.1 440.0,306.0 444.9,305.0 449.3,304.1 453.1,303.2 456.5,302.3 459.5,301.2 462.0,300.0 463.9,298.6 465.3,297.1 466.1,295.6 466.7,293.9 467.3,292.0 468.0,290.0 468.7,287.8 469.2,285.3 469.7,282.7 470.2,280.0 471.0,277.4 472.0,275.0 473.5,272.7 475.3,270.5 477.4,268.3 479.4,266.2 481.4,264.1 483.0,262.0 484.2,260.0 485.2,258.0 486.0,256.1 486.8,254.1 487.8,252.1 489.0,250.0 490.5,247.7 492.1,245.4 493.8,242.9 495.7,240.5 497.7,238.2 500.0,236.0 502.5,234.2 505.2,232.6 508.1,231.2 511.1,229.6 514.3,227.6 517.5,225.0 521.0,221.8 524.7,218.3 528.6,214.3 532.4,210.0 535.9,205.2 539.0,200.0 541.6,194.1 543.8,187.4 545.8,180.3 547.5,173.1 549.0,166.3 550.5,160.0 551.8,154.3 552.8,148.8 553.7,143.6 554.4,138.7 555.2,134.2 556.0,130.0 556.9,126.2 557.8,122.7 558.6,119.5 559.5,116.7 560.3,114.2 561.0,112.0 561.7,110.2 562.5,108.9 563.1,107.9 563.8,107.1 564.3,106.5 564.7,106.0 565.5,100.0 566.5,94.0 567.8,88.0 569.1,82.0 569.5,80.0"/>
<polyline points="113.0,365.0 120.2,363.4 130.4,361.0 142.4,358.2 154.8,355.4 166.1,352.9 175.0,351.0 181.1,349.8 185.6,349.0 188.9,348.5 192.0,348.1 195.5,347.6 200.0,347.0 205.7,346.2 211.9,345.3 218.5,344.4 225.3,343.5 232.2,342.5 239.0,341.5 246.0,340.4 253.3,339.3 260.7,338.1 267.8,337.0 274.4,335.9 280.0,335.0 284.4,334.3 287.9,333.6 290.7,333.1 293.4,332.6 296.3,332.1 300.0,331.5 304.4,330.8 309.3,330.1 314.4,329.3 319.6,328.6 324.9,327.8 330.0,327.0 334.9,326.2 339.6,325.5 344.4,324.8 349.3,324.0 354.4,323.1 360.0,322.0 366.1,320.7 372.6,319.2 379.4,317.6 386.3,316.0 393.2,314.4 400.0,313.0 406.8,311.7 413.6,310.6 420.5,309.4 427.3,308.3 433.8,307.2 440.0,306.0 446.1,304.7 452.1,303.4 458.0,302.1 463.4,300.7 468.1,299.3 472.0,298.0 474.7,296.7 476.4,295.6 477.5,294.4 478.2,293.2 478.9,291.7 480.0,290.0 481.3,287.9 482.7,285.4 484.0,282.8 485.3,280.1 486.7,277.5 488.0,275.0 489.3,272.7 490.7,270.5 492.1,268.3 493.4,266.2 494.7,264.1 496.0,262.0 497.2,259.9 498.3,257.9 499.4,255.9 500.5,254.0 501.6,252.0 502.7,250.0 503.8,248.0 504.9,246.0 505.9,244.1 507.1,242.1 508.4,240.1 510.0,238.0 511.8,236.0 513.7,234.2 515.9,232.3 518.1,230.3 520.6,227.9 523.2,225.0 526.1,221.7 529.4,218.1 532.9,214.2 536.4,209.9 539.6,205.2 542.5,200.0 545.0,194.0 547.4,187.0 549.5,179.7 551.4,172.4 553.1,165.7 554.6,160.0 555.8,155.3 556.7,151.3 557.4,147.9 558.0,144.9 558.5,142.3 559.0,140.0 559.5,138.1 560.0,136.7 560.4,135.8 560.8,135.0 561.1,134.5 561.3,134.0 562.0,128.0 562.7,122.0 563.4,116.0 564.1,110.0 564.9,104.0 565.8,98.0 566.9,92.0 568.2,86.0 569.5,80.0"/>
<polyline points="113.0,365.0 120.2,363.4 130.4,361.0 142.4,358.2 154.8,355.4 166.1,352.9 175.0,351.0 181.1,349.8 185.6,349.0 188.9,348.5 192.0,348.1 195.5,347.6 200.0,347.0 205.7,346.2 211.9,345.3 218.5,344.4 225.3,343.5 232.2,342.5 239.0,341.5 246.0,340.4 253.3,339.3 260.7,338.1 267.8,337.0 274.4,335.9 280.0,335.0 284.4,334.3 287.9,333.6 290.7,333.1 293.4,332.6 296.3,332.1 300.0,331.5 304.4,330.8 309.3,330.1 314.4,329.3 319.6,328.6 324.9,327.8 330.0,327.0 334.9,326.2 339.6,325.5 344.4,324.8 349.3,324.0 354.4,323.1 360.0,322.0 366.1,320.7 372.6,319.2 379.4,317.6 386.3,316.0 393.2,314.4 400.0,313.0 406.6,311.7 413.1,310.6 419.7,309.5 426.3,308.4 433.0,307.3 440.0,306.0 447.7,304.6 456.1,303.0 464.7,301.4 472.8,299.8 479.8,298.3 485.0,297.0 488.1,296.1 489.6,295.5 489.9,295.0 489.7,294.4 489.6,293.5 490.0,292.0 490.9,289.8 491.9,287.1 492.9,284.0 493.9,280.8 494.9,277.7 496.0,275.0 497.1,272.6 498.3,270.3 499.5,268.2 500.7,266.1 501.9,264.1 503.0,262.0 503.9,260.0 504.7,258.0 505.4,256.1 506.2,254.2 507.2,252.2 508.4,250.0 510.0,247.6 511.8,245.0 513.8,242.4 515.9,239.7 518.0,237.2 520.0,235.0 522.0,233.2 524.0,231.9 526.1,230.6 528.2,229.3 530.2,227.5 532.3,225.0 534.4,221.9 536.5,218.3 538.5,214.4 540.6,210.0 542.7,205.2 544.8,200.0 547.0,193.8 549.4,186.5 551.7,178.8 553.9,171.4 555.8,164.9 557.3,160.0 558.3,157.0 558.8,155.3 559.0,154.5 559.1,154.3 559.1,154.3 559.2,154.0 559.9,148.0 560.5,142.0 561.1,136.0 561.8,130.0 562.5,124.0 563.2,118.0 563.9,112.0 564.7,106.0 565.5,100.0 566.5,94.0 567.8,88.0 569.1,82.0 569.5,80.0"/>
<polyline points="113.0,365.0 120.2,363.4 130.4,361.0 142.4,358.2 154.8,355.4 166.1,352.9 175.0,351.0 181.1,349.8 185.6,349.0 188.9,348.5 192.0,348.1 195.5,347.6 200.0,347.0 205.7,346.2 211.9,345.3 218.5,344.4 225.3,343.5 232.2,342.5 239.0,341.5 246.0,340.4 253.3,339.3 260.7,338.1 267.8,337.0 274.4,335.9 280.0,335.0 284.4,334.3 287.9,333.6 290.7,333.1 293.4,332.6 296.3,332.1 300.0,331.5 304.4,330.8 309.3,330.1 314.4,329.3 319.6,328.6 324.9,327.8 330.0,327.0 334.9,326.2 339.6,325.5 344.4,324.8 349.3,324.0 354.4,323.1 360.0,322.0 366.1,320.7 372.6,319.2 379.4,317.6 386.3,316.0 393.2,314.4 400.0,313.0 406.5,311.8 412.8,310.6 419.1,309.6 425.6,308.5 432.5,307.3 440.0,306.0 448.9,304.4 459.1,302.7 469.7,300.8 479.8,299.0 488.6,297.4 495.0,296.0 498.7,295.1 500.4,294.7 500.6,294.4 500.2,294.1 499.7,293.3 500.0,292.0 500.8,289.9 501.6,287.1 502.4,284.1 503.2,280.9 504.1,277.8 505.0,275.0 506.0,272.6 507.1,270.3 508.2,268.2 509.4,266.1 510.7,264.1 512.0,262.0 513.3,260.1 514.6,258.4 515.9,256.8 517.4,254.9 519.1,252.7 521.0,250.0 523.3,246.6 526.0,242.6 528.8,238.3 531.7,233.8 534.4,229.3 536.8,225.0 538.9,220.7 540.8,216.1 542.6,211.6 544.2,207.2 545.7,203.3 547.0,200.0 548.2,197.4 549.1,195.4 549.9,193.8 550.7,192.5 551.3,191.3 552.0,190.0 552.7,188.7 553.3,187.5 553.9,186.4 554.4,185.4 554.8,184.6 555.1,184.0 556.1,178.0 556.9,172.0 557.7,166.0 558.5,160.0 559.2,154.0 559.9,148.0 560.5,142.0 561.1,136.0 561.8,130.0 562.5,124.0 563.2,118.0 563.9,112.0 564.7,106.0 565.5,100.0 566.5,94.0 567.8,88.0 569.1,82.0 569.5,80.0"/>
<polyline points="113.0,365.0 120.2,363.4 130.4,361.0 142.4,358.2 154.8,355.4 166.1,352.9 175.0,351.0 181.1,349.8 185.6,349.0 188.9,348.5 192.0,348.1 195.5,347.6 200.0,347.0 205.7,346.2 211.9,345.3 218.5,344.4 225.3,343.5 232.2,342.5 239.0,341.5 246.0,340.4 253.3,339.3 260.7,338.1 267.8,337.0 274.4,335.9 280.0,335.0 284.4,334.3 287.9,333.6 290.7,333.1 293.4,332.6 296.3,332.1 300.0,331.5 304.4,330.8 309.3,330.1 314.4,329.3 319.6,328.6 324.9,327.8 330.0,327.0 334.9,326.2 339.6,325.5 344.4,324.8 349.3,324.0 354.4,323.1 360.0,322.0 366.1,320.7 372.6,319.2 379.4,317.6 386.3,316.0 393.2,314.4 400.0,313.0 406.4,311.8 412.4,310.7 418.4,309.7 424.8,308.6 431.9,307.4 440.0,306.0 450.1,304.2 462.0,302.1 474.7,299.9 486.9,297.7 497.3,295.7 505.0,294.0 509.3,292.7 511.1,291.8 511.2,291.1 510.5,290.3 509.8,289.3 510.0,288.0 510.9,286.3 511.8,284.3 512.8,282.2 513.7,279.9 514.8,277.5 516.0,275.0 517.4,272.3 518.9,269.4 520.5,266.3 522.1,263.3 523.6,260.5 525.0,258.0 526.2,255.9 527.2,254.0 528.2,252.3 529.1,250.8 530.1,249.4 531.0,248.0 532.0,246.7 533.1,245.5 534.2,244.4 535.2,243.4 536.1,242.6 536.7,242.0 538.5,236.0 540.5,230.0 542.7,224.0 545.0,218.0 547.3,212.0 549.4,206.0 551.4,200.0 553.1,194.0 554.4,188.0 555.4,182.0 556.4,176.0 557.2,170.0 558.0,164.0 558.7,158.0 559.5,152.0 560.1,146.0 560.7,140.0 561.3,134.0 562.0,128.0 562.7,122.0 563.4,116.0 564.1,110.0 564.9,104.0 565.8,98.0 566.9,92.0 568.2,86.0 569.5,80.0"/>
<polyline points="113.0,365.0 120.2,363.4 130.4,361.0 142.4,358.2 154.8,355.4 166.1,352.9 175.0,351.0 181.1,349.8 185.6,349.0 188.9,348.5 192.0,348.1 195.5,347.6 200.0,347.0 205.7,346.2 211.9,345.3 218.5,344.4 225.3,343.5 232.2,342.5 239.0,341.5 246.0,340.4 253.3,339.3 260.7,338.1 267.8,337.0 274.4,335.9 280.0,335.0 284.4,334.3 287.9,333.6 290.7,333.1 293.4,332.6 296.3,332.1 300.0,331.5 304.4,330.8 309.3,330.1 314.4,329.3 319.6,328.6 324.9,327.8 330.0,327.0 334.9,326.2 339.6,325.5 344.4,324.8 349.3,324.0 354.4,323.1 360.0,322.0 366.1,320.7 372.6,319.2 379.4,317.6 386.3,316.0 393.2,314.4 400.0,313.0 406.6,311.7 413.0,310.6 419.4,309.4 425.9,308.3 432.8,307.2 440.0,306.0 448.1,304.7 457.0,303.3 466.1,301.9 475.0,300.6 483.2,299.2 490.0,298.0 495.5,296.9 500.0,295.9 503.8,294.9 506.9,294.0 509.6,293.0 512.0,292.0 513.9,290.9 515.1,289.9 515.9,288.8 516.5,287.6 517.1,286.4 518.0,285.0 519.2,283.6 520.4,282.1 521.7,280.5 522.9,278.8 524.2,277.0 525.5,275.0 526.8,272.7 528.3,270.0 529.7,267.2 531.0,264.5 532.2,262.0 533.0,260.0 533.5,258.4 533.7,257.1 533.8,256.1 533.7,255.2 533.6,254.5 533.6,254.0 535.0,248.0 536.7,242.0 538.5,236.0 540.5,230.0 542.7,224.0 545.0,218.0 547.3,212.0 549.4,206.0 551.4,200.0 553.1,194.0 554.4,188.0 555.4,182.0 556.4,176.0 557.2,170.0 558.0,164.0 558.7,158.0 559.5,152.0 560.1,146.0 560.7,140.0 561.3,134.0 562.0,128.0 562.7,122.0 563.4,116.0 564.1,110.0 564.9,104.0 565.8,98.0 566.9,92.0 568.2,86.0 569.5,80.0"/>
<polyline points="113.0,365.5 136.0,351.0 155.0,333.0 172.0,319.0 182.0,314.0 225.0,292.0 240.0,285.0 254.0,275.6 265.0,264.5 287.0,242.4 297.0,235.0 301.0,230.7 303.6,225.6 307.0,218.4 311.0,213.2 330.0,201.0 341.3,187.5 360.0,170.0 365.0,161.3 371.3,151.3 378.8,138.5 385.5,120.0 388.0,113.0 391.6,107.6 399.4,96.2 402.5,92.6 407.3,80.0"/>
<polyline points="113.0,365.0 168.0,350.0 200.0,344.0 225.0,340.0 233.0,333.0 239.0,321.0 242.7,309.0 243.5,300.0 245.7,289.6 253.0,282.2 261.9,276.3 273.7,262.3 291.4,243.9 298.5,240.0 313.0,229.7 329.4,221.5 356.0,206.0 374.4,195.0 387.5,186.3 395.0,181.3 407.7,170.0 423.0,155.0 432.2,139.6 447.7,120.0 454.0,113.8 470.5,95.3 482.6,80.0"/>
<polyline points="113.0,365.0 168.0,350.0 223.0,340.0 241.5,330.7 249.8,318.8 267.7,304.4 270.0,300.0 273.7,290.4 285.5,277.8 297.3,262.3 305.0,254.9 318.0,240.0 329.0,221.5 333.0,217.4 343.0,200.9 343.1,195.0 347.5,185.0 363.8,168.8 368.8,163.1 377.5,152.5 385.0,147.5 392.5,141.3 405.0,129.3 410.6,125.8 413.7,120.0 419.7,107.6 428.2,96.2 443.5,80.0"/>
<polyline points="113.0,365.0 168.0,350.0 230.0,337.0 251.0,317.6 284.0,300.0 298.8,291.1 301.7,285.9 305.0,277.0 330.0,246.0 334.6,240.0 345.9,224.6 354.0,209.0 358.2,201.9 365.0,195.0 389.1,170.0 404.6,155.0 410.0,140.6 412.0,136.5 426.0,129.3 436.3,120.0 447.0,108.5 455.0,98.0 470.8,80.0"/>
<polyline points="113.0,365.0 168.0,350.0 223.0,340.0 330.0,323.0 400.0,306.0 425.5,302.7 428.2,294.5 433.6,288.2 438.2,281.0 440.9,276.4 452.7,263.6 457.0,260.0 464.5,248.2 469.4,240.4 475.6,225.0 479.7,215.7 492.0,198.2 495.1,190.0 497.4,186.5 498.2,167.9 506.7,155.6 506.7,139.7 512.3,130.0 520.0,113.2 522.9,105.9 539.4,80.0"/>
<polyline points="113.0,365.0 168.0,350.0 223.0,340.0 330.0,323.0 400.0,304.0 429.0,294.5 440.9,288.2 453.6,279.1 460.9,274.5 473.6,258.2 484.0,250.0 488.0,245.6 490.0,237.4 492.0,227.0 498.2,214.7 519.4,200.0 533.5,184.7 539.7,170.6 541.5,158.2 544.1,147.6 546.8,137.9 550.1,132.4 553.8,125.0 554.6,108.8 557.8,97.0 557.8,80.0"/>
</g>
<g shape-rendering="crispEdges">
<rect x="65.5" y="65.5" width="550" height="310" fill="none" stroke="#000"/>
<line x1="65" y1="75.5" x2="76" y2="75.5" stroke="#000"/>
<line x1="605" y1="75.5" x2="616" y2="75.5" stroke="#000"/>
<line x1="65" y1="104.5" x2="71" y2="104.5" stroke="#000"/>
<line x1="610" y1="104.5" x2="616" y2="104.5" stroke="#000"/>
<line x1="65" y1="133.5" x2="71" y2="133.5" stroke="#000"/>
<line x1="610" y1="133.5" x2="616" y2="133.5" stroke="#000"/>
<line x1="65" y1="162.5" x2="71" y2="162.5" stroke="#000"/>
<line x1="610" y1="162.5" x2="616" y2="162.5" stroke="#000"/>
<line x1="65" y1="191.5" x2="71" y2="191.5" stroke="#000"/>
<line x1="610" y1="191.5" x2="616" y2="191.5" stroke="#000"/>
<line x1="65" y1="220.5" x2="76" y2="220.5" stroke="#000"/>
<line x1="605" y1="220.5" x2="616" y2="220.5" stroke="#000"/>
<line x1="65" y1="249.5" x2="71" y2="249.5" stroke="#000"/>
<line x1="610" y1="249.5" x2="616" y2="249.5" stroke="#000"/>
<line x1="65" y1="278.5" x2="71" y2="278.5" stroke="#000"/>
<line x1="610" y1="278.5" x2="616" y2="278.5" stroke="#000"/>
<line x1="65" y1="307.5" x2="71" y2="307.5" stroke="#000"/>
<line x1="610" y1="307.5" x2="616" y2="307.5" stroke="#000"/>
<line x1="65" y1="336.5" x2="71" y2="336.5" stroke="#000"/>
<line x1="610" y1="336.5" x2="616" y2="336.5" stroke="#000"/>
<line x1="605.5" y1="65" x2="605.5" y2="76" stroke="#000"/>
<line x1="605.5" y1="365" x2="605.5" y2="376" stroke="#000"/>
<line x1="552.5" y1="65" x2="552.5" y2="71" stroke="#000"/>
<line x1="552.5" y1="370" x2="552.5" y2="376" stroke="#000"/>
<line x1="499.5" y1="65" x2="499.5" y2="76" stroke="#000"/>
<line x1="499.5" y1="365" x2="499.5" y2="376" stroke="#000"/>
<line x1="446.5" y1="65" x2="446.5" y2="71" stroke="#000"/>
<line x1="446.5" y1="370" x2="446.5" y2="376" stroke="#000"/>
<line x1="393.5" y1="65" x2="393.5" y2="76" stroke="#000"/>
<line x1="393.5" y1="365" x2="393.5" y2="376" stroke="#000"/>
<line x1="340.5" y1="65" x2="340.5" y2="71" stroke="#000"/>
<line x1="340.5" y1="370" x2="340.5" y2="376" stroke="#000"/>
<line x1="287.5" y1="65" x2="287.5" y2="76" stroke="#000"/>
<line x1="287.5" y1="365" x2="287.5" y2="376" stroke="#000"/>
<line x1="234.5" y1="65" x2="234.5" y2="71" stroke="#000"/>
<line x1="234.5" y1="370" x2="234.5" y2="376" stroke="#000"/>
<line x1="181.5" y1="65" x2="181.5" y2="76" stroke="#000"/>
<line x1="181.5" y1="365" x2="181.5" y2="376" stroke="#000"/>
<line x1="128.5" y1="65" x2="128.5" y2="71" stroke="#000"/>
<line x1="128.5" y1="370" x2="128.5" y2="376" stroke="#000"/>
</g>
<g fill="#000">
<text transform="translate(309,30) scale(1,0.9)" font-family="Liberation Mono" font-weight="bold" font-size="16">R0962</text>
<text transform="translate(219,420) scale(1,0.9)" font-family="Liberation Mono" font-weight="bold" font-size="16">Percent of Residues (CA)</text>
<text transform="translate(60,395) scale(1,0.9)" font-family="Liberation Mono" font-weight="bold" font-size="16">0</text>
<text transform="translate(171,395) scale(1,0.9)" font-family="Liberation Mono" font-weight="bold" font-size="16">20</text>
<text transform="translate(277,395) scale(1,0.9)" font-family="Liberation Mono" font-weight="bold" font-size="16">40</text>
<text transform="translate(383,395) scale(1,0.9)" font-family="Liberation Mono" font-weight="bold" font-size="16">60</text>
<text transform="translate(489,395) scale(1,0.9)" font-family="Liberation Mono" font-weight="bold" font-size="16">80</text>
<text transform="translate(595,395) scale(1,0.9)" font-family="Liberation Mono" font-weight="bold" font-size="16">100</text>
<text transform="translate(31,232) rotate(-90) scale(1,0.9)" text-anchor="middle" font-family="Liberation Mono" font-weight="bold" font-size="16">Distance Cutoff, A</text>
<text transform="translate(55.5,375) rotate(-90) scale(1,0.9)" text-anchor="middle" font-family="Liberation Mono" font-weight="bold" font-size="16">0</text>
<text transform="translate(55.5,220) rotate(-90) scale(1,0.9)" text-anchor="middle" font-family="Liberation Mono" font-weight="bold" font-size="16">5</text>
<text transform="translate(55.5,65.5) rotate(-90) scale(1,0.9)" text-anchor="middle" font-family="Liberation Mono" font-weight="bold" font-size="16">10</text>
</g>
</svg>
</body></html>
